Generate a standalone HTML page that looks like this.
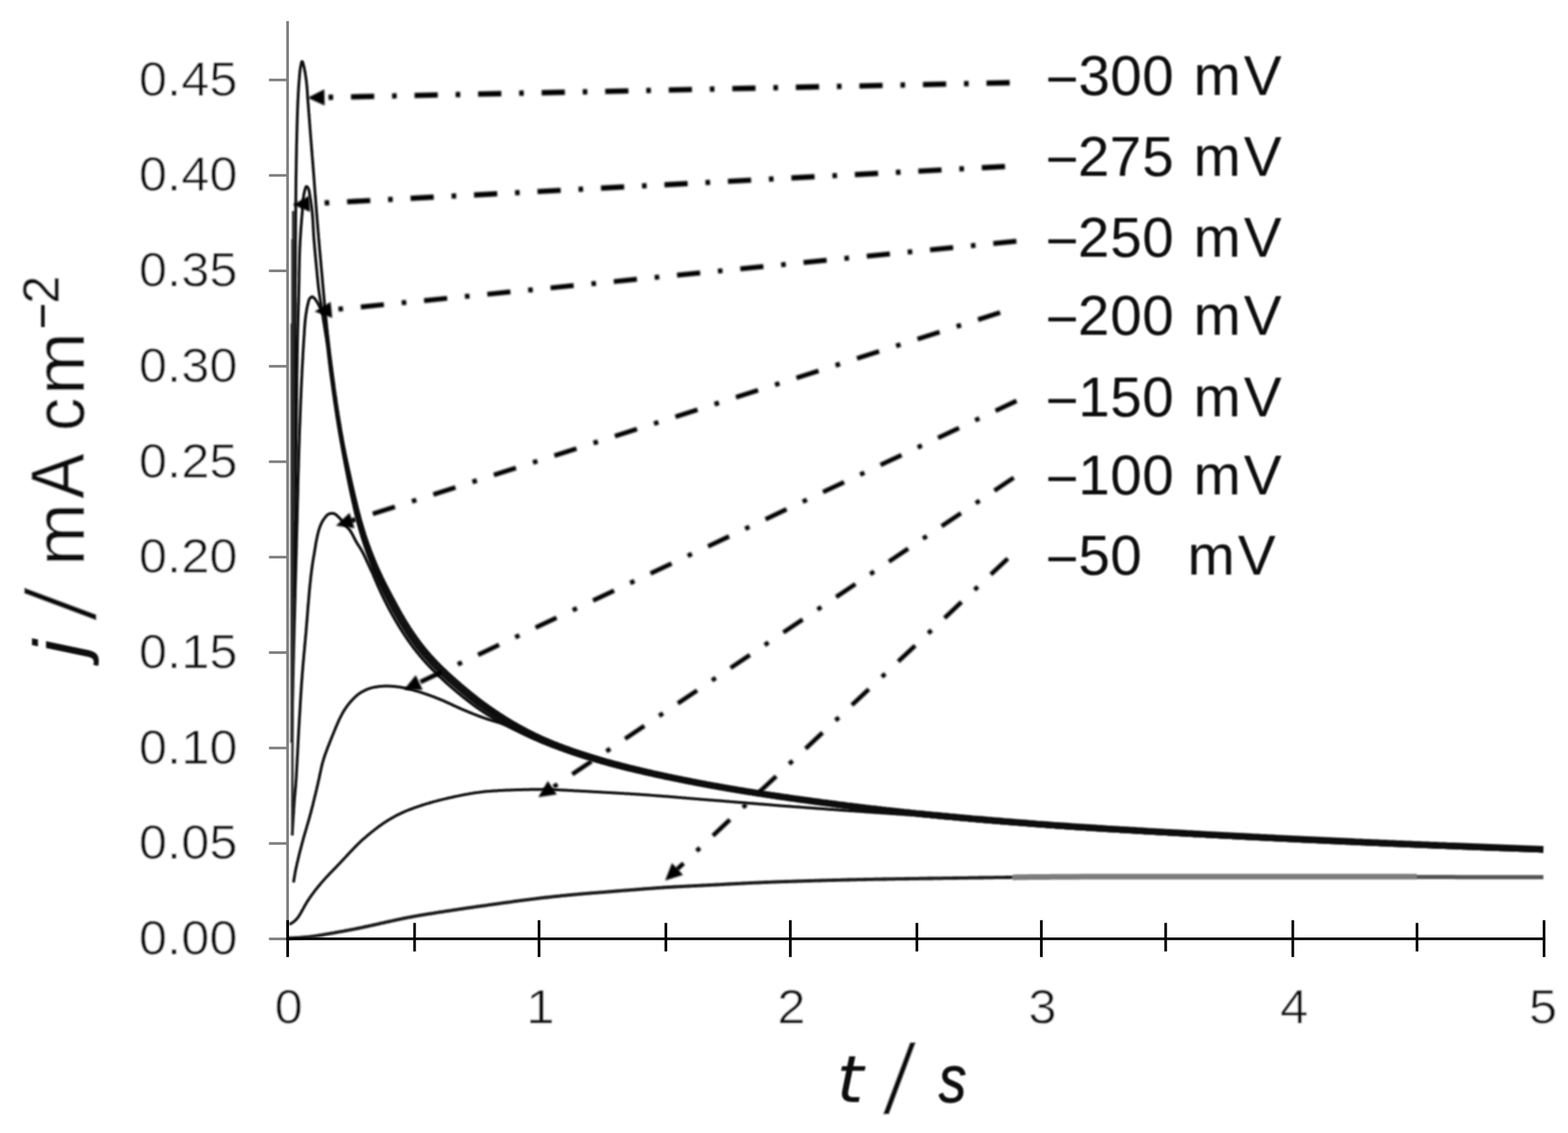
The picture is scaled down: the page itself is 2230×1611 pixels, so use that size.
<!DOCTYPE html>
<html lang="en"><head><meta charset="utf-8"><title>Current density transients</title>
<style>html,body{margin:0;padding:0;background:#fff;}body{width:2230px;height:1611px;overflow:hidden;}svg{display:block;}text{font-family:"Liberation Sans",sans-serif;fill:#0a0a0a;}</style></head><body>
<svg width="2230" height="1611" viewBox="0 0 2230 1611">
<defs><filter id="soft" x="-2%" y="-2%" width="104%" height="104%"><feGaussianBlur stdDeviation="1.1"/></filter><filter id="soft2" x="-2%" y="-2%" width="104%" height="104%"><feGaussianBlur stdDeviation="0.5"/></filter><filter id="soft3" x="-2%" y="-2%" width="104%" height="104%"><feGaussianBlur stdDeviation="1.6"/></filter></defs>
<rect width="2230" height="1611" fill="#fff"/>
<g filter="url(#soft)">
<g fill="none" stroke-linejoin="round" stroke-linecap="butt">
<path d="M417.6 742.0L417.6 740.7L417.7 739.4L417.7 738.1L417.7 736.9L417.7 735.7L417.8 734.5L417.8 733.3L417.8 732.1L417.8 730.8L417.9 729.5L417.9 728.2L417.9 726.7L417.9 725.2L418.0 723.6L418.0 721.9L418.0 720.0L418.0 715.1L418.1 709.6L418.1 703.4L418.2 696.6L418.2 689.4L418.2 681.8L418.2 673.9L418.3 665.7L418.3 657.3L418.3 648.8L418.3 640.3L418.4 631.9L418.4 623.5L418.4 615.4L418.5 607.5L418.5 600.0L418.5 593.0L418.6 586.1L418.6 579.3L418.7 572.6L418.7 565.8L418.8 559.1L418.8 552.5L418.9 545.8L418.9 539.0L419.0 532.3L419.0 525.5L419.1 518.6L419.1 511.6L419.2 504.5L419.2 497.3L419.3 490.0L419.4 481.2L419.4 472.2L419.5 462.9L419.5 453.4L419.6 443.8L419.7 434.1L419.7 424.4L419.8 414.6L419.9 404.8L419.9 395.1L420.0 385.4L420.0 375.9L420.1 366.6L420.2 357.5L420.2 348.6L420.3 340.0L420.4 333.2L420.4 326.5L420.4 319.9L420.5 313.4L420.5 307.0L420.6 300.7L420.6 294.5L420.7 288.3L420.7 282.2L420.8 276.1L420.8 270.1L420.9 264.0L420.9 258.0L421.0 252.0L421.1 246.0L421.2 240.0L421.3 234.3L421.4 228.6L421.5 222.8L421.6 217.0L421.7 211.1L421.8 205.3L422.0 199.5L422.1 193.8L422.2 188.2L422.4 182.7L422.5 177.3L422.7 172.0L422.8 167.0L423.0 162.1L423.1 157.4L423.3 153.0L423.4 150.2L423.5 147.6L423.6 144.9L423.7 142.4L423.9 139.9L424.0 137.5L424.1 135.2L424.2 132.9L424.3 130.6L424.5 128.4L424.6 126.3L424.7 124.1L424.9 122.1L425.0 120.0L425.1 118.0L425.3 116.0L425.4 114.5L425.5 113.0L425.7 111.5L425.8 110.1L425.9 108.6L426.0 107.2L426.1 105.8L426.3 104.5L426.4 103.1L426.5 101.8L426.7 100.6L426.8 99.4L427.0 98.2L427.1 97.1L427.3 96.0L427.5 95.0L427.6 94.4L427.7 93.8L427.9 93.1L428.0 92.5L428.1 91.8L428.2 91.2L428.4 90.6L428.5 90.0L428.6 89.5L428.8 89.0L428.9 88.5L429.0 88.2L429.2 87.8L429.3 87.6L429.5 87.5L429.6 87.4L429.7 87.4L429.9 87.6L430.0 87.8L430.2 88.0L430.3 88.3L430.5 88.7L430.6 89.1L430.8 89.6L430.9 90.1L431.1 90.6L431.3 91.2L431.4 91.7L431.6 92.3L431.7 92.9L431.9 93.4L432.0 94.0L432.3 95.0L432.5 96.1L432.8 97.3L433.0 98.6L433.3 99.9L433.6 101.2L433.8 102.7L434.1 104.1L434.3 105.6L434.5 107.1L434.8 108.6L435.0 110.1L435.2 111.6L435.4 113.1L435.6 114.6L435.8 116.0L436.0 117.5L436.1 119.0L436.3 120.5L436.4 122.0L436.6 123.5L436.7 125.0L436.8 126.5L436.9 128.1L437.0 129.6L437.1 131.1L437.2 132.7L437.3 134.2L437.4 135.7L437.5 137.2L437.6 138.7L437.7 140.2L437.8 141.7L437.9 143.1L438.0 144.5L438.1 146.0L438.3 147.4L438.4 148.8L438.5 150.2L438.6 151.6L438.7 153.1L438.8 154.5L438.9 155.9L439.0 157.3L439.1 158.8L439.2 160.2L439.4 161.7L439.5 163.1L439.6 164.7L439.7 166.3L439.8 167.9L440.0 169.5L440.1 171.1L440.2 172.7L440.3 174.3L440.4 175.9L440.6 177.5L440.7 179.1L440.8 180.8L440.9 182.4L441.1 184.0L441.2 185.7L441.3 187.3L441.4 188.9L441.6 190.6L441.7 192.2L441.8 193.9L442.0 195.6L442.1 197.2L442.2 198.9L442.4 200.6L442.5 202.2L442.6 203.9L442.8 205.6L442.9 207.3L443.0 209.0L443.2 210.7L443.3 212.3L443.4 214.0L443.6 215.7L443.7 217.5L443.8 219.2L444.0 221.0L444.1 222.7L444.3 224.5L444.4 226.2L444.6 228.0L444.7 229.8L444.8 231.5L445.0 233.3L445.1 235.1L445.3 236.9L445.4 238.7L445.5 240.5L445.7 242.3L445.8 244.1L446.0 246.0L446.1 248.0L446.3 249.9L446.4 251.9L446.6 253.9L446.7 255.9L446.9 257.9L447.0 259.9L447.2 261.9L447.3 263.9L447.5 265.9L447.6 267.9L447.8 269.9L447.9 271.9L448.1 273.9L448.2 275.9L448.4 277.9L448.5 280.0L448.7 282.0L448.9 284.0L449.0 286.1L449.2 288.1L449.3 290.2L449.5 292.2L449.6 294.3L449.8 296.4L450.0 298.4L450.1 300.5L450.3 302.5L450.4 304.6L450.6 306.6L450.8 308.7L450.9 310.7L451.1 312.8L451.3 314.8L451.4 316.9L451.6 318.9L451.8 321.0L451.9 323.1L452.1 325.1L452.3 327.2L452.4 329.2L452.6 331.3L452.8 333.3L453.0 335.4L453.1 337.4L453.3 339.5L453.5 341.5L453.7 343.6L453.8 345.6L454.0 347.6L454.2 349.6L454.4 351.7L454.5 353.7L454.7 355.7L454.9 357.7L455.1 359.7L455.3 361.8L455.4 363.8L455.6 365.8L455.8 367.9L456.0 369.9L456.2 371.9L456.4 374.0L456.5 376.1L456.7 378.2L456.9 380.3L457.1 382.4L457.3 384.5L457.5 386.7L457.7 388.8L457.9 390.9L458.1 393.0L458.3 395.2L458.4 397.3L458.6 399.5L458.8 401.6L459.0 403.7L459.2 405.9L459.4 408.0L459.6 410.3L459.8 412.5L460.0 414.7L460.2 416.9L460.4 419.2L460.6 421.4L460.8 423.7L461.0 425.9L461.2 428.2L461.4 430.4L461.6 432.6L461.9 434.9L462.1 437.1L462.3 439.3L462.5 441.5L462.7 443.7L462.9 445.9L463.1 448.0L463.3 450.1L463.5 452.3L463.7 454.4L464.0 456.5L464.2 458.6L464.4 460.7L464.6 462.8L464.8 464.9L465.0 467.0L465.3 469.1L465.5 471.2L465.7 473.2L465.9 475.3L466.2 477.3L466.4 479.3L466.6 481.2L466.8 483.2L467.0 485.1L467.3 487.0L467.5 488.9L467.7 490.8L467.9 492.7L468.2 494.6L468.4 496.5L468.6 498.4L468.8 500.3L469.1 502.2L469.3 504.1L469.5 506.0L469.8 507.9L470.0 509.7L470.2 511.5L470.5 513.3L470.7 515.2L470.9 517.0L471.2 518.8L471.4 520.6L471.6 522.4L471.9 524.2L472.1 526.0L472.3 527.8L472.6 529.6L472.8 531.4L473.0 533.2L473.3 535.0L473.5 536.8L473.8 538.6L474.0 540.3L474.2 542.1L474.5 543.8L474.7 545.6L475.0 547.3L475.2 549.1L475.4 550.8L475.7 552.6L475.9 554.3L476.2 556.0L476.4 557.8L476.7 559.5L476.9 561.3L477.2 563.0L477.4 564.7L477.7 566.4L477.9 568.2L478.2 569.9L478.4 571.6L478.7 573.3L478.9 575.0L479.2 576.7L479.5 578.4L479.7 580.1L480.0 581.8L480.2 583.5L480.5 585.2L480.8 586.9L481.0 588.6L481.3 590.3L481.6 592.0L481.8 593.6L482.1 595.3L482.4 596.9L482.6 598.6L482.9 600.2L483.2 601.9L483.5 603.5L483.7 605.2L484.0 606.8L484.3 608.5L484.6 610.1L484.8 611.8L485.1 613.4L485.4 615.0L485.7 616.7L486.0 618.3L486.3 619.9L486.6 621.5L486.9 623.1L487.1 624.7L487.4 626.3L487.7 628.0L488.0 629.6L488.3 631.2L488.6 632.8L488.9 634.4L489.2 635.9L489.5 637.5L489.9 639.1L490.2 640.7L490.5 642.3L490.8 643.9L491.1 645.5L491.4 647.1L491.8 648.7L492.1 650.2L492.4 651.8L492.8 653.4L493.1 655.0L493.4 656.5L493.8 658.1L494.1 659.7L494.4 661.3L494.8 662.8L495.1 664.4L495.5 666.0L495.8 667.6L496.1 669.1L496.5 670.7L496.8 672.3L497.2 673.9L497.5 675.5L497.9 677.1L498.2 678.6L498.6 680.2L499.0 681.8L499.3 683.4L499.7 685.0L500.0 686.6L500.4 688.1L500.7 689.7L501.1 691.3L501.5 692.9L501.8 694.4L502.2 696.0L502.5 697.6L502.9 699.1L503.3 700.7L503.6 702.2L504.0 703.8L504.3 705.3L504.7 706.9L505.1 708.4L505.4 710.0L505.8 711.5L506.2 713.1L506.6 714.6L506.9 716.1L507.3 717.7L507.7 719.2L508.1 720.7L508.4 722.2L508.8 723.6L509.2 725.1L509.5 726.6L509.9 728.1L510.3 729.5L510.7 731.0L511.1 732.4L511.5 733.9L511.8 735.4L512.2 736.8L512.6 738.2L513.0 739.7L513.4 741.1L513.8 742.5L514.2 743.9L514.6 745.2L515.0 746.6L515.4 747.9L515.8 749.3L516.2 750.6L516.6 751.9L517.0 753.3L517.4 754.6L517.8 755.9L518.2 757.2L518.6 758.5L519.0 759.8L519.4 761.1L519.9 762.4L520.3 763.7L520.7 764.9L521.1 766.2L521.5 767.4L521.9 768.6L522.4 769.8L522.8 771.0L523.2 772.2L523.6 773.4L524.1 774.6L524.5 775.8L524.9 777.0L525.4 778.2L525.8 779.4L526.2 780.6L526.7 781.8L527.1 782.9L527.6 784.1L528.0 785.2L528.4 786.4L528.9 787.5L529.3 788.7L529.8 789.8L530.2 790.9L530.7 792.0L531.1 793.2L531.6 794.3L532.0 795.4L532.5 796.5L533.0 797.7L533.4 798.8L533.9 799.9L534.4 801.0L534.8 802.1L535.3 803.2L535.8 804.3L536.2 805.3L536.7 806.4L537.2 807.5L537.7 808.6L538.2 809.6L538.6 810.7L539.1 811.8L539.6 812.9L540.1 813.9L540.6 815.0L541.1 816.0L541.6 817.1L542.1 818.2L542.6 819.2L543.1 820.3L543.6 821.3L544.1 822.4L544.6 823.4L545.1 824.5L545.6 825.5L546.1 826.5L546.7 827.6L547.2 828.6L547.7 829.6L548.2 830.7L548.7 831.7L549.3 832.8L549.8 833.8L550.3 834.8L550.9 835.9L551.4 836.9L551.9 837.9L552.4 838.9L553.0 840.0L553.5 841.0L554.1 842.0L554.6 843.1L555.1 844.1L555.7 845.1L556.2 846.1L556.8 847.2L557.3 848.2L557.9 849.2L558.4 850.2L559.0 851.3L559.5 852.3L560.1 853.3L560.6 854.3L561.2 855.4L561.7 856.4L562.3 857.4L562.8 858.5L563.4 859.5L563.9 860.5L564.5 861.5L565.0 862.6L565.6 863.6L566.2 864.6L566.7 865.6L567.3 866.6L567.9 867.7L568.4 868.7L569.0 869.7L569.6 870.7L570.2 871.7L570.7 872.7L571.3 873.7L571.9 874.7L572.5 875.7L573.1 876.7L573.6 877.7L574.2 878.7L574.8 879.7L575.4 880.7L576.0 881.7L576.6 882.7L577.2 883.7L577.8 884.7L578.4 885.7L579.0 886.7L579.6 887.6L580.2 888.6L580.8 889.6L581.5 890.5L582.1 891.5L582.7 892.5L583.3 893.4L583.9 894.4L584.6 895.4L585.2 896.3L585.8 897.3L586.5 898.2L587.1 899.2L587.7 900.1L588.4 901.0L589.0 902.0L589.7 902.9L590.3 903.8L590.9 904.8L591.6 905.7L592.2 906.6L592.9 907.5L593.6 908.4L594.2 909.3L594.9 910.2L595.5 911.1L596.2 912.0L596.9 912.9L597.6 913.8L598.2 914.7L598.9 915.6L599.6 916.5L600.3 917.3L601.0 918.2L601.6 919.1L602.3 919.9L603.0 920.8L603.7 921.6L604.4 922.5L605.1 923.3L605.8 924.2L606.5 925.0L607.2 925.9L607.9 926.7L608.7 927.6L609.4 928.4L610.1 929.2L610.8 930.0L611.5 930.9L612.3 931.7L613.0 932.5L613.7 933.3L614.5 934.1L615.2 934.9L615.9 935.7L616.7 936.5L617.4 937.4L618.2 938.2L618.9 939.0L619.7 939.7L620.5 940.5L621.2 941.3L622.0 942.1L622.8 942.9L623.5 943.7L624.3 944.5L625.1 945.3L625.9 946.1L626.6 946.9L627.4 947.6L628.2 948.4L629.0 949.2L629.8 950.0L630.6 950.7L631.4 951.5L632.2 952.3L633.0 953.0L633.8 953.8L634.7 954.6L635.5 955.4L636.3 956.1L637.1 956.9L638.0 957.7L638.8 958.4L639.6 959.2L640.5 960.0L641.3 960.7L642.2 961.5L643.0 962.3L643.8 963.0L644.7 963.8L645.6 964.5L646.4 965.3L647.3 966.1L648.2 966.8L649.0 967.6L649.9 968.4L650.8 969.1L651.7 969.9L652.6 970.7L653.5 971.4L654.3 972.2L655.2 973.0L656.1 973.7L657.0 974.5L657.9 975.2L658.8 976.0L659.7 976.8L660.6 977.5L661.6 978.3L662.5 979.1L663.4 979.8L664.3 980.6L665.3 981.4L666.2 982.2L667.1 982.9L668.1 983.7L669.0 984.5L669.9 985.2L670.9 986.0L671.8 986.8L672.8 987.5L673.7 988.3L674.7 989.0L675.6 989.8L676.6 990.5L677.6 991.3L678.6 992.1L679.5 992.8L680.5 993.6L681.5 994.3L682.5 995.1L683.5 995.8L684.4 996.6L685.4 997.3L686.4 998.0L687.4 998.8L688.4 999.5L689.4 1000.3L690.4 1001.0L691.4 1001.7L692.5 1002.4L693.5 1003.2L694.5 1003.9L695.6 1004.6L696.6 1005.4L697.6 1006.1L698.7 1006.8L699.7 1007.5L700.8 1008.2L701.8 1009.0L702.9 1009.7L703.9 1010.4L705.0 1011.1L706.0 1011.8L707.1 1012.5L708.2 1013.2L709.3 1013.9L710.3 1014.7L711.4 1015.4L712.5 1016.1L713.6 1016.8L714.7 1017.5L715.8 1018.2L716.9 1018.9L718.0 1019.7L719.1 1020.4L720.3 1021.1L721.4 1021.8L722.5 1022.5L723.6 1023.1L724.7 1023.8L725.9 1024.5L727.0 1025.2L728.2 1025.9L729.4 1026.6L730.5 1027.3L731.7 1028.0L732.9 1028.6L734.1 1029.3L735.3 1030.0L736.5 1030.7L737.6 1031.3L738.8 1032.0L740.0 1032.6L741.2 1033.3L742.4 1034.0L743.7 1034.6L744.9 1035.3L746.1 1035.9L747.4 1036.6L748.6 1037.2L749.9 1037.9L751.1 1038.6L752.4 1039.2L753.6 1039.8L754.9 1040.5L756.2 1041.1L757.5 1041.8L758.7 1042.4L760.0 1043.0L761.3 1043.7L762.6 1044.3L763.9 1044.9L765.2 1045.5L766.5 1046.1L767.8 1046.8L769.2 1047.4L770.5 1048.0L771.8 1048.6L773.2 1049.2L774.5 1049.8L775.9 1050.4L777.2 1051.0L778.6 1051.5L779.9 1052.1L781.3 1052.7L782.7 1053.3L784.0 1053.9L785.4 1054.4L786.8 1055.0L788.2 1055.6L789.6 1056.1L791.0 1056.7L792.5 1057.2L793.9 1057.8L795.3 1058.4L796.8 1058.9L798.2 1059.4L799.7 1060.0L801.1 1060.5L802.6 1061.1L804.0 1061.6L805.5 1062.1L807.0 1062.6L808.4 1063.2L809.9 1063.7L811.4 1064.2L812.9 1064.8L814.4 1065.3L815.9 1065.8L817.5 1066.4L819.0 1066.9L820.5 1067.4L822.1 1067.9L823.6 1068.5L825.1 1069.0L826.7 1069.5L828.2 1070.0L829.8 1070.5L831.3 1071.0L832.9 1071.5L834.4 1072.0L836.0 1072.5L837.6 1073.0L839.2 1073.5L840.9 1074.0L842.5 1074.5L844.1 1075.0L845.7 1075.5L847.4 1076.0L849.0 1076.5L850.6 1077.0L852.3 1077.5L853.9 1077.9L855.5 1078.4L857.2 1078.9L858.8 1079.4L860.5 1079.8L862.2 1080.3L863.9 1080.8L865.6 1081.3L867.3 1081.7L869.1 1082.2L870.8 1082.7L872.5 1083.1L874.2 1083.6L876.0 1084.1L877.7 1084.5L879.5 1085.0L881.2 1085.5L883.0 1085.9L884.7 1086.4L886.5 1086.8L888.2 1087.3L890.0 1087.7L891.9 1088.2L893.7 1088.7L895.5 1089.1L897.3 1089.6L899.2 1090.0L901.0 1090.5L902.8 1090.9L904.7 1091.4L906.5 1091.8L908.4 1092.3L910.2 1092.7L912.1 1093.1L913.9 1093.6L915.8 1094.0L917.7 1094.5L919.6 1094.9L921.5 1095.4L923.5 1095.8L925.4 1096.2L927.3 1096.7L929.3 1097.1L931.2 1097.6L933.2 1098.0L935.1 1098.4L937.1 1098.9L939.1 1099.3L941.0 1099.7L943.0 1100.2L945.0 1100.6L947.0 1101.0L949.0 1101.4L951.0 1101.9L953.0 1102.3L955.1 1102.7L957.2 1103.2L959.2 1103.6L961.3 1104.0L963.4 1104.5L965.4 1104.9L967.5 1105.3L969.6 1105.7L971.7 1106.2L973.8 1106.6L975.9 1107.0L978.0 1107.4L980.1 1107.8L982.2 1108.2L984.3 1108.7L986.5 1109.1L988.7 1109.5L990.9 1109.9L993.1 1110.4L995.3 1110.8L997.5 1111.2L999.7 1111.6L1001.9 1112.0L1004.1 1112.4L1006.3 1112.9L1008.5 1113.3L1010.8 1113.7L1013.0 1114.1L1015.2 1114.5L1017.5 1114.9L1019.8 1115.3L1022.1 1115.7L1024.4 1116.1L1026.7 1116.5L1029.0 1117.0L1031.4 1117.4L1033.7 1117.8L1036.0 1118.2L1038.4 1118.6L1040.7 1119.0L1043.1 1119.4L1045.4 1119.8L1047.8 1120.2L1050.2 1120.6L1052.5 1121.0L1054.9 1121.4L1057.4 1121.8L1059.8 1122.2L1062.3 1122.6L1064.8 1123.0L1067.2 1123.4L1069.7 1123.8L1072.2 1124.2L1074.7 1124.6L1077.2 1125.0L1079.6 1125.3L1082.1 1125.7L1084.6 1126.1L1087.2 1126.5L1089.7 1126.9L1092.2 1127.3L1094.7 1127.7L1097.3 1128.1L1099.9 1128.4L1102.5 1128.8L1105.1 1129.2L1107.8 1129.6L1110.4 1130.0L1113.0 1130.4L1115.7 1130.8L1118.3 1131.1L1121.0 1131.5L1123.6 1131.9L1126.3 1132.3L1128.9 1132.7L1131.6 1133.0L1134.3 1133.4L1137.0 1133.8L1139.7 1134.2L1142.5 1134.6L1145.3 1134.9L1148.0 1135.3L1150.8 1135.7L1153.6 1136.1L1156.4 1136.5L1159.2 1136.8L1162.0 1137.2L1164.8 1137.6L1167.7 1138.0L1170.5 1138.4L1173.3 1138.7L1176.1 1139.1L1179.0 1139.5L1181.8 1139.8L1184.8 1140.2L1187.7 1140.6L1190.6 1141.0L1193.6 1141.4L1196.5 1141.7L1199.5 1142.1L1202.5 1142.5L1205.5 1142.9L1208.4 1143.2L1211.4 1143.6L1214.4 1144.0L1217.4 1144.3L1220.4 1144.7L1223.4 1145.1L1226.4 1145.4L1229.4 1145.8L1232.6 1146.2L1235.7 1146.5L1238.8 1146.9L1241.9 1147.2L1245.1 1147.6L1248.2 1148.0L1251.4 1148.3L1254.5 1148.7L1257.7 1149.0L1260.9 1149.4L1264.0 1149.7L1267.2 1150.1L1270.4 1150.4L1273.6 1150.8L1276.8 1151.1L1280.0 1151.5L1283.3 1151.8L1286.6 1152.2L1290.0 1152.5L1293.3 1152.8L1296.6 1153.2L1300.0 1153.5L1303.3 1153.9L1306.7 1154.2L1310.0 1154.5L1313.4 1154.8L1316.7 1155.2L1320.1 1155.5L1323.5 1155.8L1326.9 1156.2L1330.3 1156.5L1333.7 1156.8L1337.2 1157.1L1340.7 1157.5L1344.3 1157.8L1347.8 1158.1L1351.3 1158.5L1354.9 1158.8L1358.4 1159.1L1362.0 1159.4L1365.6 1159.8L1369.1 1160.1L1372.7 1160.4L1376.3 1160.7L1379.9 1161.0L1383.5 1161.4L1387.1 1161.7L1390.7 1162.0L1394.4 1162.3L1398.2 1162.6L1401.9 1162.9L1405.7 1163.3L1409.4 1163.6L1413.2 1163.9L1417.0 1164.2L1420.8 1164.5L1424.5 1164.8L1428.3 1165.2L1432.1 1165.5L1435.9 1165.8L1439.8 1166.1L1443.6 1166.4L1447.4 1166.7L1451.2 1167.0L1455.2 1167.3L1459.2 1167.6L1463.1 1167.9L1467.1 1168.2L1471.1 1168.5L1475.1 1168.9L1479.1 1169.2L1483.1 1169.5L1487.2 1169.8L1491.2 1170.1L1495.2 1170.4L1499.3 1170.7L1503.3 1170.9L1507.4 1171.2L1511.4 1171.5L1515.5 1171.8L1519.7 1172.1L1523.9 1172.4L1528.1 1172.7L1532.4 1173.0L1536.6 1173.2L1540.9 1173.5L1545.1 1173.8L1549.4 1174.1L1553.6 1174.3L1557.9 1174.6L1562.2 1174.9L1566.5 1175.1L1570.8 1175.4L1575.1 1175.7L1579.4 1175.9L1583.7 1176.2L1588.2 1176.5L1592.7 1176.8L1597.2 1177.0L1601.7 1177.3L1606.2 1177.6L1610.7 1177.8L1615.2 1178.1L1619.7 1178.4L1624.2 1178.6L1628.8 1178.9L1633.3 1179.2L1637.9 1179.4L1642.4 1179.7L1647.0 1180.0L1651.6 1180.2L1656.2 1180.5L1660.9 1180.7L1665.7 1181.0L1670.4 1181.3L1675.2 1181.6L1680.0 1181.8L1684.8 1182.1L1689.6 1182.4L1694.4 1182.6L1699.2 1182.9L1704.0 1183.1L1708.8 1183.4L1713.7 1183.7L1718.5 1183.9L1723.4 1184.2L1728.2 1184.5L1733.1 1184.7L1738.2 1185.0L1743.2 1185.3L1748.3 1185.5L1753.3 1185.8L1758.4 1186.0L1763.5 1186.3L1768.6 1186.6L1773.7 1186.8L1778.8 1187.1L1783.9 1187.4L1789.0 1187.6L1794.2 1187.9L1799.3 1188.1L1804.5 1188.4L1809.6 1188.6L1814.8 1188.9L1820.1 1189.2L1825.5 1189.4L1830.9 1189.7L1836.2 1190.0L1841.6 1190.2L1847.0 1190.5L1852.4 1190.7L1857.8 1191.0L1863.3 1191.3L1868.7 1191.5L1874.1 1191.8L1879.6 1192.0L1885.1 1192.3L1890.5 1192.6L1896.0 1192.8L1901.5 1193.1L1907.2 1193.3L1912.9 1193.6L1918.6 1193.8L1924.3 1194.1L1930.0 1194.4L1935.7 1194.6L1941.5 1194.9L1947.2 1195.1L1953.0 1195.4L1958.7 1195.6L1964.5 1195.9L1970.3 1196.1L1976.1 1196.4L1981.9 1196.6L1987.7 1196.9L1993.6 1197.1L1999.6 1197.4L2005.6 1197.6L2011.7 1197.9L2017.7 1198.1L2023.8 1198.4L2029.9 1198.6L2036.0 1198.9L2042.1 1199.1L2048.2 1199.4L2054.3 1199.6L2060.5 1199.9L2066.6 1200.1L2072.8 1200.3L2078.9 1200.6L2085.1 1200.8L2091.3 1201.1L2097.7 1201.3L2104.1 1201.6L2110.6 1201.8L2117.0 1202.1L2123.5 1202.3L2130.0 1202.5L2136.5 1202.8L2143.0 1203.0L2149.5 1203.3L2156.0 1203.5L2162.6 1203.7L2169.1 1204.0L2175.6 1204.2L2182.1 1204.4L2188.6 1204.7L2195.1 1204.9" stroke="#0a0a0a" stroke-width="4.0"/>
<path d="M416.0 897.0L416.0 895.3L416.1 893.7L416.1 892.2L416.1 890.7L416.2 889.2L416.2 887.7L416.2 886.2L416.3 884.6L416.3 883.1L416.4 881.5L416.4 879.8L416.4 878.0L416.5 876.2L416.5 874.2L416.6 872.2L416.6 870.0L416.7 865.2L416.8 859.9L416.9 854.1L417.0 847.9L417.2 841.4L417.3 834.6L417.4 827.5L417.6 820.2L417.7 812.8L417.9 805.2L418.0 797.5L418.1 789.9L418.3 782.3L418.4 774.7L418.6 767.3L418.7 760.0L418.8 752.2L419.0 744.3L419.1 736.4L419.3 728.4L419.4 720.3L419.6 712.3L419.7 704.1L419.9 696.0L420.0 687.8L420.2 679.6L420.3 671.3L420.5 663.1L420.6 654.8L420.7 646.6L420.9 638.3L421.0 630.0L421.1 621.3L421.3 612.4L421.4 603.4L421.5 594.2L421.6 585.0L421.8 575.8L421.9 566.5L422.0 557.3L422.1 548.2L422.2 539.2L422.3 530.4L422.5 521.7L422.6 513.4L422.7 505.2L422.9 497.4L423.0 490.0L423.1 485.0L423.2 480.1L423.3 475.4L423.4 470.8L423.5 466.4L423.7 462.0L423.8 457.7L423.9 453.5L424.0 449.3L424.1 445.2L424.2 441.1L424.3 436.9L424.5 432.8L424.6 428.6L424.7 424.3L424.8 420.0L424.9 415.6L425.0 411.2L425.1 406.7L425.2 402.2L425.3 397.7L425.3 393.2L425.4 388.6L425.5 384.2L425.6 379.7L425.7 375.3L425.8 370.9L425.9 366.5L426.0 362.3L426.2 358.1L426.3 354.0L426.5 350.0L426.7 346.7L426.8 343.5L427.0 340.3L427.2 337.1L427.4 334.0L427.6 330.9L427.8 327.8L428.0 324.8L428.2 321.8L428.5 318.9L428.7 316.0L428.9 313.2L429.1 310.4L429.4 307.7L429.6 305.0L429.8 302.4L430.0 300.5L430.1 298.5L430.2 296.6L430.4 294.7L430.5 292.8L430.7 290.9L430.8 289.1L430.9 287.3L431.1 285.6L431.2 283.9L431.4 282.3L431.6 280.7L431.8 279.2L432.0 277.7L432.2 276.3L432.5 275.0L432.7 274.2L432.8 273.4L433.0 272.6L433.2 271.8L433.4 270.9L433.6 270.2L433.8 269.4L434.0 268.7L434.2 268.0L434.4 267.3L434.6 266.8L434.8 266.3L435.1 265.9L435.3 265.5L435.6 265.3L435.8 265.2L436.0 265.2L436.1 265.2L436.3 265.3L436.5 265.4L436.6 265.5L436.8 265.6L437.0 265.8L437.2 266.0L437.4 266.2L437.5 266.4L437.7 266.7L437.9 266.9L438.0 267.2L438.2 267.5L438.4 267.7L438.5 268.0L438.7 268.5L439.0 269.1L439.2 269.7L439.4 270.4L439.5 271.2L439.7 271.9L439.9 272.8L440.0 273.6L440.1 274.4L440.3 275.3L440.4 276.1L440.5 277.0L440.6 277.8L440.8 278.6L440.9 279.3L441.0 280.0L441.1 280.5L441.2 281.1L441.3 281.6L441.4 282.1L441.4 282.6L441.5 283.1L441.6 283.6L441.7 284.1L441.8 284.6L441.8 285.1L441.9 285.6L442.0 286.0L442.0 286.5L442.1 287.0L442.2 287.5L442.3 288.0L442.3 288.5L442.4 289.0L442.5 289.5L442.5 290.0L442.6 290.5L442.7 291.0L442.8 291.5L442.8 292.0L442.9 292.5L443.0 293.0L443.0 293.5L443.1 294.0L443.2 294.5L443.2 295.0L443.3 295.5L443.4 296.0L443.4 296.5L443.5 297.0L443.5 297.5L443.6 298.0L443.7 298.5L443.7 299.0L443.8 299.5L443.8 300.0L443.9 300.5L443.9 301.0L444.0 301.5L444.1 302.0L444.1 302.5L444.2 303.0L444.2 303.5L444.2 304.0L444.3 304.5L444.3 305.0L444.4 305.5L444.4 306.0L444.5 306.5L444.5 307.0L444.5 307.5L444.6 308.0L444.6 308.5L444.6 309.0L444.7 309.5L444.7 310.0L444.7 310.5L444.8 311.0L444.8 311.5L444.8 312.0L444.9 312.5L444.9 313.0L444.9 313.5L445.0 314.0L445.0 314.5L445.0 315.0L445.1 315.5L445.1 316.0L445.1 316.5L445.1 317.0L445.2 317.5L445.2 318.0L445.2 318.5L445.2 319.0L445.3 319.5L445.3 320.0L445.3 320.5L445.4 321.0L445.4 321.5L445.4 322.0L445.4 322.5L445.5 323.0L445.5 323.5L445.5 324.0L445.5 324.5L445.6 325.0L445.6 325.5L445.6 326.0L445.6 326.5L445.7 327.0L445.7 327.5L445.7 328.0L445.7 328.5L445.8 329.0L445.8 329.5L445.8 330.0L445.9 330.5L445.9 331.0L445.9 331.5L445.9 332.0L446.0 332.5L446.0 333.0L446.0 333.5L446.1 334.0L446.1 334.5L446.1 335.0L446.2 335.5L446.2 336.0L446.2 336.5L446.3 337.0L446.3 337.5L446.3 338.0L446.4 338.5L446.4 339.0L446.5 339.5L446.5 340.0L446.5 340.5L446.6 341.0L446.6 341.5L446.7 342.0L446.7 342.5L446.7 343.0L446.8 343.5L446.8 344.0L446.9 344.5L446.9 345.0L447.0 345.5L447.0 346.0L447.0 346.5L447.1 347.0L447.1 347.5L447.2 348.0L447.2 348.5L447.3 349.0L447.3 349.5L447.3 350.0L447.4 350.5L447.4 351.0L447.5 351.5L447.5 352.0L447.6 352.5L447.6 353.0L447.6 353.5L447.7 354.0L447.7 354.5L447.8 355.0L447.8 355.5L447.9 356.0L447.9 356.5L447.9 357.0L448.0 357.5L448.0 358.0L448.1 358.5L448.1 359.0L448.2 359.5L448.2 360.0L448.3 360.5L448.3 361.0L448.3 361.5L448.4 362.0L448.4 362.5L448.5 363.0L448.5 363.5L448.6 364.0L448.6 364.5L448.7 365.0L448.7 365.5L448.8 366.0L448.8 366.5L448.9 367.0L448.9 367.5L448.9 368.0L449.0 368.5L449.0 369.0L449.1 369.5L449.1 370.0L449.2 370.5L449.2 371.0L449.3 371.5L449.3 372.0L449.4 372.5L449.4 373.0L449.5 373.5L449.5 374.0L449.6 374.5L449.6 375.0L449.7 375.5L449.7 376.0L449.8 376.5L449.8 377.0L449.8 377.5L449.9 378.0L449.9 378.5L450.0 379.0L450.0 379.5L450.1 380.0L450.1 380.5L450.2 381.0L450.2 381.5L450.3 382.0L450.3 382.5L450.4 383.0L450.4 383.5L450.5 384.0L450.5 384.5L450.6 385.0L450.6 385.5L450.7 386.0L450.7 386.5L450.8 387.0L450.8 387.5L450.9 388.0L450.9 388.5L450.9 389.0L451.0 389.5L451.0 390.0L451.1 390.5L451.1 391.0L451.2 391.5L451.2 392.0L451.3 392.5L451.3 393.0L451.4 393.5L451.4 394.0L451.5 394.5L451.5 395.0L451.6 395.5L451.6 396.0L451.7 396.5L451.7 397.0L451.8 397.5L451.8 398.0L451.9 398.5L451.9 399.0L451.9 399.5L452.0 400.0L452.1 400.5L452.1 401.0L452.2 401.5L452.2 402.0L452.3 402.5L452.3 403.0L452.4 403.5L452.4 404.0L452.5 404.5L452.5 405.0L452.6 405.5L452.6 406.0L452.7 406.5L452.7 407.0L452.8 407.5L452.9 408.0L452.9 408.5L453.0 409.0L453.0 409.5L453.1 410.0L453.2 410.5L453.2 411.0L453.3 411.5L453.4 412.0L453.4 412.5L453.5 413.0L453.6 413.5L453.6 414.0L453.7 414.5L453.8 415.0L453.8 415.5L453.9 416.0L454.0 416.5L454.0 417.0L454.1 417.5L454.2 418.0L454.3 418.5L454.3 419.0L454.4 419.5L454.5 420.0L454.6 420.5L454.6 421.0L454.7 421.5L454.8 422.0L454.9 422.5L454.9 423.0L455.0 423.5L455.1 424.0L455.2 424.5L455.3 425.0L455.3 425.5L455.4 426.0L455.5 426.5L455.6 427.0L455.7 427.5L455.8 428.0L455.8 428.5L455.9 429.0L456.0 429.5L456.1 430.0L456.2 430.5L456.3 431.0L456.4 431.5L456.5 432.0L456.5 432.5L456.6 433.0L456.7 433.5L456.8 434.0L456.9 434.5L457.0 435.0L457.1 435.5L457.2 436.0L457.3 436.5L457.4 437.0L457.5 437.5L457.6 438.0L457.6 438.5L457.7 439.0L457.8 439.5L457.9 440.0L458.0 440.5L458.1 441.0L458.2 441.5L458.3 442.0L458.4 442.5L458.5 443.0L458.6 443.5L458.7 444.0L458.8 444.5L458.9 445.0L459.0 445.5L459.1 446.0L459.2 446.5L459.3 447.0L459.4 447.5L459.5 448.0L459.6 448.5L459.7 449.0L459.8 449.5L459.9 450.0L460.0 450.5L460.1 451.0L460.2 451.5L460.3 452.0L460.5 452.5L460.6 453.0L460.7 453.5L460.8 454.0L460.9 454.5L461.0 455.0L461.1 455.5L461.2 456.0L461.3 456.5L461.4 457.0L461.5 457.5L461.6 458.0L461.8 458.4L461.9 458.9L462.0 459.4L462.1 459.9L462.2 460.4L462.3 460.9L462.4 461.4L462.5 461.9L462.6 462.4L462.8 462.9L462.9 463.5L463.0 464.0L463.1 464.7L463.2 465.4L463.4 466.1L463.5 466.8L463.6 467.5L463.8 468.3L463.9 469.0L464.0 469.8L464.1 470.5L464.3 471.3L464.4 472.1L464.5 473.0L464.6 473.8L464.8 474.7L464.9 475.6L465.0 476.5L465.2 477.8L465.4 479.2L465.6 480.7L465.8 482.3L465.9 483.9L466.1 485.5L466.3 487.2L466.5 488.8L466.7 490.5L466.8 492.3L467.0 494.0L467.2 495.7L467.4 497.4L467.6 499.1L467.8 500.7L468.0 502.3L468.1 503.9L468.3 505.4L468.5 507.0L468.7 508.5L468.9 510.1L469.1 511.6L469.3 513.2L469.5 514.7L469.6 516.3L469.8 517.8L470.0 519.3L470.2 520.9L470.4 522.4L470.6 523.9L470.8 525.5L471.0 527.0L471.2 528.5L471.4 530.0L471.6 531.5L471.8 533.0L472.0 534.5L472.2 536.0L472.4 537.4L472.6 538.9L472.8 540.4L473.0 541.9L473.2 543.4L473.4 544.9L473.6 546.4L473.8 547.8L474.0 549.3L474.2 550.8L474.4 552.3L474.6 553.7L474.8 555.2L475.0 556.6L475.2 558.1L475.4 559.6L475.6 561.0L475.8 562.5L476.0 563.9L476.3 565.4L476.5 566.8L476.7 568.3L476.9 569.7L477.1 571.2L477.3 572.6L477.5 574.1L477.7 575.5L478.0 576.9L478.2 578.4L478.4 579.8L478.6 581.2L478.8 582.6L479.0 584.1L479.3 585.5L479.5 586.9L479.7 588.3L479.9 589.7L480.1 591.2L480.4 592.6L480.6 594.0L480.8 595.4L481.0 596.8L481.3 598.2L481.5 599.6L481.7 601.0L481.9 602.4L482.2 603.8L482.4 605.1L482.6 606.5L482.9 607.9L483.1 609.3L483.3 610.7L483.6 612.0L483.8 613.4L484.0 614.8L484.3 616.2L484.5 617.5L484.7 618.9L485.0 620.3L485.2 621.6L485.5 623.0L485.7 624.3L485.9 625.7L486.2 627.0L486.4 628.4L486.7 629.8L486.9 631.1L487.2 632.4L487.4 633.8L487.7 635.1L487.9 636.5L488.2 637.8L488.4 639.2L488.7 640.5L488.9 641.9L489.2 643.2L489.4 644.5L489.7 645.9L489.9 647.2L490.2 648.5L490.5 649.8L490.7 651.2L491.0 652.5L491.3 653.8L491.5 655.2L491.8 656.5L492.1 657.8L492.3 659.1L492.6 660.5L492.9 661.8L493.1 663.1L493.4 664.5L493.7 665.8L494.0 667.1L494.2 668.5L494.5 669.8L494.8 671.1L495.1 672.5L495.3 673.8L495.6 675.1L495.9 676.5L496.2 677.8L496.5 679.2L496.7 680.5L497.0 681.8L497.3 683.2L497.6 684.5L497.9 685.8L498.2 687.1L498.5 688.5L498.7 689.8L499.0 691.1L499.3 692.5L499.6 693.8L499.9 695.1L500.2 696.5L500.5 697.8L500.8 699.1L501.1 700.4L501.4 701.8L501.6 703.1L501.9 704.4L502.2 705.7L502.5 707.0L502.8 708.3L503.1 709.6L503.4 710.9L503.7 712.2L504.0 713.5L504.3 714.8L504.6 716.1L504.9 717.3L505.2 718.6L505.5 719.9L505.8 721.2L506.2 722.5L506.5 723.7L506.8 725.0L507.1 726.3L507.4 727.5L507.7 728.7L508.0 730.0L508.3 731.2L508.6 732.4L508.9 733.6L509.3 734.9L509.6 736.1L509.9 737.3L510.2 738.5L510.5 739.7L510.9 740.9L511.2 742.1L511.5 743.3L511.8 744.5L512.2 745.7L512.5 746.8L512.8 748.0L513.1 749.1L513.5 750.2L513.8 751.4L514.1 752.5L514.4 753.6L514.8 754.8L515.1 755.9L515.4 757.0L515.8 758.1L516.1 759.2L516.5 760.3L516.8 761.4L517.2 762.5L517.5 763.6L517.8 764.6L518.2 765.7L518.5 766.7L518.8 767.8L519.2 768.8L519.5 769.8L519.9 770.9L520.2 771.9L520.6 772.9L520.9 774.0L521.3 775.0L521.7 776.0L522.0 777.0L522.4 778.0L522.7 779.1L523.1 780.0L523.4 781.0L523.8 782.0L524.2 783.0L524.5 784.0L524.9 785.0L525.2 785.9L525.6 786.9L526.0 787.9L526.3 788.9L526.7 789.8L527.1 790.8L527.5 791.8L527.8 792.7L528.2 793.7L528.6 794.7L529.0 795.6L529.3 796.6L529.7 797.5L530.1 798.4L530.5 799.4L530.9 800.3L531.2 801.2L531.6 802.2L532.0 803.1L532.4 804.0L532.8 805.0L533.2 805.9L533.6 806.8L534.0 807.7L534.4 808.7L534.8 809.6L535.1 810.5L535.5 811.4L535.9 812.3L536.3 813.2L536.7 814.1L537.1 815.0L537.5 815.9L538.0 816.8L538.4 817.7L538.8 818.6L539.2 819.5L539.6 820.4L540.0 821.3L540.4 822.2L540.8 823.1L541.3 824.0L541.7 824.9L542.1 825.8L542.5 826.7L542.9 827.6L543.3 828.5L543.8 829.3L544.2 830.2L544.6 831.1L545.1 832.0L545.5 832.9L545.9 833.7L546.3 834.6L546.8 835.5L547.2 836.4L547.6 837.3L548.1 838.1L548.5 839.0L549.0 839.9L549.4 840.8L549.8 841.6L550.3 842.5L550.7 843.4L551.2 844.3L551.6 845.1L552.1 846.0L552.5 846.9L553.0 847.8L553.4 848.6L553.9 849.5L554.3 850.4L554.8 851.2L555.2 852.1L555.7 853.0L556.2 853.9L556.6 854.7L557.1 855.6L557.5 856.5L558.0 857.3L558.5 858.2L558.9 859.1L559.4 860.0L559.9 860.8L560.3 861.7L560.8 862.6L561.3 863.4L561.7 864.3L562.2 865.2L562.7 866.0L563.2 866.9L563.6 867.8L564.1 868.6L564.6 869.5L565.1 870.3L565.6 871.2L566.0 872.1L566.5 872.9L567.0 873.8L567.5 874.6L568.0 875.5L568.5 876.3L569.0 877.2L569.5 878.1L570.0 878.9L570.5 879.8L571.0 880.6L571.5 881.4L572.0 882.3L572.5 883.1L573.0 884.0L573.5 884.8L574.0 885.6L574.5 886.5L575.0 887.3L575.5 888.1L576.0 889.0L576.6 889.8L577.1 890.6L577.6 891.5L578.1 892.3L578.6 893.1L579.2 893.9L579.7 894.8L580.2 895.6L580.8 896.4L581.3 897.2L581.8 898.0L582.3 898.8L582.9 899.6L583.4 900.4L584.0 901.2L584.5 902.0L585.0 902.8L585.6 903.6L586.1 904.4L586.7 905.2L587.2 906.0L587.8 906.8L588.3 907.6L588.9 908.3L589.5 909.1L590.0 909.9L590.6 910.7L591.1 911.4L591.7 912.2L592.3 913.0L592.8 913.8L593.4 914.5L594.0 915.3L594.5 916.0L595.1 916.8L595.7 917.6L596.3 918.3L596.8 919.0L597.4 919.8L598.0 920.5L598.6 921.3L599.2 922.0L599.8 922.7L600.4 923.5L600.9 924.2L601.5 924.9L602.1 925.6L602.7 926.4L603.3 927.1L603.9 927.8L604.5 928.5L605.1 929.2L605.8 929.9L606.4 930.6L607.0 931.4L607.6 932.1L608.2 932.8L608.8 933.5L609.4 934.2L610.1 934.9L610.7 935.5L611.3 936.2L611.9 936.9L612.6 937.6L613.2 938.3L613.8 939.0L614.5 939.7L615.1 940.3L615.7 941.0L616.4 941.7L617.0 942.4L617.7 943.1L618.3 943.7L619.0 944.4L619.6 945.1L620.3 945.8L620.9 946.4L621.6 947.1L622.3 947.8L622.9 948.4L623.6 949.1L624.2 949.7L624.9 950.4L625.6 951.1L626.3 951.7L626.9 952.4L627.6 953.1L628.3 953.7L629.0 954.4L629.7 955.0L630.3 955.7L631.0 956.3L631.7 957.0L632.4 957.6L633.1 958.3L633.8 958.9L634.5 959.6L635.2 960.2L635.9 960.9L636.6 961.5L637.3 962.2L638.0 962.8L638.8 963.5L639.5 964.1L640.2 964.8L640.9 965.4L641.6 966.1L642.4 966.7L643.1 967.4L643.8 968.0L644.6 968.7L645.3 969.3L646.0 969.9L646.8 970.6L647.5 971.2L648.2 971.9L649.0 972.5L649.7 973.2L650.5 973.8L651.2 974.5L652.0 975.1L652.8 975.8L653.5 976.4L654.3 977.1L655.0 977.7L655.8 978.4L656.6 979.0L657.4 979.6L658.1 980.3L658.9 980.9L659.7 981.6L660.4 982.2L661.2 982.9L662.0 983.5L662.8 984.2L663.6 984.8L664.4 985.5L665.2 986.1L666.0 986.8L666.8 987.4L667.6 988.0L668.4 988.7L669.2 989.3L670.0 990.0L670.8 990.6L671.6 991.3L672.4 991.9L673.2 992.5L674.1 993.2L674.9 993.8L675.7 994.4L676.6 995.1L677.4 995.7L678.2 996.3L679.1 997.0L679.9 997.6L680.7 998.2L681.6 998.9L682.4 999.5L683.3 1000.1L684.1 1000.7L685.0 1001.4L685.8 1002.0L686.7 1002.6L687.5 1003.2L688.4 1003.8L689.3 1004.4L690.1 1005.0L691.0 1005.6L691.9 1006.3L692.8 1006.9L693.7 1007.5L694.5 1008.1L695.4 1008.7L696.3 1009.3L697.2 1009.9L698.1 1010.5L699.0 1011.0L699.9 1011.6L700.8 1012.2L701.7 1012.8L702.6 1013.4L703.5 1014.0L704.4 1014.6L705.4 1015.2L706.3 1015.8L707.2 1016.4L708.1 1017.0L709.1 1017.5L710.0 1018.1L710.9 1018.7L711.8 1019.3L712.8 1019.9L713.7 1020.4L714.7 1021.0L715.6 1021.6L716.6 1022.2L717.5 1022.7L718.5 1023.3L719.4 1023.9L720.4 1024.5L721.4 1025.0L722.4 1025.6L723.3 1026.2L724.3 1026.7L725.3 1027.3L726.3 1027.9L727.2 1028.4L728.2 1029.0L729.2 1029.5L730.2 1030.1L731.2 1030.7L732.2 1031.2L733.2 1031.8L734.2 1032.3L735.3 1032.9L736.3 1033.4L737.3 1034.0L738.3 1034.5L739.4 1035.1L740.4 1035.6L741.4 1036.1L742.5 1036.7L743.5 1037.2L744.5 1037.8L745.6 1038.3L746.6 1038.8L747.7 1039.4L748.7 1039.9L749.8 1040.4L750.9 1041.0L752.0 1041.5L753.0 1042.0L754.1 1042.6L755.2 1043.1L756.3 1043.6L757.4 1044.2L758.4 1044.7L759.5 1045.2L760.6 1045.7L761.7 1046.3L762.8 1046.8L763.9 1047.3L765.0 1047.8L766.1 1048.3L767.3 1048.8L768.4 1049.3L769.5 1049.8L770.7 1050.3L771.8 1050.8L772.9 1051.3L774.1 1051.8L775.2 1052.3L776.4 1052.8L777.5 1053.3L778.7 1053.8L779.8 1054.3L781.0 1054.7L782.1 1055.2L783.3 1055.7L784.5 1056.2L785.6 1056.7L786.8 1057.1L788.0 1057.6L789.2 1058.1L790.4 1058.5L791.6 1059.0L792.8 1059.5L794.0 1059.9L795.2 1060.4L796.5 1060.8L797.7 1061.3L798.9 1061.7L800.1 1062.2L801.3 1062.6L802.6 1063.1L803.8 1063.5L805.0 1064.0L806.3 1064.4L807.5 1064.9L808.8 1065.3L810.1 1065.8L811.3 1066.2L812.6 1066.7L813.9 1067.1L815.1 1067.6L816.4 1068.0L817.7 1068.4L819.0 1068.9L820.2 1069.3L821.5 1069.8L822.8 1070.2L824.1 1070.6L825.4 1071.1L826.7 1071.5L828.1 1071.9L829.4 1072.3L830.7 1072.8L832.0 1073.2L833.4 1073.6L834.7 1074.1L836.0 1074.5L837.4 1074.9L838.7 1075.3L840.1 1075.7L841.4 1076.1L842.8 1076.6L844.1 1077.0L845.5 1077.4L846.9 1077.8L848.2 1078.2L849.6 1078.6L851.0 1079.0L852.4 1079.4L853.8 1079.8L855.2 1080.2L856.6 1080.6L858.0 1081.0L859.4 1081.4L860.9 1081.8L862.3 1082.2L863.7 1082.6L865.1 1083.0L866.5 1083.4L868.0 1083.8L869.4 1084.2L870.9 1084.6L872.3 1085.0L873.8 1085.4L875.3 1085.7L876.7 1086.1L878.2 1086.5L879.7 1086.9L881.2 1087.3L882.7 1087.7L884.1 1088.1L885.6 1088.4L887.1 1088.8L888.6 1089.2L890.1 1089.6L891.6 1090.0L893.1 1090.3L894.7 1090.7L896.2 1091.1L897.8 1091.5L899.3 1091.9L900.9 1092.3L902.4 1092.6L904.0 1093.0L905.5 1093.4L907.1 1093.8L908.6 1094.1L910.2 1094.5L911.8 1094.9L913.3 1095.2L914.9 1095.6L916.5 1096.0L918.1 1096.3L919.7 1096.7L921.3 1097.1L923.0 1097.5L924.6 1097.8L926.2 1098.2L927.9 1098.6L929.5 1098.9L931.1 1099.3L932.8 1099.7L934.4 1100.0L936.1 1100.4L937.7 1100.8L939.4 1101.1L941.0 1101.5L942.7 1101.8L944.4 1102.2L946.1 1102.6L947.8 1102.9L949.5 1103.3L951.2 1103.7L952.9 1104.0L954.6 1104.4L956.3 1104.7L958.1 1105.1L959.8 1105.5L961.5 1105.8L963.2 1106.2L965.0 1106.5L966.7 1106.9L968.5 1107.2L970.2 1107.6L972.0 1107.9L973.8 1108.3L975.6 1108.7L977.4 1109.0L979.2 1109.4L981.0 1109.7L982.8 1110.1L984.6 1110.4L986.4 1110.8L988.2 1111.1L990.0 1111.5L991.8 1111.8L993.7 1112.2L995.5 1112.5L997.3 1112.9L999.1 1113.2L1001.0 1113.6L1002.9 1113.9L1004.8 1114.3L1006.7 1114.6L1008.6 1115.0L1010.5 1115.3L1012.4 1115.7L1014.3 1116.0L1016.2 1116.4L1018.1 1116.7L1020.0 1117.0L1021.9 1117.4L1023.8 1117.7L1025.7 1118.1L1027.7 1118.4L1029.6 1118.7L1031.6 1119.1L1033.6 1119.4L1035.5 1119.8L1037.5 1120.1L1039.5 1120.5L1041.5 1120.8L1043.5 1121.1L1045.5 1121.5L1047.5 1121.8L1049.5 1122.1L1051.5 1122.5L1053.5 1122.8L1055.6 1123.1L1057.6 1123.5L1059.6 1123.8L1061.6 1124.1L1063.7 1124.5L1065.8 1124.8L1067.9 1125.2L1070.0 1125.5L1072.0 1125.8L1074.1 1126.2L1076.2 1126.5L1078.3 1126.8L1080.5 1127.1L1082.6 1127.5L1084.7 1127.8L1086.8 1128.1L1088.9 1128.4L1091.0 1128.8L1093.2 1129.1L1095.3 1129.4L1097.5 1129.7L1099.7 1130.1L1101.9 1130.4L1104.1 1130.7L1106.3 1131.1L1108.5 1131.4L1110.7 1131.7L1112.9 1132.0L1115.1 1132.3L1117.3 1132.7L1119.6 1133.0L1121.8 1133.3L1124.0 1133.6L1126.2 1133.9L1128.5 1134.3L1130.7 1134.6L1133.0 1134.9L1135.3 1135.2L1137.6 1135.5L1139.9 1135.9L1142.3 1136.2L1144.6 1136.5L1146.9 1136.8L1149.2 1137.2L1151.6 1137.5L1153.9 1137.8L1156.2 1138.1L1158.6 1138.4L1160.9 1138.7L1163.3 1139.1L1165.6 1139.4L1168.0 1139.7L1170.4 1140.0L1172.8 1140.3L1175.2 1140.6L1177.7 1141.0L1180.1 1141.3L1182.5 1141.6L1185.0 1141.9L1187.4 1142.2L1189.9 1142.6L1192.3 1142.9L1194.8 1143.2L1197.3 1143.5L1199.7 1143.8L1202.2 1144.1L1204.7 1144.4L1207.1 1144.7L1209.7 1145.1L1212.2 1145.4L1214.8 1145.7L1217.3 1146.0L1219.9 1146.3L1222.5 1146.6L1225.0 1146.9L1227.6 1147.2L1230.2 1147.5L1232.8 1147.8L1235.4 1148.1L1237.9 1148.4L1240.5 1148.7L1243.1 1149.0L1245.7 1149.3L1248.3 1149.6L1251.0 1149.9L1253.7 1150.2L1256.4 1150.5L1259.1 1150.8L1261.8 1151.1L1264.5 1151.4L1267.2 1151.7L1269.9 1152.0L1272.6 1152.3L1275.3 1152.6L1278.0 1152.9L1280.7 1153.2L1283.5 1153.5L1286.2 1153.8L1288.9 1154.1L1291.7 1154.3L1294.5 1154.6L1297.3 1154.9L1300.1 1155.2L1303.0 1155.5L1305.8 1155.8L1308.6 1156.0L1311.5 1156.3L1314.3 1156.6L1317.2 1156.9L1320.0 1157.2L1322.9 1157.4L1325.7 1157.7L1328.6 1158.0L1331.5 1158.3L1334.4 1158.5L1337.2 1158.8L1340.2 1159.1L1343.2 1159.4L1346.1 1159.6L1349.1 1159.9L1352.1 1160.2L1355.1 1160.5L1358.1 1160.7L1361.0 1161.0L1364.0 1161.3L1367.0 1161.5L1370.1 1161.8L1373.1 1162.1L1376.1 1162.4L1379.1 1162.6L1382.1 1162.9L1385.2 1163.2L1388.3 1163.4L1391.4 1163.7L1394.5 1164.0L1397.6 1164.2L1400.8 1164.5L1403.9 1164.8L1407.1 1165.0L1410.2 1165.3L1413.3 1165.6L1416.5 1165.8L1419.7 1166.1L1422.8 1166.4L1426.0 1166.6L1429.2 1166.9L1432.4 1167.1L1435.6 1167.4L1438.8 1167.7L1442.1 1167.9L1445.4 1168.2L1448.7 1168.5L1452.0 1168.7L1455.3 1169.0L1458.6 1169.2L1461.9 1169.5L1465.2 1169.8L1468.5 1170.0L1471.8 1170.3L1475.2 1170.5L1478.5 1170.8L1481.9 1171.0L1485.2 1171.3L1488.6 1171.5L1492.0 1171.8L1495.4 1172.0L1498.9 1172.3L1502.4 1172.5L1505.8 1172.8L1509.3 1173.0L1512.8 1173.3L1516.2 1173.5L1519.7 1173.7L1523.2 1174.0L1526.7 1174.2L1530.2 1174.5L1533.7 1174.7L1537.2 1174.9L1540.8 1175.2L1544.3 1175.4L1547.9 1175.6L1551.5 1175.9L1555.2 1176.1L1558.8 1176.3L1562.4 1176.6L1566.1 1176.8L1569.7 1177.0L1573.4 1177.2L1577.1 1177.5L1580.7 1177.7L1584.4 1177.9L1588.1 1178.1L1591.8 1178.3L1595.5 1178.6L1599.2 1178.8L1602.9 1179.0L1606.7 1179.2L1610.5 1179.5L1614.3 1179.7L1618.2 1179.9L1622.0 1180.2L1625.8 1180.4L1629.7 1180.6L1633.5 1180.8L1637.4 1181.1L1641.3 1181.3L1645.1 1181.5L1649.0 1181.7L1652.9 1181.9L1656.8 1182.2L1660.7 1182.4L1664.6 1182.6L1668.6 1182.8L1672.6 1183.1L1676.6 1183.3L1680.6 1183.5L1684.6 1183.7L1688.7 1184.0L1692.7 1184.2L1696.8 1184.4L1700.8 1184.6L1704.9 1184.9L1708.9 1185.1L1713.0 1185.3L1717.1 1185.5L1721.2 1185.7L1725.3 1186.0L1729.4 1186.2L1733.6 1186.4L1737.8 1186.6L1742.0 1186.8L1746.3 1187.1L1750.5 1187.3L1754.7 1187.5L1759.0 1187.7L1763.3 1187.9L1767.5 1188.2L1771.8 1188.4L1776.1 1188.6L1780.4 1188.8L1784.6 1189.0L1788.9 1189.3L1793.2 1189.5L1797.6 1189.7L1802.0 1189.9L1806.4 1190.1L1810.9 1190.4L1815.3 1190.6L1819.8 1190.8L1824.2 1191.0L1828.7 1191.2L1833.2 1191.5L1837.7 1191.7L1842.2 1191.9L1846.7 1192.1L1851.2 1192.3L1855.7 1192.6L1860.2 1192.8L1864.7 1193.0L1869.3 1193.2L1873.9 1193.4L1878.6 1193.6L1883.2 1193.9L1887.9 1194.1L1892.6 1194.3L1897.3 1194.5L1902.0 1194.7L1906.7 1194.9L1911.4 1195.2L1916.2 1195.4L1920.9 1195.6L1925.6 1195.8L1930.4 1196.0L1935.1 1196.2L1939.9 1196.4L1944.7 1196.7L1949.6 1196.9L1954.5 1197.1L1959.4 1197.3L1964.3 1197.5L1969.2 1197.7L1974.2 1197.9L1979.1 1198.2L1984.1 1198.4L1989.0 1198.6L1994.0 1198.8L1999.0 1199.0L2003.9 1199.2L2008.9 1199.4L2013.9 1199.6L2018.9 1199.8L2024.0 1200.0L2029.1 1200.2L2034.3 1200.5L2039.4 1200.7L2044.6 1200.9L2049.8 1201.1L2055.0 1201.3L2060.2 1201.5L2065.4 1201.7L2070.6 1201.9L2075.8 1202.1L2081.1 1202.3L2086.3 1202.5L2091.5 1202.7L2096.8 1202.9L2102.1 1203.1L2107.3 1203.3L2112.8 1203.5L2118.2 1203.8L2123.6 1204.0L2129.1 1204.2L2134.6 1204.4L2140.1 1204.6L2145.6 1204.8L2151.1 1205.0L2156.6 1205.2L2162.1 1205.4L2167.6 1205.6L2173.1 1205.8L2178.6 1206.0L2184.1 1206.2L2189.6 1206.4L2195.0 1206.6" stroke="#0a0a0a" stroke-width="4.0"/>
<path d="M414.8 1056.0L414.8 1054.4L414.9 1052.9L414.9 1051.4L415.0 1049.9L415.0 1048.5L415.1 1047.0L415.1 1045.6L415.1 1044.1L415.2 1042.6L415.2 1041.1L415.3 1039.5L415.3 1037.8L415.4 1036.0L415.4 1034.1L415.4 1032.1L415.5 1030.0L415.6 1025.2L415.7 1020.0L415.8 1014.3L416.0 1008.2L416.1 1001.7L416.2 994.9L416.4 987.9L416.5 980.6L416.7 973.1L416.8 965.6L417.0 957.9L417.1 950.2L417.3 942.5L417.5 934.9L417.6 927.4L417.8 920.0L418.0 911.7L418.2 903.3L418.4 894.9L418.6 886.3L418.9 877.7L419.1 868.9L419.3 860.2L419.6 851.4L419.8 842.5L420.0 833.6L420.3 824.7L420.5 815.7L420.8 806.8L421.0 797.8L421.3 788.9L421.5 780.0L421.7 770.7L422.0 761.2L422.2 751.7L422.5 742.0L422.7 732.2L423.0 722.5L423.2 712.7L423.5 702.9L423.7 693.3L423.9 683.7L424.2 674.2L424.5 664.9L424.7 655.8L425.0 647.0L425.2 638.3L425.5 630.0L425.7 623.7L425.9 617.5L426.1 611.4L426.3 605.4L426.6 599.4L426.8 593.6L427.0 587.9L427.2 582.2L427.4 576.6L427.6 571.1L427.9 565.7L428.1 560.4L428.3 555.2L428.5 550.0L428.8 545.0L429.0 540.0L429.2 536.2L429.4 532.4L429.5 528.7L429.7 525.0L429.9 521.4L430.1 517.8L430.3 514.3L430.5 510.8L430.7 507.4L430.8 504.0L431.0 500.7L431.2 497.5L431.4 494.3L431.6 491.1L431.8 488.0L432.0 485.0L432.1 482.7L432.3 480.4L432.4 478.1L432.6 475.9L432.7 473.7L432.8 471.5L433.0 469.3L433.1 467.2L433.3 465.1L433.4 463.1L433.6 461.1L433.7 459.1L433.9 457.2L434.1 455.3L434.3 453.5L434.5 451.7L434.7 450.4L434.8 449.0L435.0 447.7L435.2 446.5L435.4 445.2L435.6 444.0L435.8 442.7L436.0 441.5L436.2 440.4L436.4 439.2L436.6 438.1L436.8 437.0L437.0 436.0L437.2 434.9L437.5 434.0L437.7 433.0L437.9 432.4L438.0 431.7L438.2 431.1L438.3 430.5L438.5 429.9L438.6 429.3L438.8 428.7L438.9 428.2L439.1 427.6L439.2 427.1L439.4 426.6L439.6 426.1L439.8 425.7L440.0 425.3L440.3 424.9L440.5 424.5L440.7 424.3L440.9 424.0L441.0 423.8L441.2 423.6L441.4 423.4L441.7 423.2L441.9 423.0L442.1 422.8L442.3 422.6L442.5 422.5L442.7 422.3L442.9 422.2L443.2 422.1L443.4 422.1L443.6 422.0L443.8 422.0L444.0 422.0L444.2 422.0L444.4 422.1L444.6 422.2L444.8 422.3L445.0 422.4L445.2 422.5L445.4 422.6L445.6 422.8L445.8 422.9L446.0 423.1L446.2 423.3L446.4 423.5L446.6 423.6L446.8 423.8L447.0 424.0L447.2 424.2L447.5 424.5L447.7 424.7L447.9 425.0L448.1 425.3L448.3 425.5L448.5 425.8L448.8 426.1L449.0 426.4L449.2 426.8L449.4 427.1L449.6 427.4L449.8 427.7L449.9 427.9L450.1 428.2L450.3 428.5L450.4 428.7L450.6 428.9L450.7 429.1L450.9 429.4L451.0 429.6L451.1 429.8L451.2 430.0L451.3 430.2L451.5 430.4L451.6 430.6L451.7 430.8L451.8 431.0L451.9 431.2L452.1 431.4L452.2 431.6L452.3 431.8L452.4 432.1L452.6 432.3L452.7 432.5L452.8 432.7L452.9 433.0L453.1 433.2L453.2 433.4L453.3 433.7L453.4 433.9L453.6 434.1L453.7 434.4L453.8 434.6L453.9 434.9L454.1 435.1L454.2 435.3L454.3 435.6L454.4 435.8L454.6 436.1L454.7 436.3L454.8 436.5L454.9 436.8L455.1 437.0L455.2 437.3L455.3 437.5L455.4 437.7L455.6 438.0L455.7 438.2L455.8 438.5L455.9 438.8L456.1 439.0L456.2 439.3L456.3 439.6L456.4 439.9L456.6 440.3L456.7 440.6L456.8 440.9L457.0 441.3L457.1 441.7L457.2 442.0L457.4 442.4L457.5 442.8L457.6 443.1L457.7 443.5L457.8 443.9L458.0 444.3L458.1 444.8L458.2 445.2L458.3 445.6L458.4 446.2L458.6 446.9L458.7 447.5L458.9 448.2L459.0 448.9L459.1 449.6L459.2 450.4L459.4 451.1L459.5 451.9L459.6 452.6L459.7 453.4L459.8 454.2L459.9 454.9L460.1 455.7L460.2 456.4L460.3 457.2L460.4 457.9L460.6 458.7L460.7 459.5L460.8 460.3L460.9 461.1L461.1 461.9L461.2 462.7L461.3 463.5L461.4 464.2L461.6 465.0L461.7 465.8L461.8 466.6L461.9 467.4L462.1 468.2L462.2 469.0L462.3 469.8L462.4 470.6L462.6 471.4L462.7 472.3L462.8 473.1L462.9 473.9L463.1 474.7L463.2 475.6L463.3 476.4L463.5 477.2L463.6 478.0L463.7 478.8L463.8 479.6L464.0 480.4L464.1 481.2L464.2 481.9L464.3 482.7L464.4 483.3L464.5 483.9L464.6 484.5L464.6 485.0L464.7 485.5L464.8 486.1L464.9 486.6L465.0 487.1L465.0 487.6L465.1 488.2L465.2 488.7L465.3 489.3L465.4 489.9L465.5 490.5L465.5 491.2L465.6 491.9L465.8 493.1L466.0 494.4L466.1 495.8L466.3 497.3L466.5 498.8L466.6 500.4L466.8 502.0L467.0 503.6L467.2 505.3L467.4 507.0L467.6 508.7L467.8 510.3L468.0 512.0L468.2 513.7L468.3 515.3L468.5 516.8L468.7 518.3L468.9 519.8L469.1 521.4L469.3 522.9L469.5 524.4L469.6 525.9L469.8 527.4L470.0 528.9L470.2 530.3L470.4 531.8L470.6 533.3L470.8 534.8L471.0 536.3L471.2 537.8L471.4 539.3L471.6 540.8L471.8 542.2L472.0 543.7L472.2 545.2L472.4 546.6L472.6 548.1L472.8 549.5L473.0 551.0L473.2 552.5L473.4 553.9L473.6 555.4L473.8 556.8L474.0 558.3L474.2 559.7L474.4 561.2L474.6 562.6L474.8 564.1L475.0 565.5L475.2 566.9L475.4 568.4L475.6 569.8L475.8 571.2L476.0 572.7L476.2 574.1L476.5 575.5L476.7 576.9L476.9 578.4L477.1 579.8L477.3 581.2L477.5 582.6L477.7 584.1L478.0 585.5L478.2 586.9L478.4 588.3L478.6 589.7L478.8 591.1L479.0 592.5L479.3 593.9L479.5 595.3L479.7 596.7L479.9 598.0L480.1 599.4L480.4 600.8L480.6 602.2L480.8 603.6L481.0 605.0L481.3 606.4L481.5 607.7L481.7 609.1L482.0 610.5L482.2 611.8L482.4 613.2L482.6 614.6L482.9 615.9L483.1 617.3L483.3 618.6L483.6 620.0L483.8 621.3L484.0 622.7L484.3 624.0L484.5 625.4L484.7 626.7L485.0 628.1L485.2 629.4L485.5 630.8L485.7 632.1L485.9 633.4L486.2 634.8L486.4 636.1L486.7 637.4L486.9 638.8L487.1 640.1L487.4 641.4L487.6 642.8L487.9 644.1L488.1 645.4L488.4 646.7L488.6 648.1L488.8 649.4L489.1 650.7L489.3 652.0L489.6 653.4L489.8 654.7L490.1 656.0L490.3 657.3L490.6 658.7L490.8 660.0L491.1 661.3L491.3 662.6L491.6 663.9L491.9 665.3L492.1 666.6L492.4 667.9L492.6 669.2L492.9 670.5L493.1 671.9L493.4 673.2L493.7 674.5L493.9 675.8L494.2 677.2L494.4 678.5L494.7 679.8L495.0 681.2L495.2 682.5L495.5 683.8L495.8 685.2L496.0 686.5L496.3 687.8L496.6 689.1L496.9 690.5L497.1 691.8L497.4 693.1L497.7 694.4L497.9 695.8L498.2 697.1L498.5 698.4L498.8 699.7L499.1 701.0L499.3 702.3L499.6 703.6L499.9 704.9L500.2 706.2L500.5 707.5L500.7 708.8L501.0 710.1L501.3 711.4L501.6 712.7L501.9 714.0L502.2 715.3L502.5 716.6L502.8 717.9L503.1 719.1L503.3 720.4L503.6 721.7L503.9 722.9L504.2 724.2L504.5 725.4L504.8 726.7L505.1 727.9L505.4 729.2L505.7 730.4L506.0 731.7L506.3 732.9L506.6 734.1L506.9 735.4L507.2 736.6L507.6 737.8L507.9 739.0L508.2 740.1L508.5 741.3L508.8 742.5L509.1 743.7L509.4 744.9L509.7 746.0L510.0 747.2L510.3 748.4L510.7 749.5L511.0 750.7L511.3 751.9L511.6 753.0L512.0 754.2L512.3 755.3L512.6 756.4L512.9 757.5L513.2 758.5L513.6 759.6L513.9 760.7L514.2 761.8L514.5 762.9L514.9 763.9L515.2 765.0L515.5 766.1L515.9 767.1L516.2 768.2L516.5 769.3L516.9 770.3L517.2 771.4L517.6 772.4L517.9 773.4L518.2 774.4L518.6 775.4L518.9 776.4L519.3 777.5L519.6 778.5L520.0 779.5L520.3 780.5L520.6 781.5L521.0 782.5L521.4 783.5L521.7 784.5L522.1 785.4L522.4 786.4L522.8 787.4L523.1 788.4L523.5 789.4L523.8 790.3L524.2 791.3L524.6 792.2L524.9 793.2L525.3 794.2L525.6 795.1L526.0 796.1L526.4 797.0L526.7 798.0L527.1 798.9L527.5 799.9L527.9 800.8L528.2 801.8L528.6 802.7L529.0 803.6L529.4 804.6L529.7 805.5L530.1 806.4L530.5 807.3L530.9 808.3L531.2 809.2L531.6 810.1L532.0 811.0L532.4 811.9L532.8 812.9L533.2 813.8L533.6 814.7L533.9 815.6L534.3 816.5L534.7 817.4L535.1 818.3L535.5 819.2L535.9 820.1L536.3 821.0L536.7 821.9L537.1 822.8L537.5 823.7L537.9 824.6L538.3 825.5L538.7 826.4L539.1 827.3L539.5 828.2L539.9 829.1L540.3 830.0L540.8 830.8L541.2 831.7L541.6 832.6L542.0 833.5L542.4 834.4L542.8 835.3L543.2 836.1L543.7 837.0L544.1 837.9L544.5 838.8L544.9 839.7L545.4 840.5L545.8 841.4L546.2 842.3L546.6 843.2L547.1 844.1L547.5 844.9L547.9 845.8L548.4 846.7L548.8 847.6L549.2 848.4L549.7 849.3L550.1 850.2L550.6 851.1L551.0 851.9L551.5 852.8L551.9 853.7L552.4 854.6L552.8 855.4L553.3 856.3L553.7 857.2L554.2 858.0L554.6 858.9L555.1 859.8L555.5 860.7L556.0 861.5L556.5 862.4L556.9 863.3L557.4 864.1L557.9 865.0L558.3 865.9L558.8 866.7L559.3 867.6L559.7 868.5L560.2 869.3L560.7 870.2L561.2 871.0L561.7 871.9L562.1 872.8L562.6 873.6L563.1 874.5L563.6 875.3L564.1 876.2L564.6 877.0L565.1 877.9L565.5 878.7L566.0 879.6L566.5 880.5L567.0 881.3L567.5 882.1L568.0 883.0L568.5 883.8L569.0 884.7L569.5 885.5L570.0 886.4L570.6 887.2L571.1 888.0L571.6 888.9L572.1 889.7L572.6 890.5L573.1 891.4L573.6 892.2L574.2 893.0L574.7 893.9L575.2 894.7L575.7 895.5L576.2 896.3L576.8 897.1L577.3 898.0L577.8 898.8L578.4 899.6L578.9 900.4L579.4 901.2L580.0 902.0L580.5 902.8L581.1 903.6L581.6 904.4L582.1 905.2L582.7 906.0L583.2 906.8L583.8 907.6L584.3 908.4L584.9 909.2L585.4 910.0L586.0 910.8L586.6 911.5L587.1 912.3L587.7 913.1L588.3 913.9L588.8 914.6L589.4 915.4L590.0 916.2L590.5 916.9L591.1 917.7L591.7 918.5L592.2 919.2L592.8 920.0L593.4 920.7L594.0 921.5L594.6 922.2L595.2 923.0L595.7 923.7L596.3 924.5L596.9 925.2L597.5 925.9L598.1 926.7L598.7 927.4L599.3 928.1L599.9 928.8L600.5 929.6L601.1 930.3L601.7 931.0L602.3 931.7L602.9 932.4L603.5 933.1L604.2 933.8L604.8 934.5L605.4 935.2L606.0 935.9L606.6 936.6L607.3 937.3L607.9 938.0L608.5 938.7L609.1 939.4L609.8 940.1L610.4 940.8L611.0 941.5L611.7 942.2L612.3 942.9L613.0 943.5L613.6 944.2L614.2 944.9L614.9 945.6L615.5 946.3L616.2 946.9L616.8 947.6L617.5 948.3L618.2 948.9L618.8 949.6L619.5 950.3L620.1 951.0L620.8 951.6L621.5 952.3L622.1 952.9L622.8 953.6L623.5 954.3L624.2 954.9L624.8 955.6L625.5 956.2L626.2 956.9L626.9 957.5L627.6 958.2L628.2 958.9L628.9 959.5L629.6 960.2L630.3 960.8L631.0 961.5L631.7 962.1L632.4 962.8L633.1 963.4L633.8 964.1L634.5 964.7L635.3 965.4L636.0 966.0L636.7 966.7L637.4 967.3L638.1 967.9L638.8 968.6L639.5 969.2L640.3 969.9L641.0 970.5L641.7 971.2L642.5 971.8L643.2 972.5L643.9 973.1L644.7 973.8L645.4 974.4L646.2 975.0L646.9 975.7L647.6 976.3L648.4 977.0L649.1 977.6L649.9 978.2L650.6 978.9L651.4 979.5L652.2 980.2L652.9 980.8L653.7 981.5L654.5 982.1L655.3 982.8L656.0 983.4L656.8 984.1L657.6 984.7L658.4 985.3L659.2 986.0L659.9 986.6L660.7 987.3L661.5 987.9L662.3 988.5L663.1 989.2L663.9 989.8L664.7 990.5L665.5 991.1L666.3 991.7L667.1 992.4L667.9 993.0L668.8 993.7L669.6 994.3L670.4 994.9L671.2 995.6L672.0 996.2L672.9 996.8L673.7 997.5L674.5 998.1L675.4 998.7L676.2 999.3L677.0 999.9L677.9 1000.6L678.7 1001.2L679.6 1001.8L680.4 1002.4L681.3 1003.1L682.2 1003.7L683.0 1004.3L683.9 1004.9L684.8 1005.5L685.6 1006.1L686.5 1006.7L687.4 1007.3L688.2 1007.9L689.1 1008.5L690.0 1009.1L690.9 1009.7L691.8 1010.3L692.7 1010.9L693.6 1011.5L694.5 1012.1L695.4 1012.7L696.3 1013.3L697.2 1013.8L698.1 1014.4L699.0 1015.0L699.9 1015.6L700.8 1016.1L701.7 1016.7L702.6 1017.3L703.6 1017.8L704.5 1018.4L705.4 1019.0L706.4 1019.6L707.3 1020.1L708.2 1020.7L709.2 1021.3L710.1 1021.8L711.1 1022.4L712.0 1022.9L713.0 1023.5L714.0 1024.0L714.9 1024.6L715.9 1025.1L716.8 1025.7L717.8 1026.2L718.8 1026.8L719.7 1027.3L720.7 1027.9L721.7 1028.4L722.7 1029.0L723.7 1029.5L724.7 1030.1L725.7 1030.6L726.7 1031.1L727.7 1031.7L728.7 1032.2L729.7 1032.8L730.7 1033.3L731.7 1033.8L732.7 1034.3L733.7 1034.9L734.7 1035.4L735.8 1035.9L736.8 1036.5L737.8 1037.0L738.9 1037.5L739.9 1038.1L740.9 1038.6L742.0 1039.1L743.0 1039.6L744.1 1040.2L745.1 1040.7L746.2 1041.2L747.2 1041.7L748.3 1042.2L749.4 1042.8L750.4 1043.3L751.5 1043.8L752.6 1044.3L753.6 1044.8L754.7 1045.3L755.8 1045.8L756.9 1046.4L758.0 1046.9L759.1 1047.4L760.2 1047.9L761.3 1048.4L762.4 1048.9L763.5 1049.4L764.6 1049.9L765.7 1050.4L766.8 1050.9L768.0 1051.4L769.1 1051.9L770.2 1052.4L771.3 1052.9L772.5 1053.4L773.6 1053.9L774.8 1054.3L775.9 1054.8L777.1 1055.3L778.2 1055.8L779.4 1056.2L780.6 1056.7L781.7 1057.2L782.9 1057.7L784.1 1058.1L785.2 1058.6L786.4 1059.0L787.6 1059.5L788.7 1060.0L789.9 1060.4L791.2 1060.9L792.4 1061.3L793.6 1061.8L794.8 1062.3L796.0 1062.7L797.2 1063.2L798.4 1063.6L799.6 1064.1L800.8 1064.5L802.1 1065.0L803.3 1065.4L804.5 1065.8L805.8 1066.3L807.0 1066.7L808.2 1067.2L809.5 1067.6L810.7 1068.1L812.0 1068.5L813.3 1068.9L814.6 1069.4L815.8 1069.8L817.1 1070.3L818.4 1070.7L819.7 1071.1L820.9 1071.5L822.2 1072.0L823.5 1072.4L824.8 1072.8L826.1 1073.3L827.4 1073.7L828.7 1074.1L830.0 1074.5L831.3 1074.9L832.7 1075.4L834.0 1075.8L835.3 1076.2L836.7 1076.6L838.0 1077.0L839.4 1077.4L840.7 1077.9L842.1 1078.3L843.4 1078.7L844.8 1079.1L846.1 1079.5L847.5 1079.9L848.8 1080.3L850.2 1080.7L851.6 1081.1L853.0 1081.5L854.4 1081.9L855.8 1082.3L857.2 1082.7L858.6 1083.1L860.0 1083.5L861.4 1083.9L862.8 1084.3L864.3 1084.6L865.7 1085.0L867.1 1085.4L868.5 1085.8L870.0 1086.2L871.4 1086.6L872.8 1087.0L874.3 1087.3L875.7 1087.7L877.2 1088.1L878.7 1088.5L880.2 1088.9L881.6 1089.3L883.1 1089.6L884.6 1090.0L886.1 1090.4L887.6 1090.8L889.1 1091.2L890.6 1091.5L892.1 1091.9L893.6 1092.3L895.1 1092.7L896.6 1093.0L898.1 1093.4L899.7 1093.8L901.2 1094.2L902.8 1094.5L904.3 1094.9L905.9 1095.3L907.4 1095.6L909.0 1096.0L910.5 1096.4L912.1 1096.7L913.7 1097.1L915.2 1097.5L916.8 1097.8L918.4 1098.2L920.0 1098.6L921.6 1098.9L923.2 1099.3L924.8 1099.7L926.4 1100.0L928.1 1100.4L929.7 1100.8L931.3 1101.1L933.0 1101.5L934.6 1101.8L936.2 1102.2L937.9 1102.6L939.5 1102.9L941.2 1103.3L942.8 1103.6L944.5 1104.0L946.1 1104.3L947.8 1104.7L949.5 1105.1L951.2 1105.4L952.9 1105.8L954.6 1106.1L956.4 1106.5L958.1 1106.8L959.8 1107.2L961.5 1107.6L963.2 1107.9L965.0 1108.3L966.7 1108.6L968.4 1109.0L970.2 1109.3L971.9 1109.7L973.7 1110.0L975.4 1110.4L977.2 1110.7L979.0 1111.1L980.8 1111.4L982.6 1111.8L984.4 1112.1L986.2 1112.5L988.0 1112.8L989.8 1113.2L991.6 1113.5L993.4 1113.9L995.3 1114.2L997.1 1114.5L998.9 1114.9L1000.7 1115.2L1002.6 1115.6L1004.4 1115.9L1006.3 1116.3L1008.2 1116.6L1010.1 1116.9L1012.0 1117.3L1013.9 1117.6L1015.8 1118.0L1017.7 1118.3L1019.6 1118.7L1021.5 1119.0L1023.4 1119.3L1025.3 1119.7L1027.2 1120.0L1029.1 1120.3L1031.1 1120.7L1033.0 1121.0L1034.9 1121.4L1036.9 1121.7L1038.9 1122.0L1040.9 1122.4L1042.8 1122.7L1044.8 1123.0L1046.8 1123.4L1048.8 1123.7L1050.8 1124.0L1052.8 1124.4L1054.8 1124.7L1056.9 1125.0L1058.9 1125.4L1060.9 1125.7L1062.9 1126.0L1064.9 1126.4L1067.0 1126.7L1069.0 1127.0L1071.1 1127.3L1073.2 1127.7L1075.3 1128.0L1077.4 1128.3L1079.5 1128.7L1081.6 1129.0L1083.7 1129.3L1085.8 1129.6L1087.9 1130.0L1090.0 1130.3L1092.1 1130.6L1094.3 1130.9L1096.4 1131.3L1098.5 1131.6L1100.7 1131.9L1102.8 1132.2L1105.0 1132.5L1107.2 1132.9L1109.4 1133.2L1111.6 1133.5L1113.8 1133.8L1116.0 1134.1L1118.2 1134.5L1120.5 1134.8L1122.7 1135.1L1124.9 1135.4L1127.1 1135.7L1129.4 1136.0L1131.6 1136.4L1133.8 1136.7L1136.1 1137.0L1138.4 1137.3L1140.7 1137.6L1143.0 1138.0L1145.3 1138.3L1147.6 1138.6L1149.9 1138.9L1152.2 1139.2L1154.6 1139.5L1156.9 1139.9L1159.2 1140.2L1161.6 1140.5L1163.9 1140.8L1166.2 1141.1L1168.6 1141.4L1170.9 1141.7L1173.3 1142.1L1175.7 1142.4L1178.1 1142.7L1180.6 1143.0L1183.0 1143.3L1185.4 1143.6L1187.8 1144.0L1190.3 1144.3L1192.7 1144.6L1195.2 1144.9L1197.6 1145.2L1200.1 1145.5L1202.5 1145.8L1205.0 1146.1L1207.5 1146.4L1209.9 1146.7L1212.4 1147.1L1215.0 1147.4L1217.5 1147.7L1220.1 1148.0L1222.6 1148.3L1225.2 1148.6L1227.7 1148.9L1230.3 1149.2L1232.9 1149.5L1235.4 1149.8L1238.0 1150.1L1240.6 1150.4L1243.2 1150.7L1245.8 1151.0L1248.4 1151.3L1251.0 1151.6L1253.6 1151.9L1256.2 1152.2L1258.9 1152.5L1261.6 1152.8L1264.3 1153.1L1267.0 1153.4L1269.6 1153.7L1272.3 1154.0L1275.0 1154.2L1277.7 1154.5L1280.5 1154.8L1283.2 1155.1L1285.9 1155.4L1288.6 1155.7L1291.3 1156.0L1294.1 1156.2L1296.8 1156.5L1299.6 1156.8L1302.4 1157.1L1305.2 1157.4L1308.1 1157.6L1310.9 1157.9L1313.7 1158.2L1316.5 1158.5L1319.4 1158.8L1322.2 1159.0L1325.1 1159.3L1327.9 1159.6L1330.8 1159.8L1333.6 1160.1L1336.5 1160.4L1339.4 1160.7L1342.3 1160.9L1345.2 1161.2L1348.2 1161.5L1351.1 1161.8L1354.1 1162.0L1357.1 1162.3L1360.0 1162.6L1363.0 1162.8L1366.0 1163.1L1369.0 1163.4L1372.0 1163.6L1375.0 1163.9L1378.0 1164.2L1381.0 1164.4L1384.0 1164.7L1387.0 1165.0L1390.0 1165.2L1393.1 1165.5L1396.2 1165.8L1399.4 1166.0L1402.5 1166.3L1405.6 1166.6L1408.7 1166.8L1411.9 1167.1L1415.0 1167.4L1418.1 1167.6L1421.3 1167.9L1424.4 1168.1L1427.6 1168.4L1430.7 1168.7L1433.9 1168.9L1437.1 1169.2L1440.3 1169.4L1443.5 1169.7L1446.8 1170.0L1450.1 1170.2L1453.3 1170.5L1456.6 1170.7L1459.9 1171.0L1463.2 1171.3L1466.5 1171.5L1469.8 1171.8L1473.1 1172.0L1476.4 1172.3L1479.7 1172.5L1483.1 1172.8L1486.4 1173.0L1489.7 1173.3L1493.1 1173.5L1496.5 1173.8L1499.9 1174.0L1503.4 1174.3L1506.8 1174.5L1510.3 1174.7L1513.7 1175.0L1517.2 1175.2L1520.6 1175.5L1524.1 1175.7L1527.6 1175.9L1531.1 1176.2L1534.6 1176.4L1538.0 1176.6L1541.5 1176.9L1545.0 1177.1L1548.6 1177.3L1552.2 1177.6L1555.8 1177.8L1559.4 1178.0L1563.0 1178.2L1566.6 1178.5L1570.3 1178.7L1573.9 1178.9L1577.5 1179.1L1581.2 1179.4L1584.8 1179.6L1588.5 1179.8L1592.2 1180.0L1595.8 1180.2L1599.5 1180.5L1603.2 1180.7L1606.9 1180.9L1610.7 1181.1L1614.5 1181.4L1618.3 1181.6L1622.1 1181.8L1625.9 1182.0L1629.7 1182.3L1633.5 1182.5L1637.4 1182.7L1641.2 1182.9L1645.0 1183.1L1648.9 1183.4L1652.7 1183.6L1656.6 1183.8L1660.5 1184.0L1664.3 1184.3L1668.2 1184.5L1672.2 1184.7L1676.2 1184.9L1680.2 1185.1L1684.2 1185.4L1688.2 1185.6L1692.2 1185.8L1696.2 1186.0L1700.3 1186.3L1704.3 1186.5L1708.3 1186.7L1712.4 1186.9L1716.4 1187.1L1720.5 1187.3L1724.5 1187.6L1728.6 1187.8L1732.7 1188.0L1736.9 1188.2L1741.1 1188.4L1745.3 1188.7L1749.5 1188.9L1753.7 1189.1L1757.9 1189.3L1762.1 1189.5L1766.4 1189.8L1770.6 1190.0L1774.8 1190.2L1779.1 1190.4L1783.3 1190.6L1787.6 1190.8L1791.9 1191.1L1796.2 1191.3L1800.4 1191.5L1804.8 1191.7L1809.3 1191.9L1813.7 1192.1L1818.1 1192.4L1822.5 1192.6L1826.9 1192.8L1831.4 1193.0L1835.8 1193.2L1840.3 1193.5L1844.8 1193.7L1849.2 1193.9L1853.7 1194.1L1858.2 1194.3L1862.7 1194.5L1867.2 1194.8L1871.7 1195.0L1876.3 1195.2L1880.9 1195.4L1885.6 1195.6L1890.2 1195.8L1894.9 1196.1L1899.5 1196.3L1904.2 1196.5L1908.9 1196.7L1913.6 1196.9L1918.3 1197.1L1923.0 1197.3L1927.7 1197.6L1932.4 1197.8L1937.1 1198.0L1941.8 1198.2L1946.6 1198.4L1951.4 1198.6L1956.3 1198.8L1961.2 1199.0L1966.0 1199.2L1970.9 1199.5L1975.8 1199.7L1980.7 1199.9L1985.7 1200.1L1990.6 1200.3L1995.5 1200.5L2000.5 1200.7L2005.4 1200.9L2010.4 1201.1L2015.3 1201.3L2020.3 1201.5L2025.3 1201.7L2030.4 1201.9L2035.5 1202.2L2040.6 1202.4L2045.8 1202.6L2050.9 1202.8L2056.1 1203.0L2061.2 1203.2L2066.4 1203.4L2071.6 1203.6L2076.7 1203.8L2081.9 1204.0L2087.1 1204.2L2092.3 1204.4L2097.6 1204.6L2102.8 1204.8L2108.0 1205.0L2113.4 1205.2L2118.8 1205.4L2124.2 1205.6L2129.6 1205.8L2135.0 1206.0L2140.5 1206.2L2145.9 1206.4L2151.4 1206.6L2156.8 1206.8L2162.3 1207.0L2167.7 1207.2L2173.2 1207.4L2178.6 1207.6L2184.1 1207.8L2189.5 1208.0L2195.0 1208.2" stroke="#0a0a0a" stroke-width="4.0"/>
<path d="M415.6 1187.8L415.7 1186.7L415.7 1185.6L415.8 1184.5L415.8 1183.5L415.9 1182.4L416.0 1181.3L416.0 1180.3L416.1 1179.2L416.1 1178.1L416.2 1177.0L416.3 1175.9L416.3 1174.8L416.4 1173.6L416.5 1172.4L416.5 1171.2L416.6 1170.0L416.7 1168.3L416.8 1166.6L416.9 1164.9L417.0 1163.0L417.1 1161.2L417.2 1159.3L417.4 1157.4L417.5 1155.5L417.6 1153.5L417.7 1151.6L417.8 1149.6L418.0 1147.7L418.1 1145.7L418.2 1143.8L418.4 1141.9L418.5 1140.0L418.6 1138.1L418.8 1136.3L418.9 1134.6L419.1 1132.8L419.2 1131.1L419.4 1129.3L419.5 1127.6L419.7 1125.9L419.9 1124.1L420.0 1122.2L420.2 1120.4L420.4 1118.5L420.5 1116.5L420.7 1114.4L420.8 1112.2L421.0 1110.0L421.3 1106.2L421.5 1102.2L421.7 1098.0L422.0 1093.5L422.2 1088.9L422.5 1084.2L422.7 1079.3L423.0 1074.4L423.3 1069.3L423.5 1064.3L423.8 1059.2L424.0 1054.1L424.3 1049.1L424.6 1044.1L424.8 1039.3L425.1 1034.5L425.4 1029.8L425.6 1025.1L425.9 1020.4L426.2 1015.7L426.5 1011.0L426.8 1006.3L427.0 1001.6L427.3 996.9L427.6 992.2L427.9 987.5L428.2 982.9L428.5 978.3L428.8 973.6L429.1 969.1L429.5 964.5L429.8 960.0L430.1 955.8L430.5 951.6L430.8 947.5L431.1 943.4L431.5 939.3L431.9 935.2L432.2 931.1L432.6 927.1L433.0 923.0L433.3 919.0L433.7 915.0L434.1 911.0L434.4 907.0L434.8 903.0L435.2 899.0L435.5 895.0L435.8 891.1L436.1 887.2L436.5 883.3L436.8 879.3L437.1 875.4L437.4 871.4L437.7 867.5L438.0 863.6L438.3 859.7L438.7 855.9L439.0 852.1L439.3 848.5L439.6 844.9L439.9 841.5L440.2 838.2L440.5 835.0L440.7 832.8L440.9 830.7L441.2 828.7L441.4 826.6L441.6 824.7L441.8 822.7L442.0 820.8L442.2 819.0L442.4 817.2L442.7 815.4L442.9 813.6L443.1 811.9L443.3 810.1L443.5 808.4L443.8 806.7L444.0 805.0L444.2 803.6L444.4 802.2L444.6 800.9L444.8 799.6L445.0 798.3L445.2 797.0L445.4 795.7L445.6 794.4L445.8 793.2L446.0 791.9L446.3 790.7L446.5 789.5L446.7 788.2L446.9 787.0L447.1 785.7L447.3 784.5L447.5 783.3L447.7 782.1L447.9 780.9L448.1 779.7L448.3 778.6L448.5 777.4L448.7 776.2L448.8 775.0L449.0 773.9L449.2 772.7L449.4 771.5L449.6 770.4L449.8 769.3L450.1 768.2L450.3 767.1L450.5 766.0L450.7 765.1L450.9 764.1L451.1 763.2L451.3 762.3L451.5 761.4L451.7 760.5L451.9 759.6L452.1 758.7L452.4 757.8L452.6 756.9L452.8 756.1L453.0 755.2L453.3 754.4L453.5 753.6L453.7 752.8L454.0 752.0L454.2 751.4L454.4 750.8L454.6 750.1L454.9 749.5L455.1 749.0L455.3 748.4L455.5 747.8L455.8 747.2L456.0 746.7L456.2 746.1L456.5 745.6L456.7 745.0L457.0 744.5L457.2 744.0L457.4 743.5L457.7 743.0L457.9 742.6L458.1 742.2L458.3 741.8L458.6 741.4L458.8 741.0L459.0 740.6L459.2 740.2L459.4 739.9L459.7 739.5L459.9 739.1L460.1 738.8L460.4 738.4L460.6 738.1L460.9 737.7L461.1 737.4L461.4 737.0L461.7 736.6L462.0 736.3L462.3 735.9L462.6 735.5L462.9 735.1L463.2 734.7L463.5 734.3L463.8 734.0L464.1 733.6L464.4 733.2L464.8 732.9L465.1 732.6L465.4 732.3L465.8 732.0L466.1 731.7L466.5 731.5L466.8 731.3L467.2 731.1L467.5 731.0L467.9 730.8L468.2 730.7L468.6 730.5L469.0 730.4L469.3 730.3L469.7 730.2L470.1 730.1L470.4 730.1L470.8 730.0L471.2 730.0L471.5 729.9L471.9 729.9L472.2 729.9L472.5 729.9L472.8 729.9L473.0 729.9L473.3 730.0L473.6 730.0L473.9 730.1L474.1 730.1L474.4 730.2L474.7 730.3L474.9 730.3L475.2 730.4L475.5 730.5L475.7 730.6L476.0 730.8L476.2 730.9L476.5 731.0L476.8 731.2L477.1 731.3L477.4 731.5L477.7 731.7L478.0 732.0L478.3 732.2L478.6 732.4L478.8 732.7L479.1 732.9L479.4 733.2L479.7 733.5L480.0 733.7L480.2 734.0L480.5 734.2L480.7 734.5L481.0 734.7L481.2 734.9L481.4 735.1L481.6 735.3L481.8 735.5L482.0 735.7L482.2 735.8L482.4 736.0L482.6 736.2L482.7 736.4L482.9 736.6L483.1 736.8L483.3 737.0L483.5 737.2L483.6 737.4L483.8 737.6L484.0 737.8L484.2 738.0L484.4 738.2L484.6 738.4L484.8 738.6L484.9 738.8L485.1 739.0L485.3 739.2L485.5 739.4L485.7 739.7L485.9 739.9L486.1 740.1L486.3 740.3L486.4 740.5L486.6 740.7L486.8 741.0L487.0 741.2L487.2 741.4L487.4 741.6L487.6 741.9L487.8 742.1L487.9 742.4L488.1 742.6L488.3 742.8L488.5 743.1L488.7 743.3L488.9 743.6L489.1 743.8L489.3 744.0L489.4 744.3L489.6 744.5L489.8 744.8L490.0 745.0L490.2 745.2L490.4 745.5L490.6 745.7L490.7 745.9L490.9 746.2L491.1 746.4L491.3 746.6L491.5 746.9L491.7 747.1L491.9 747.3L492.1 747.6L492.2 747.8L492.4 748.0L492.6 748.2L492.8 748.5L493.0 748.7L493.2 748.9L493.4 749.1L493.6 749.3L493.7 749.5L493.9 749.7L494.1 749.9L494.3 750.2L494.5 750.4L494.7 750.6L494.9 750.8L495.1 751.0L495.3 751.2L495.4 751.4L495.6 751.6L495.8 751.8L496.0 752.1L496.2 752.3L496.4 752.5L496.6 752.8L496.8 753.0L497.0 753.2L497.1 753.5L497.3 753.7L497.5 754.0L497.7 754.2L497.9 754.4L498.1 754.7L498.3 755.0L498.5 755.2L498.6 755.5L498.8 755.7L499.0 756.0L499.2 756.3L499.4 756.6L499.6 757.0L499.8 757.3L500.0 757.6L500.2 758.0L500.3 758.3L500.5 758.6L500.7 759.0L500.9 759.3L501.1 759.7L501.3 760.0L501.4 760.4L501.6 760.7L501.8 761.1L502.0 761.4L502.2 761.8L502.4 762.1L502.6 762.5L502.8 762.9L502.9 763.2L503.1 763.6L503.3 764.0L503.5 764.4L503.7 764.7L503.9 765.1L504.1 765.5L504.2 765.8L504.4 766.2L504.6 766.6L504.8 766.9L505.0 767.3L505.2 767.6L505.4 768.0L505.6 768.3L505.7 768.7L505.9 769.0L506.1 769.4L506.3 769.7L506.5 770.0L506.7 770.4L506.9 770.7L507.0 771.1L507.2 771.4L507.4 771.7L507.6 772.1L507.8 772.4L508.0 772.7L508.2 773.0L508.4 773.3L508.6 773.6L508.7 773.9L508.9 774.2L509.1 774.5L509.3 774.7L509.5 775.0L509.7 775.3L509.9 775.6L510.1 775.9L510.2 776.2L510.4 776.4L510.6 776.7L510.8 777.0L511.0 777.3L511.2 777.6L511.4 777.9L511.6 778.2L511.8 778.5L511.9 778.8L512.1 779.1L512.3 779.4L512.5 779.7L512.7 780.0L512.9 780.2L513.1 780.5L513.3 780.8L513.4 781.2L513.6 781.5L513.8 781.8L514.0 782.1L514.2 782.4L514.4 782.8L514.6 783.1L514.8 783.5L515.0 783.8L515.1 784.2L515.3 784.5L515.5 784.9L515.7 785.2L515.9 785.6L516.1 785.9L516.3 786.3L516.4 786.7L516.6 787.0L516.8 787.4L517.0 787.8L517.2 788.1L517.4 788.5L517.6 788.9L517.8 789.3L517.9 789.7L518.1 790.1L518.3 790.5L518.5 790.8L518.7 791.2L518.9 791.6L519.1 792.0L519.3 792.4L519.4 792.8L519.6 793.2L519.8 793.6L520.0 794.0L520.2 794.4L520.4 794.8L520.6 795.2L520.8 795.6L520.9 796.0L521.1 796.5L521.3 796.9L521.5 797.3L521.7 797.7L521.9 798.1L522.1 798.5L522.2 798.9L522.4 799.4L522.6 799.8L522.8 800.2L523.0 800.6L523.2 801.0L523.4 801.4L523.6 801.8L523.7 802.2L523.9 802.6L524.1 803.0L524.3 803.4L524.5 803.8L524.7 804.2L524.9 804.6L525.1 805.0L525.3 805.4L525.4 805.8L525.6 806.2L525.8 806.6L526.0 807.0L526.2 807.5L526.4 807.9L526.6 808.4L526.9 809.0L527.1 809.5L527.4 810.1L527.6 810.6L527.8 811.1L528.1 811.6L528.3 812.1L528.5 812.5L528.6 812.9L528.8 813.2L528.9 813.4L529.0 813.5L529.0 813.6L529.0 813.5L529.0 813.4L528.9 813.2L528.8 813.0L528.7 812.8L528.6 812.5L528.5 812.2L528.4 811.8L528.3 811.5L528.2 811.2L528.1 810.9L528.0 810.7L527.9 810.4L527.8 810.3L527.8 810.2L527.8 810.1L527.8 810.2L527.9 810.5L528.1 810.9L528.3 811.4L528.6 812.0L528.9 812.7L529.2 813.6L529.5 814.4L529.9 815.3L530.3 816.3L530.7 817.2L531.1 818.2L531.4 819.1L531.8 820.0L532.2 820.8L532.5 821.6L532.8 822.3L533.1 823.0L533.4 823.7L533.7 824.4L534.0 825.1L534.3 825.8L534.6 826.5L534.9 827.2L535.2 827.9L535.5 828.6L535.8 829.3L536.1 830.0L536.4 830.7L536.7 831.4L537.0 832.1L537.3 832.8L537.6 833.5L538.0 834.2L538.3 834.9L538.6 835.6L538.9 836.3L539.2 837.0L539.5 837.7L539.8 838.4L540.2 839.1L540.5 839.8L540.8 840.5L541.1 841.2L541.4 841.9L541.8 842.6L542.1 843.3L542.4 844.0L542.7 844.6L543.1 845.3L543.4 846.0L543.7 846.7L544.1 847.4L544.4 848.1L544.7 848.8L545.0 849.5L545.4 850.2L545.7 850.8L546.0 851.5L546.4 852.2L546.7 852.9L547.1 853.6L547.4 854.3L547.7 855.0L548.1 855.6L548.4 856.3L548.8 857.0L549.1 857.7L549.5 858.4L549.8 859.1L550.2 859.8L550.5 860.4L550.9 861.1L551.2 861.8L551.6 862.5L551.9 863.2L552.3 863.9L552.7 864.5L553.0 865.2L553.4 865.9L553.7 866.6L554.1 867.3L554.5 867.9L554.8 868.6L555.2 869.3L555.6 870.0L555.9 870.6L556.3 871.3L556.7 872.0L557.1 872.7L557.4 873.3L557.8 874.0L558.2 874.7L558.6 875.4L559.0 876.0L559.3 876.7L559.7 877.4L560.1 878.0L560.5 878.7L560.9 879.4L561.2 880.1L561.6 880.7L562.0 881.4L562.4 882.1L562.8 882.7L563.2 883.4L563.6 884.1L564.0 884.7L564.4 885.4L564.8 886.0L565.1 886.7L565.5 887.4L565.9 888.0L566.3 888.7L566.7 889.3L567.1 890.0L567.5 890.7L567.9 891.3L568.3 892.0L568.7 892.6L569.1 893.3L569.6 893.9L570.0 894.6L570.4 895.2L570.8 895.9L571.2 896.5L571.6 897.2L572.0 897.8L572.4 898.5L572.8 899.1L573.2 899.7L573.7 900.4L574.1 901.0L574.5 901.7L574.9 902.3L575.3 902.9L575.8 903.6L576.2 904.2L576.6 904.8L577.0 905.5L577.5 906.1L577.9 906.7L578.3 907.4L578.7 908.0L579.2 908.6L579.6 909.2L580.0 909.9L580.5 910.5L580.9 911.1L581.3 911.7L581.8 912.3L582.2 913.0L582.6 913.6L583.1 914.2L583.5 914.8L584.0 915.4L584.4 916.0L584.9 916.6L585.3 917.3L585.8 917.9L586.2 918.5L586.6 919.1L587.1 919.7L587.5 920.3L588.0 920.9L588.5 921.5L588.9 922.1L589.4 922.7L589.8 923.2L590.3 923.8L590.7 924.4L591.2 925.0L591.7 925.6L592.1 926.2L592.6 926.8L593.1 927.4L593.5 927.9L594.0 928.5L594.5 929.1L594.9 929.7L595.4 930.2L595.9 930.8L596.3 931.4L596.8 932.0L597.3 932.5L597.8 933.1L598.2 933.7L598.7 934.2L599.2 934.8L599.7 935.3L600.2 935.9L600.6 936.5L601.1 937.0L601.6 937.6L602.1 938.1L602.6 938.7L603.1 939.2L603.6 939.8L604.1 940.3L604.5 940.9L605.0 941.4L605.5 942.0L606.0 942.5L606.5 943.1L607.0 943.6L607.5 944.1L608.0 944.7L608.5 945.2L609.0 945.8L609.5 946.3L610.0 946.8L610.5 947.4L611.0 947.9L611.6 948.4L612.1 949.0L612.6 949.5L613.1 950.0L613.6 950.5L614.1 951.1L614.6 951.6L615.1 952.1L615.7 952.7L616.2 953.2L616.7 953.7L617.2 954.2L617.7 954.7L618.3 955.3L618.8 955.8L619.3 956.3L619.9 956.8L620.4 957.3L620.9 957.9L621.4 958.4L622.0 958.9L622.5 959.4L623.0 959.9L623.6 960.4L624.1 961.0L624.6 961.5L625.2 962.0L625.7 962.5L626.3 963.0L626.8 963.5L627.4 964.0L627.9 964.5L628.5 965.1L629.0 965.6L629.6 966.1L630.1 966.6L630.7 967.1L631.2 967.6L631.8 968.1L632.3 968.6L632.9 969.1L633.4 969.6L634.0 970.1L634.5 970.6L635.1 971.1L635.7 971.6L636.2 972.2L636.8 972.7L637.4 973.2L637.9 973.7L638.5 974.2L639.1 974.7L639.7 975.2L640.2 975.7L640.8 976.2L641.4 976.7L642.0 977.2L642.5 977.7L643.1 978.2L643.7 978.7L644.3 979.2L644.9 979.7L645.5 980.2L646.1 980.7L646.6 981.2L647.2 981.7L647.8 982.2L648.4 982.7L649.0 983.2L649.6 983.7L650.2 984.2L650.8 984.7L651.4 985.2L652.0 985.7L652.6 986.2L653.2 986.7L653.8 987.2L654.4 987.7L655.1 988.2L655.7 988.7L656.3 989.2L656.9 989.8L657.5 990.3L658.1 990.8L658.8 991.3L659.4 991.8L660.0 992.2L660.6 992.7L661.3 993.2L661.9 993.7L662.5 994.2L663.2 994.7L663.8 995.2L664.4 995.7L665.1 996.2L665.7 996.7L666.4 997.2L667.0 997.7L667.7 998.2L668.3 998.7L669.0 999.2L669.6 999.7L670.3 1000.2L670.9 1000.6L671.6 1001.1L672.2 1001.6L672.9 1002.1L673.6 1002.6L674.2 1003.1L674.9 1003.6L675.6 1004.0L676.2 1004.5L676.9 1005.0L677.6 1005.5L678.3 1006.0L678.9 1006.4L679.6 1006.9L680.3 1007.4L681.0 1007.9L681.6 1008.3L682.3 1008.8L683.0 1009.3L683.7 1009.7L684.4 1010.2L685.1 1010.7L685.8 1011.1L686.5 1011.6L687.2 1012.1L687.9 1012.5L688.6 1013.0L689.3 1013.4L690.0 1013.9L690.7 1014.4L691.4 1014.8L692.1 1015.3L692.8 1015.7L693.5 1016.2L694.2 1016.6L695.0 1017.0L695.7 1017.5L696.4 1017.9L697.1 1018.4L697.9 1018.8L698.6 1019.2L699.3 1019.7L700.0 1020.1L700.8 1020.5L701.5 1021.0L702.2 1021.4L703.0 1021.8L703.7 1022.3L704.5 1022.7L705.2 1023.1L705.9 1023.5L706.7 1023.9L707.4 1024.4L708.2 1024.8L709.0 1025.2L709.7 1025.6L710.5 1026.1L711.2 1026.5L712.0 1026.9L712.8 1027.3L713.5 1027.7L714.3 1028.1L715.0 1028.5L715.8 1028.9L716.6 1029.4L717.4 1029.8L718.1 1030.2L718.9 1030.6L719.7 1031.0L720.5 1031.4L721.2 1031.8L722.0 1032.2L722.8 1032.6L723.6 1033.0L724.4 1033.4L725.2 1033.8L726.0 1034.2L726.8 1034.6L727.5 1035.0L728.3 1035.4L729.1 1035.8L729.9 1036.2L730.7 1036.6L731.5 1037.0L732.3 1037.4L733.1 1037.8L733.9 1038.2L734.8 1038.6L735.6 1039.0L736.4 1039.4L737.2 1039.8L738.0 1040.2L738.8 1040.6L739.6 1041.0L740.4 1041.4L741.3 1041.8L742.1 1042.2L742.9 1042.6L743.7 1043.0L744.5 1043.4L745.4 1043.8L746.2 1044.2L747.1 1044.6L747.9 1045.0L748.7 1045.4L749.6 1045.8L750.4 1046.2L751.3 1046.6L752.1 1047.0L752.9 1047.4L753.8 1047.8L754.6 1048.1L755.5 1048.5L756.3 1048.9L757.2 1049.3L758.1 1049.7L758.9 1050.1L759.8 1050.5L760.7 1050.9L761.5 1051.2L762.4 1051.6L763.3 1052.0L764.1 1052.4L765.0 1052.8L765.9 1053.2L766.8 1053.5L767.7 1053.9L768.5 1054.3L769.4 1054.7L770.3 1055.1L771.2 1055.4L772.1 1055.8L773.0 1056.2L773.9 1056.5L774.8 1056.9L775.7 1057.3L776.6 1057.6L777.5 1058.0L778.4 1058.4L779.3 1058.7L780.2 1059.1L781.1 1059.4L782.0 1059.8L783.0 1060.2L783.9 1060.5L784.8 1060.9L785.7 1061.2L786.6 1061.6L787.6 1061.9L788.5 1062.3L789.4 1062.7L790.4 1063.0L791.3 1063.4L792.2 1063.7L793.2 1064.1L794.1 1064.4L795.0 1064.8L796.0 1065.1L796.9 1065.5L797.9 1065.8L798.8 1066.2L799.8 1066.5L800.7 1066.9L801.7 1067.2L802.6 1067.5L803.6 1067.9L804.6 1068.2L805.5 1068.6L806.5 1068.9L807.5 1069.3L808.5 1069.6L809.4 1070.0L810.4 1070.3L811.4 1070.6L812.4 1071.0L813.4 1071.3L814.4 1071.7L815.3 1072.0L816.3 1072.3L817.3 1072.7L818.3 1073.0L819.3 1073.3L820.3 1073.7L821.3 1074.0L822.3 1074.3L823.4 1074.7L824.4 1075.0L825.4 1075.3L826.4 1075.7L827.4 1076.0L828.4 1076.3L829.5 1076.6L830.5 1077.0L831.5 1077.3L832.5 1077.6L833.6 1077.9L834.6 1078.3L835.7 1078.6L836.7 1078.9L837.8 1079.2L838.8 1079.5L839.9 1079.9L840.9 1080.2L842.0 1080.5L843.0 1080.8L844.1 1081.1L845.1 1081.4L846.2 1081.7L847.3 1082.1L848.3 1082.4L849.4 1082.7L850.5 1083.0L851.5 1083.3L852.6 1083.6L853.7 1083.9L854.8 1084.2L855.9 1084.5L857.0 1084.8L858.1 1085.1L859.2 1085.4L860.3 1085.7L861.4 1086.1L862.5 1086.4L863.6 1086.7L864.7 1087.0L865.8 1087.2L866.9 1087.5L868.0 1087.8L869.1 1088.1L870.3 1088.4L871.4 1088.7L872.5 1089.0L873.7 1089.3L874.8 1089.6L875.9 1089.9L877.1 1090.2L878.2 1090.5L879.3 1090.8L880.5 1091.1L881.6 1091.4L882.8 1091.7L883.9 1092.0L885.1 1092.3L886.2 1092.6L887.4 1092.9L888.6 1093.2L889.7 1093.5L890.9 1093.8L892.1 1094.0L893.3 1094.3L894.5 1094.6L895.6 1094.9L896.8 1095.2L898.0 1095.5L899.2 1095.8L900.4 1096.1L901.6 1096.4L902.8 1096.6L904.0 1096.9L905.2 1097.2L906.4 1097.5L907.6 1097.8L908.8 1098.1L910.0 1098.4L911.3 1098.6L912.5 1098.9L913.7 1099.2L914.9 1099.5L916.2 1099.8L917.4 1100.1L918.6 1100.3L919.9 1100.6L921.1 1100.9L922.4 1101.2L923.6 1101.5L924.8 1101.7L926.1 1102.0L927.4 1102.3L928.6 1102.6L929.9 1102.9L931.2 1103.2L932.5 1103.4L933.7 1103.7L935.0 1104.0L936.3 1104.3L937.6 1104.6L938.9 1104.8L940.1 1105.1L941.4 1105.4L942.7 1105.7L944.0 1105.9L945.3 1106.2L946.6 1106.5L947.9 1106.8L949.2 1107.0L950.6 1107.3L951.9 1107.6L953.2 1107.9L954.5 1108.1L955.9 1108.4L957.2 1108.7L958.5 1109.0L959.9 1109.2L961.2 1109.5L962.5 1109.8L963.9 1110.1L965.2 1110.3L966.5 1110.6L967.9 1110.9L969.3 1111.1L970.7 1111.4L972.0 1111.7L973.4 1112.0L974.8 1112.2L976.2 1112.5L977.5 1112.8L978.9 1113.1L980.3 1113.3L981.7 1113.6L983.1 1113.9L984.5 1114.1L985.9 1114.4L987.2 1114.7L988.6 1114.9L990.1 1115.2L991.5 1115.5L992.9 1115.7L994.3 1116.0L995.8 1116.3L997.2 1116.6L998.6 1116.8L1000.1 1117.1L1001.5 1117.4L1002.9 1117.6L1004.4 1117.9L1005.8 1118.2L1007.3 1118.4L1008.7 1118.7L1010.2 1118.9L1011.6 1119.2L1013.1 1119.5L1014.6 1119.7L1016.0 1120.0L1017.5 1120.3L1019.0 1120.5L1020.5 1120.8L1022.0 1121.1L1023.5 1121.3L1025.0 1121.6L1026.5 1121.9L1028.0 1122.1L1029.5 1122.4L1031.0 1122.6L1032.5 1122.9L1034.0 1123.2L1035.5 1123.4L1037.0 1123.7L1038.5 1123.9L1040.1 1124.2L1041.6 1124.5L1043.2 1124.7L1044.7 1125.0L1046.3 1125.2L1047.8 1125.5L1049.4 1125.8L1050.9 1126.0L1052.5 1126.3L1054.0 1126.5L1055.6 1126.8L1057.2 1127.0L1058.7 1127.3L1060.3 1127.6L1061.9 1127.8L1063.5 1128.1L1065.1 1128.3L1066.7 1128.6L1068.3 1128.8L1069.9 1129.1L1071.5 1129.4L1073.1 1129.6L1074.7 1129.9L1076.3 1130.1L1078.0 1130.4L1079.6 1130.6L1081.2 1130.9L1082.8 1131.1L1084.4 1131.4L1086.1 1131.6L1087.7 1131.9L1089.4 1132.1L1091.1 1132.4L1092.7 1132.6L1094.4 1132.9L1096.1 1133.1L1097.7 1133.4L1099.4 1133.7L1101.1 1133.9L1102.8 1134.2L1104.4 1134.4L1106.1 1134.6L1107.8 1134.9L1109.5 1135.1L1111.2 1135.4L1112.9 1135.6L1114.6 1135.9L1116.3 1136.1L1118.1 1136.4L1119.8 1136.6L1121.5 1136.9L1123.3 1137.1L1125.0 1137.4L1126.7 1137.6L1128.5 1137.9L1130.2 1138.1L1132.0 1138.4L1133.7 1138.6L1135.5 1138.9L1137.2 1139.1L1139.0 1139.3L1140.7 1139.6L1142.5 1139.8L1144.3 1140.1L1146.1 1140.3L1147.9 1140.6L1149.7 1140.8L1151.5 1141.1L1153.3 1141.3L1155.1 1141.6L1157.0 1141.8L1158.8 1142.1L1160.6 1142.3L1162.4 1142.5L1164.2 1142.8L1166.0 1143.0L1167.9 1143.3L1169.7 1143.5L1171.6 1143.8L1173.4 1144.0L1175.3 1144.3L1177.2 1144.5L1179.0 1144.8L1180.9 1145.0L1182.8 1145.2L1184.7 1145.5L1186.6 1145.7L1188.4 1146.0L1190.3 1146.2L1192.2 1146.5L1194.1 1146.7L1196.0 1146.9L1197.9 1147.2L1199.8 1147.4L1201.7 1147.7L1203.7 1147.9L1205.6 1148.1L1207.6 1148.4L1209.5 1148.6L1211.5 1148.9L1213.4 1149.1L1215.4 1149.4L1217.3 1149.6L1219.3 1149.8L1221.3 1150.1L1223.2 1150.3L1225.2 1150.5L1227.2 1150.8L1229.1 1151.0L1231.1 1151.2L1233.1 1151.5L1235.1 1151.7L1237.2 1152.0L1239.2 1152.2L1241.2 1152.4L1243.2 1152.7L1245.3 1152.9L1247.3 1153.1L1249.3 1153.4L1251.4 1153.6L1253.4 1153.8L1255.4 1154.0L1257.5 1154.3L1259.5 1154.5L1261.6 1154.7L1263.6 1155.0L1265.7 1155.2L1267.8 1155.4L1269.9 1155.6L1272.0 1155.9L1274.1 1156.1L1276.2 1156.3L1278.4 1156.5L1280.5 1156.8L1282.6 1157.0L1284.7 1157.2L1286.8 1157.4L1288.9 1157.6L1291.1 1157.9L1293.2 1158.1L1295.3 1158.3L1297.5 1158.5L1299.6 1158.7L1301.8 1159.0L1304.0 1159.2L1306.2 1159.4L1308.4 1159.6L1310.6 1159.8L1312.8 1160.0L1314.9 1160.3L1317.1 1160.5L1319.3 1160.7L1321.6 1160.9L1323.8 1161.1L1326.0 1161.3L1328.2 1161.5L1330.4 1161.7L1332.6 1162.0L1334.9 1162.2L1337.1 1162.4L1339.4 1162.6L1341.7 1162.8L1344.0 1163.0L1346.2 1163.2L1348.5 1163.4L1350.8 1163.7L1353.1 1163.9L1355.4 1164.1L1357.7 1164.3L1359.9 1164.5L1362.2 1164.7L1364.5 1164.9L1366.8 1165.1L1369.1 1165.3L1371.5 1165.5L1373.9 1165.7L1376.2 1166.0L1378.6 1166.2L1380.9 1166.4L1383.3 1166.6L1385.7 1166.8L1388.0 1167.0L1390.4 1167.2L1392.8 1167.4L1395.2 1167.6L1397.6 1167.8L1400.0 1168.0L1402.3 1168.2L1404.7 1168.4L1407.1 1168.6L1409.6 1168.8L1412.0 1169.0L1414.5 1169.3L1416.9 1169.5L1419.4 1169.7L1421.8 1169.9L1424.3 1170.1L1426.8 1170.3L1429.2 1170.5L1431.7 1170.7L1434.2 1170.9L1436.7 1171.1L1439.2 1171.3L1441.6 1171.5L1444.1 1171.7L1446.6 1171.9L1449.2 1172.1L1451.7 1172.3L1454.3 1172.5L1456.8 1172.7L1459.4 1172.9L1461.9 1173.1L1464.5 1173.3L1467.0 1173.5L1469.6 1173.7L1472.2 1173.9L1474.7 1174.1L1477.3 1174.3L1479.9 1174.5L1482.5 1174.7L1485.1 1174.9L1487.7 1175.1L1490.3 1175.2L1493.0 1175.4L1495.6 1175.6L1498.3 1175.8L1500.9 1176.0L1503.6 1176.2L1506.2 1176.4L1508.9 1176.6L1511.6 1176.8L1514.2 1177.0L1516.9 1177.1L1519.6 1177.3L1522.3 1177.5L1525.0 1177.7L1527.6 1177.9L1530.3 1178.1L1533.1 1178.2L1535.8 1178.4L1538.6 1178.6L1541.3 1178.8L1544.1 1179.0L1546.9 1179.1L1549.6 1179.3L1552.4 1179.5L1555.2 1179.7L1558.0 1179.8L1560.7 1180.0L1563.5 1180.2L1566.3 1180.4L1569.1 1180.5L1571.9 1180.7L1574.7 1180.9L1577.5 1181.1L1580.4 1181.2L1583.3 1181.4L1586.1 1181.6L1589.0 1181.8L1591.9 1181.9L1594.7 1182.1L1597.6 1182.3L1600.5 1182.5L1603.4 1182.6L1606.3 1182.8L1609.2 1183.0L1612.1 1183.1L1615.0 1183.3L1617.9 1183.5L1620.8 1183.7L1623.8 1183.8L1626.7 1184.0L1629.7 1184.2L1632.7 1184.4L1635.7 1184.5L1638.7 1184.7L1641.6 1184.9L1644.6 1185.0L1647.6 1185.2L1650.6 1185.4L1653.6 1185.6L1656.6 1185.7L1659.7 1185.9L1662.7 1186.1L1665.7 1186.3L1668.7 1186.4L1671.8 1186.6L1674.9 1186.8L1678.0 1186.9L1681.1 1187.1L1684.2 1187.3L1687.3 1187.5L1690.4 1187.6L1693.5 1187.8L1696.6 1188.0L1699.7 1188.2L1702.9 1188.3L1706.0 1188.5L1709.1 1188.7L1712.3 1188.8L1715.4 1189.0L1718.5 1189.2L1721.7 1189.3L1724.9 1189.5L1728.2 1189.7L1731.4 1189.9L1734.6 1190.0L1737.8 1190.2L1741.1 1190.4L1744.3 1190.5L1747.5 1190.7L1750.8 1190.9L1754.0 1191.0L1757.3 1191.2L1760.5 1191.4L1763.8 1191.6L1767.1 1191.7L1770.3 1191.9L1773.7 1192.1L1777.0 1192.2L1780.3 1192.4L1783.7 1192.6L1787.0 1192.7L1790.4 1192.9L1793.7 1193.1L1797.1 1193.2L1800.5 1193.4L1803.8 1193.6L1807.2 1193.8L1810.6 1193.9L1814.0 1194.1L1817.4 1194.3L1820.8 1194.4L1824.2 1194.6L1827.6 1194.8L1831.1 1194.9L1834.6 1195.1L1838.0 1195.3L1841.5 1195.4L1845.0 1195.6L1848.5 1195.8L1852.0 1196.0L1855.5 1196.1L1859.0 1196.3L1862.5 1196.5L1866.0 1196.6L1869.5 1196.8L1873.1 1197.0L1876.6 1197.1L1880.1 1197.3L1883.7 1197.5L1887.3 1197.6L1890.9 1197.8L1894.6 1198.0L1898.2 1198.1L1901.8 1198.3L1905.4 1198.5L1909.1 1198.6L1912.7 1198.8L1916.3 1199.0L1920.0 1199.1L1923.6 1199.3L1927.3 1199.5L1931.0 1199.6L1934.6 1199.8L1938.3 1200.0L1942.0 1200.1L1945.8 1200.3L1949.5 1200.4L1953.3 1200.6L1957.1 1200.8L1960.8 1200.9L1964.6 1201.1L1968.4 1201.3L1972.2 1201.4L1975.9 1201.6L1979.7 1201.8L1983.5 1201.9L1987.3 1202.1L1991.1 1202.2L1994.9 1202.4L1998.8 1202.6L2002.7 1202.7L2006.6 1202.9L2010.5 1203.1L2014.4 1203.2L2018.3 1203.4L2022.2 1203.5L2026.1 1203.7L2030.0 1203.9L2034.0 1204.0L2037.9 1204.2L2041.9 1204.3L2045.8 1204.5L2049.7 1204.7L2053.7 1204.8L2057.7 1205.0L2061.6 1205.1L2065.7 1205.3L2069.7 1205.5L2073.8 1205.6L2077.8 1205.8L2081.9 1205.9L2086.0 1206.1L2090.1 1206.3L2094.1 1206.4L2098.2 1206.6L2102.3 1206.7L2106.4 1206.9L2110.5 1207.0L2114.6 1207.2L2118.7 1207.4L2122.9 1207.5L2127.0 1207.7L2131.2 1207.8L2135.4 1208.0L2139.6 1208.1L2143.9 1208.3L2148.1 1208.4L2152.4 1208.6L2156.6 1208.8L2160.9 1208.9L2165.1 1209.1L2169.4 1209.2L2173.6 1209.4L2177.9 1209.5L2182.2 1209.7L2186.4 1209.8L2190.7 1210.0L2194.9 1210.2" stroke="#0a0a0a" stroke-width="4.0"/>
<path d="M417.5 1254.7L417.8 1252.7L418.1 1250.7L418.4 1248.8L418.7 1246.8L419.0 1244.8L419.4 1242.8L419.7 1240.9L420.1 1238.9L420.5 1236.9L420.9 1235.0L421.3 1233.0L421.8 1231.0L422.2 1229.1L422.6 1227.1L423.1 1225.2L423.6 1223.2L424.0 1221.3L424.5 1219.3L425.0 1217.4L425.4 1215.4L425.9 1213.5L426.4 1211.6L426.9 1209.6L427.4 1207.7L427.9 1205.7L428.4 1203.8L428.9 1201.9L429.4 1199.9L429.9 1198.0L430.5 1196.1L431.0 1194.1L431.5 1192.2L432.1 1190.3L432.6 1188.3L433.2 1186.4L433.7 1184.5L434.3 1182.6L434.9 1180.6L435.4 1178.7L436.0 1176.8L436.5 1174.9L437.1 1172.9L437.7 1171.0L438.2 1169.1L438.8 1167.2L439.3 1165.2L439.9 1163.3L440.4 1161.4L440.9 1159.4L441.4 1157.5L442.0 1155.6L442.5 1153.6L443.0 1151.7L443.5 1149.8L444.0 1147.8L444.5 1145.9L445.0 1143.9L445.4 1142.0L445.9 1140.0L446.4 1138.1L446.9 1136.2L447.3 1134.2L447.8 1132.3L448.3 1130.3L448.8 1128.4L449.2 1126.4L449.7 1124.5L450.2 1122.5L450.6 1120.6L451.1 1118.6L451.5 1116.7L452.0 1114.7L452.4 1112.8L452.9 1110.8L453.3 1108.9L453.8 1106.9L454.2 1104.9L454.6 1103.0L455.0 1101.0L455.4 1099.1L455.9 1097.1L456.3 1095.1L456.7 1093.2L457.1 1091.2L457.6 1089.3L458.1 1087.3L458.5 1085.4L459.1 1083.5L459.6 1081.5L460.2 1079.6L460.8 1077.7L461.4 1075.8L462.0 1073.9L462.7 1072.0L463.4 1070.1L464.1 1068.2L464.8 1066.4L465.5 1064.5L466.2 1062.6L466.9 1060.8L467.7 1058.9L468.4 1057.0L469.1 1055.2L469.9 1053.3L470.6 1051.4L471.4 1049.6L472.1 1047.7L472.9 1045.9L473.6 1044.0L474.4 1042.2L475.1 1040.3L475.9 1038.5L476.7 1036.6L477.4 1034.7L478.2 1032.9L479.0 1031.0L479.8 1029.2L480.6 1027.4L481.4 1025.5L482.2 1023.7L483.1 1021.9L484.0 1020.1L484.9 1018.3L485.8 1016.6L486.7 1014.8L487.7 1013.0L488.7 1011.3L489.8 1009.6L490.9 1007.9L492.0 1006.3L493.1 1004.7L494.3 1003.1L495.6 1001.5L496.8 999.9L498.1 998.4L499.4 996.9L500.8 995.4L502.2 994.0L503.6 992.5L505.0 991.1L506.5 989.8L508.0 988.5L509.5 987.2L511.1 986.1L512.8 985.0L514.5 983.9L516.2 983.0L518.0 982.1L519.8 981.2L521.6 980.4L523.5 979.7L525.3 979.0L527.2 978.4L529.2 977.9L531.1 977.4L533.0 977.0L535.0 976.7L537.0 976.4L539.0 976.1L541.0 975.9L543.0 975.8L544.9 975.7L546.9 975.6L548.9 975.6L550.9 975.6L552.9 975.6L554.9 975.7L556.9 975.8L558.9 976.0L560.9 976.1L562.9 976.3L564.9 976.6L566.9 976.8L568.9 977.1L570.9 977.4L572.8 977.7L574.8 978.1L576.8 978.5L578.7 978.9L580.7 979.4L582.6 979.8L584.6 980.3L586.5 980.9L588.4 981.4L590.3 982.0L592.3 982.5L594.2 983.1L596.1 983.7L598.0 984.3L599.9 984.9L601.8 985.6L603.7 986.2L605.6 986.9L607.5 987.5L609.4 988.2L611.3 988.9L613.2 989.5L615.0 990.2L616.9 990.9L618.8 991.6L620.7 992.4L622.5 993.1L624.4 993.8L626.2 994.6L628.1 995.4L629.9 996.1L631.8 996.9L633.6 997.8L635.4 998.6L637.2 999.4L639.1 1000.2L640.9 1001.1L642.7 1001.9L644.5 1002.8L646.3 1003.6L648.2 1004.5L650.0 1005.3L651.8 1006.1L653.6 1006.9L655.5 1007.8L657.3 1008.6L659.1 1009.4L661.0 1010.1L662.8 1010.9L664.7 1011.7L666.5 1012.5L668.4 1013.2L670.2 1014.0L672.1 1014.7L674.0 1015.5L675.8 1016.2L677.7 1016.9L679.6 1017.6L681.4 1018.3L683.3 1019.0L685.2 1019.7L687.1 1020.4L689.0 1021.1L690.9 1021.7L692.8 1022.3L694.7 1023.0L696.6 1023.6L698.5 1024.2L700.4 1024.8L702.3 1025.4L704.2 1025.9L706.1 1026.5L708.0 1027.1L709.9 1027.6L711.7 1028.2L713.5 1028.9L715.3 1029.6L717.1 1030.3L718.9 1031.1L720.7 1032.0L722.4 1032.9L724.2 1033.8L726.0 1034.7L727.8 1035.6L729.6 1036.5L731.4 1037.4L733.2 1038.3L735.0 1039.2L736.8 1040.0L738.6 1040.9L740.4 1041.8L742.2 1042.7L744.0 1043.5L745.8 1044.4L747.6 1045.2L749.4 1046.1L751.2 1046.9L753.0 1047.8L754.9 1048.6L756.7 1049.4L758.5 1050.3L760.4 1051.1L762.2 1051.9L764.0 1052.7L765.9 1053.5L767.7 1054.3L769.5 1055.1L771.4 1055.8L773.2 1056.6L775.1 1057.4L777.0 1058.1L778.8 1058.9L780.7 1059.6L782.5 1060.3L784.4 1061.1L786.3 1061.8L788.1 1062.5L790.0 1063.2L791.9 1063.9L793.8 1064.6L795.7 1065.3L797.5 1066.0L799.4 1066.7L801.3 1067.4L803.2 1068.1L805.1 1068.7L807.0 1069.4L808.8 1070.1L810.7 1070.7L812.6 1071.4L814.5 1072.0L816.4 1072.7L818.3 1073.3L820.2 1073.9L822.1 1074.6L824.0 1075.2L825.9 1075.8L827.8 1076.4L829.8 1077.0L831.7 1077.6L833.6 1078.2L835.5 1078.8L837.4 1079.4L839.3 1080.0L841.2 1080.6L843.2 1081.1L845.1 1081.7L847.0 1082.3L848.9 1082.8L850.9 1083.4L852.8 1083.9L854.7 1084.5L856.6 1085.0L858.6 1085.6L860.5 1086.1L862.4 1086.6L864.4 1087.2L866.3 1087.7L868.2 1088.2L870.2 1088.7L872.1 1089.2L874.0 1089.7L876.0 1090.3L877.9 1090.8L879.9 1091.3L881.8 1091.8L883.7 1092.2L885.7 1092.7L887.6 1093.2L889.6 1093.7L891.5 1094.2L893.5 1094.7L895.4 1095.2L897.4 1095.6L899.3 1096.1L901.3 1096.6L903.2 1097.0L905.2 1097.5L907.1 1098.0L909.1 1098.4L911.0 1098.9L913.0 1099.3L914.9 1099.8L916.9 1100.2L918.8 1100.7L920.8 1101.1L922.7 1101.6L924.7 1102.0L926.6 1102.4L928.6 1102.9L930.5 1103.3L932.5 1103.7L934.5 1104.2L936.4 1104.6L938.4 1105.0L940.3 1105.4L942.3 1105.8L944.3 1106.3L946.2 1106.7L948.2 1107.1L950.1 1107.5L952.1 1107.9L954.1 1108.3L956.0 1108.7L958.0 1109.1L959.9 1109.5L961.9 1109.9L963.9 1110.3L965.8 1110.7L967.8 1111.1L969.8 1111.5L971.7 1111.9L973.7 1112.3L975.7 1112.7L977.6 1113.1L979.6 1113.5L981.6 1113.8L983.5 1114.2L985.5 1114.6L987.5 1115.0L989.4 1115.4L991.4 1115.7L993.4 1116.1L995.3 1116.5L997.3 1116.8L999.3 1117.2L1001.2 1117.6L1003.2 1117.9L1005.2 1118.3L1007.2 1118.7L1009.1 1119.0L1011.1 1119.4L1013.1 1119.7L1015.0 1120.1L1017.0 1120.5L1019.0 1120.8L1021.0 1121.2L1022.9 1121.5L1024.9 1121.9L1026.9 1122.2L1028.9 1122.5L1030.8 1122.9L1032.8 1123.2L1034.8 1123.6L1036.8 1123.9L1038.7 1124.2L1040.7 1124.6L1042.7 1124.9L1044.7 1125.2L1046.6 1125.6L1048.6 1125.9L1050.6 1126.2L1052.6 1126.6L1054.5 1126.9L1056.5 1127.2L1058.5 1127.5L1060.5 1127.9L1062.5 1128.2L1064.4 1128.5L1066.4 1128.8L1068.4 1129.1L1070.4 1129.4L1072.3 1129.8L1074.3 1130.1L1076.3 1130.4L1078.3 1130.7L1080.3 1131.0L1082.2 1131.3L1084.2 1131.6L1086.2 1131.9L1088.2 1132.2L1090.2 1132.5L1092.1 1132.8L1094.1 1133.1L1096.1 1133.4L1098.1 1133.7L1100.1 1134.0L1102.1 1134.3L1104.0 1134.6L1106.0 1134.9L1108.0 1135.2L1110.0 1135.5L1112.0 1135.8L1113.9 1136.1L1115.9 1136.3L1117.9 1136.6L1119.9 1136.9L1121.9 1137.2L1123.9 1137.5L1125.8 1137.8L1127.8 1138.1L1129.8 1138.3L1131.8 1138.6L1133.8 1138.9L1135.8 1139.2L1137.8 1139.4L1139.7 1139.7L1141.7 1140.0L1143.7 1140.3L1145.7 1140.5L1147.7 1140.8L1149.7 1141.1L1151.6 1141.4L1153.6 1141.6L1155.6 1141.9L1157.6 1142.2L1159.6 1142.4L1161.6 1142.7L1163.6 1143.0L1165.5 1143.2L1167.5 1143.5L1169.5 1143.8L1171.5 1144.0L1173.5 1144.3L1175.5 1144.6L1177.5 1144.8L1179.4 1145.1L1181.4 1145.3L1183.4 1145.6L1185.4 1145.9L1187.4 1146.1L1189.4 1146.4L1191.4 1146.6L1193.4 1146.9L1195.3 1147.1L1197.3 1147.4L1199.3 1147.6L1201.3 1147.9L1203.3 1148.1L1205.3 1148.4L1207.3 1148.6L1209.3 1148.9L1211.3 1149.1L1213.2 1149.4L1215.2 1149.6L1217.2 1149.9L1219.2 1150.1L1221.2 1150.3L1223.2 1150.6L1225.2 1150.8L1227.2 1151.0L1229.2 1151.3L1231.1 1151.5L1233.1 1151.8L1235.1 1152.0L1237.1 1152.2L1239.1 1152.5L1241.1 1152.7L1243.1 1152.9L1245.1 1153.1L1247.1 1153.4L1249.1 1153.6L1251.1 1153.8L1253.0 1154.0L1255.0 1154.3L1257.0 1154.5L1259.0 1154.7L1261.0 1154.9L1263.0 1155.2L1265.0 1155.4L1267.0 1155.6L1269.0 1155.8L1271.0 1156.0L1273.0 1156.2L1275.0 1156.4L1276.9 1156.7L1278.9 1156.9L1280.9 1157.1L1282.9 1157.3L1284.9 1157.5L1286.9 1157.7L1288.9 1157.9L1290.9 1158.1L1292.9 1158.3L1294.9 1158.5L1296.9 1158.7L1298.9 1158.9L1300.9 1159.1L1302.9 1159.3L1304.8 1159.5L1306.8 1159.7L1308.8 1159.9L1310.8 1160.1L1312.8 1160.3L1314.8 1160.5L1316.8 1160.7L1318.8 1160.9L1320.8 1161.1L1322.8 1161.3L1324.8 1161.5L1326.8 1161.7L1328.8 1161.9L1330.8 1162.1L1332.8 1162.2L1334.8 1162.4L1336.8 1162.6L1338.8 1162.8L1340.7 1163.0L1342.7 1163.2L1344.7 1163.4L1346.7 1163.6L1348.7 1163.7L1350.7 1163.9L1352.7 1164.1L1354.7 1164.3L1356.7 1164.5L1358.7 1164.7L1360.7 1164.8L1362.7 1165.0L1364.7 1165.2L1366.7 1165.4L1368.7 1165.6L1370.7 1165.7L1372.7 1165.9L1374.7 1166.1L1376.7 1166.3L1378.7 1166.4L1380.7 1166.6L1382.7 1166.8L1384.6 1167.0L1386.6 1167.1L1388.6 1167.3L1390.6 1167.5L1392.6 1167.7L1394.6 1167.8L1396.6 1168.0L1398.6 1168.2L1400.6 1168.4L1402.6 1168.5L1404.6 1168.7L1406.6 1168.9L1408.6 1169.0L1410.6 1169.2L1412.6 1169.4L1414.6 1169.5L1416.6 1169.7L1418.6 1169.9L1420.6 1170.0L1422.6 1170.2L1424.6 1170.4L1426.6 1170.5L1428.6 1170.7L1430.6 1170.9L1432.6 1171.0L1434.6 1171.2L1436.6 1171.3L1438.6 1171.5L1440.6 1171.7L1442.6 1171.8L1444.5 1172.0L1446.5 1172.1L1448.5 1172.3L1450.5 1172.5L1452.5 1172.6L1454.5 1172.8L1456.5 1172.9L1458.5 1173.1L1460.5 1173.2L1462.5 1173.4L1464.5 1173.6L1466.5 1173.7L1468.5 1173.9L1470.5 1174.0L1472.5 1174.2L1474.5 1174.3L1476.5 1174.5L1478.5 1174.6L1480.5 1174.8L1482.5 1174.9L1484.5 1175.1L1486.5 1175.2L1488.5 1175.4L1490.5 1175.5L1492.5 1175.7L1494.5 1175.8L1496.5 1176.0L1498.5 1176.1L1500.5 1176.3L1502.5 1176.4L1504.5 1176.5L1506.5 1176.7L1508.5 1176.8L1510.5 1177.0L1512.5 1177.1L1514.5 1177.2L1516.5 1177.4L1518.5 1177.5L1520.5 1177.7L1522.5 1177.8L1524.5 1177.9L1526.5 1178.1L1528.5 1178.2L1530.5 1178.3L1532.5 1178.5L1534.5 1178.6L1536.5 1178.7L1538.5 1178.9L1540.5 1179.0L1542.5 1179.1L1544.5 1179.3L1546.5 1179.4L1548.5 1179.5L1550.5 1179.6L1552.5 1179.8L1554.5 1179.9L1556.5 1180.0L1558.5 1180.2L1560.5 1180.3L1562.5 1180.4L1564.5 1180.5L1566.5 1180.7L1568.5 1180.8L1570.5 1180.9L1572.5 1181.0L1574.5 1181.2L1576.5 1181.3L1578.5 1181.4L1580.5 1181.5L1582.5 1181.6L1584.5 1181.8L1586.5 1181.9L1588.5 1182.0L1590.5 1182.1L1592.5 1182.2L1594.5 1182.4L1596.5 1182.5L1598.5 1182.6L1600.5 1182.7L1602.5 1182.8L1604.5 1183.0L1606.5 1183.1L1608.5 1183.2L1610.5 1183.3L1612.5 1183.4L1614.5 1183.6L1616.5 1183.7L1618.5 1183.8L1620.5 1183.9L1622.5 1184.0L1624.5 1184.1L1626.5 1184.3L1628.5 1184.4L1630.5 1184.5L1632.5 1184.6L1634.5 1184.7L1636.5 1184.8L1638.5 1185.0L1640.5 1185.1L1642.5 1185.2L1644.5 1185.3L1646.5 1185.4L1648.5 1185.5L1650.5 1185.7L1652.5 1185.8L1654.5 1185.9L1656.5 1186.0L1658.5 1186.1L1660.5 1186.2L1662.5 1186.3L1664.5 1186.5L1666.5 1186.6L1668.5 1186.7L1670.5 1186.8L1672.5 1186.9L1674.5 1187.0L1676.5 1187.1L1678.5 1187.3L1680.5 1187.4L1682.5 1187.5L1684.5 1187.6L1686.5 1187.7L1688.5 1187.8L1690.5 1187.9L1692.5 1188.0L1694.5 1188.1L1696.5 1188.3L1698.5 1188.4L1700.5 1188.5L1702.5 1188.6L1704.5 1188.7L1706.5 1188.8L1708.5 1188.9L1710.5 1189.0L1712.5 1189.1L1714.5 1189.2L1716.5 1189.3L1718.5 1189.4L1720.5 1189.6L1722.5 1189.7L1724.5 1189.8L1726.5 1189.9L1728.5 1190.0L1730.5 1190.1L1732.5 1190.2L1734.5 1190.3L1736.5 1190.4L1738.5 1190.5L1740.5 1190.6L1742.5 1190.7L1744.5 1190.8L1746.5 1190.9L1748.5 1191.0L1750.5 1191.1L1752.5 1191.2L1754.5 1191.3L1756.5 1191.5L1758.5 1191.6L1760.5 1191.7L1762.5 1191.8L1764.5 1191.9L1766.5 1192.0L1768.5 1192.1L1770.5 1192.2L1772.5 1192.3L1774.5 1192.4L1776.5 1192.5L1778.5 1192.6L1780.5 1192.7L1782.5 1192.8L1784.5 1192.9L1786.5 1193.0L1788.5 1193.1L1790.5 1193.2L1792.5 1193.3L1794.5 1193.4L1796.5 1193.5L1798.5 1193.6L1800.5 1193.7L1802.5 1193.8L1804.5 1193.9L1806.5 1194.0L1808.5 1194.1L1810.5 1194.2L1812.5 1194.3L1814.5 1194.4L1816.5 1194.5L1818.5 1194.6L1820.5 1194.7L1822.5 1194.8L1824.5 1194.9L1826.5 1195.0L1828.6 1195.1L1830.6 1195.2L1832.6 1195.3L1834.6 1195.4L1836.6 1195.5L1838.6 1195.6L1840.6 1195.7L1842.6 1195.8L1844.6 1195.9L1846.6 1196.0L1848.6 1196.1L1850.6 1196.2L1852.6 1196.3L1854.6 1196.4L1856.6 1196.4L1858.6 1196.5L1860.6 1196.6L1862.6 1196.7L1864.6 1196.8L1866.6 1196.9L1868.6 1197.0L1870.6 1197.1L1872.6 1197.2L1874.6 1197.3L1876.6 1197.4L1878.6 1197.5L1880.6 1197.6L1882.6 1197.7L1884.6 1197.8L1886.6 1197.9L1888.6 1198.0L1890.6 1198.1L1892.6 1198.2L1894.6 1198.2L1896.6 1198.3L1898.6 1198.4L1900.6 1198.5L1902.6 1198.6L1904.6 1198.7L1906.6 1198.8L1908.6 1198.9L1910.6 1199.0L1912.6 1199.1L1914.6 1199.2L1916.6 1199.3L1918.6 1199.3L1920.6 1199.4L1922.6 1199.5L1924.6 1199.6L1926.6 1199.7L1928.6 1199.8L1930.6 1199.9L1932.6 1200.0L1934.6 1200.1L1936.6 1200.2L1938.6 1200.2L1940.6 1200.3L1942.6 1200.4L1944.6 1200.5L1946.6 1200.6L1948.6 1200.7L1950.6 1200.8L1952.6 1200.9L1954.6 1200.9L1956.6 1201.0L1958.7 1201.1L1960.7 1201.2L1962.7 1201.3L1964.7 1201.4L1966.7 1201.5L1968.7 1201.6L1970.7 1201.6L1972.7 1201.7L1974.7 1201.8L1976.7 1201.9L1978.7 1202.0L1980.7 1202.1L1982.7 1202.2L1984.7 1202.2L1986.7 1202.3L1988.7 1202.4L1990.7 1202.5L1992.7 1202.6L1994.7 1202.7L1996.7 1202.8L1998.7 1202.8L2000.7 1202.9L2002.7 1203.0L2004.7 1203.1L2006.7 1203.2L2008.7 1203.3L2010.7 1203.3L2012.7 1203.4L2014.7 1203.5L2016.7 1203.6L2018.7 1203.7L2020.7 1203.8L2022.7 1203.8L2024.7 1203.9L2026.7 1204.0L2028.7 1204.1L2030.7 1204.2L2032.7 1204.2L2034.7 1204.3L2036.7 1204.4L2038.7 1204.5L2040.7 1204.6L2042.7 1204.7L2044.7 1204.7L2046.7 1204.8L2048.7 1204.9L2050.7 1205.0L2052.7 1205.1L2054.7 1205.1L2056.7 1205.2L2058.7 1205.3L2060.8 1205.4L2062.8 1205.5L2064.8 1205.5L2066.8 1205.6L2068.8 1205.7L2070.8 1205.8L2072.8 1205.9L2074.8 1205.9L2076.8 1206.0L2078.8 1206.1L2080.8 1206.2L2082.8 1206.2L2084.8 1206.3L2086.8 1206.4L2088.8 1206.5L2090.8 1206.6L2092.8 1206.6L2094.8 1206.7L2096.8 1206.8L2098.8 1206.9L2100.8 1206.9L2102.8 1207.0L2104.8 1207.1L2106.8 1207.2L2108.8 1207.2L2110.8 1207.3L2112.8 1207.4L2114.8 1207.5L2116.8 1207.6L2118.8 1207.6L2120.8 1207.7L2122.8 1207.8L2124.8 1207.9L2126.8 1207.9L2128.8 1208.0L2130.8 1208.1L2132.8 1208.2L2134.8 1208.2L2136.8 1208.3L2138.8 1208.4L2140.8 1208.5L2142.8 1208.5L2144.8 1208.6L2146.8 1208.7L2148.8 1208.8L2150.9 1208.8L2152.9 1208.9L2154.9 1209.0L2156.9 1209.0L2158.9 1209.1L2160.9 1209.2L2162.9 1209.3L2164.9 1209.3L2166.9 1209.4L2168.9 1209.5L2170.9 1209.6L2172.9 1209.6L2174.9 1209.7L2176.9 1209.8L2178.9 1209.8L2180.9 1209.9L2182.9 1210.0L2184.9 1210.1L2186.9 1210.1L2188.9 1210.2L2190.9 1210.3L2192.9 1210.4L2194.9 1210.4" stroke="#0a0a0a" stroke-width="4.0"/>
<path d="M411.5 1314.5L413.1 1313.6L414.7 1312.7L416.2 1311.7L417.7 1310.7L419.2 1309.5L420.5 1308.2L421.8 1306.9L423.0 1305.4L424.1 1303.9L425.2 1302.3L426.3 1300.6L427.3 1298.9L428.3 1297.2L429.2 1295.5L430.2 1293.7L431.2 1292.0L432.2 1290.2L433.1 1288.5L434.1 1286.7L435.2 1285.0L436.2 1283.3L437.2 1281.6L438.3 1279.9L439.4 1278.3L440.5 1276.6L441.7 1275.0L442.8 1273.3L444.0 1271.7L445.2 1270.1L446.4 1268.5L447.6 1266.9L448.8 1265.3L450.1 1263.8L451.3 1262.2L452.6 1260.6L453.9 1259.1L455.2 1257.6L456.4 1256.0L457.7 1254.5L459.1 1253.0L460.4 1251.5L461.7 1250.0L463.1 1248.5L464.4 1247.0L465.8 1245.6L467.2 1244.1L468.5 1242.7L469.9 1241.2L471.3 1239.8L472.7 1238.4L474.1 1236.9L475.5 1235.5L476.9 1234.1L478.3 1232.6L479.7 1231.2L481.1 1229.7L482.5 1228.3L483.8 1226.8L485.2 1225.4L486.6 1223.9L487.9 1222.4L489.3 1221.0L490.7 1219.5L492.0 1218.0L493.4 1216.6L494.7 1215.1L496.1 1213.6L497.5 1212.2L498.9 1210.7L500.2 1209.3L501.6 1207.8L503.0 1206.4L504.4 1204.9L505.8 1203.5L507.2 1202.1L508.6 1200.7L510.0 1199.3L511.5 1197.9L512.9 1196.5L514.4 1195.1L515.9 1193.8L517.4 1192.5L518.9 1191.2L520.4 1189.9L521.9 1188.6L523.5 1187.3L525.0 1186.0L526.6 1184.7L528.1 1183.5L529.7 1182.2L531.3 1181.0L532.8 1179.8L534.4 1178.5L536.0 1177.3L537.6 1176.1L539.2 1174.9L540.8 1173.7L542.5 1172.6L544.1 1171.4L545.8 1170.3L547.4 1169.2L549.1 1168.1L550.8 1167.0L552.5 1166.0L554.2 1165.0L555.9 1163.9L557.7 1162.9L559.4 1162.0L561.2 1161.0L562.9 1160.1L564.7 1159.1L566.5 1158.2L568.3 1157.4L570.1 1156.5L571.9 1155.6L573.7 1154.8L575.6 1154.0L577.4 1153.2L579.2 1152.5L581.1 1151.7L583.0 1151.0L584.8 1150.3L586.7 1149.6L588.6 1148.9L590.5 1148.2L592.4 1147.6L594.3 1146.9L596.2 1146.3L598.1 1145.7L600.0 1145.0L601.9 1144.4L603.8 1143.8L605.7 1143.2L607.6 1142.6L609.5 1142.1L611.5 1141.5L613.4 1141.0L615.3 1140.4L617.2 1139.9L619.2 1139.4L621.1 1138.9L623.0 1138.3L625.0 1137.8L626.9 1137.4L628.9 1136.9L630.8 1136.4L632.8 1135.9L634.7 1135.5L636.7 1135.0L638.6 1134.5L640.6 1134.1L642.5 1133.7L644.5 1133.2L646.4 1132.8L648.4 1132.4L650.3 1132.0L652.3 1131.6L654.3 1131.1L656.2 1130.8L658.2 1130.4L660.2 1130.0L662.1 1129.6L664.1 1129.2L666.1 1128.9L668.0 1128.5L670.0 1128.2L672.0 1127.9L674.0 1127.5L675.9 1127.2L677.9 1126.9L679.9 1126.7L681.9 1126.4L683.9 1126.2L685.9 1125.9L687.8 1125.7L689.8 1125.5L691.8 1125.3L693.8 1125.2L695.8 1125.0L697.8 1124.9L699.8 1124.7L701.8 1124.6L703.8 1124.5L705.8 1124.4L707.8 1124.2L709.8 1124.1L711.8 1124.0L713.8 1123.9L715.8 1123.8L717.8 1123.7L719.8 1123.6L721.8 1123.5L723.8 1123.5L725.8 1123.4L727.8 1123.3L729.8 1123.2L731.8 1123.2L733.8 1123.1L735.8 1123.0L737.8 1123.0L739.8 1122.9L741.8 1122.9L743.8 1122.8L745.8 1122.8L747.8 1122.7L749.8 1122.7L751.8 1122.7L753.8 1122.6L755.8 1122.6L757.8 1122.6L759.8 1122.6L761.9 1122.6L763.9 1122.6L765.9 1122.6L767.9 1122.6L769.9 1122.6L771.9 1122.6L773.9 1122.6L775.9 1122.6L777.9 1122.7L779.9 1122.7L781.9 1122.7L783.9 1122.8L785.9 1122.8L787.9 1122.9L789.9 1122.9L791.9 1123.0L793.9 1123.1L795.9 1123.2L797.9 1123.3L799.9 1123.4L801.9 1123.5L803.9 1123.6L805.9 1123.7L807.9 1123.8L809.9 1123.9L811.9 1124.0L813.9 1124.1L815.9 1124.3L817.9 1124.4L819.9 1124.5L821.9 1124.6L823.9 1124.7L825.9 1124.8L827.9 1124.9L829.9 1125.0L831.9 1125.1L833.9 1125.2L835.9 1125.3L837.9 1125.4L839.9 1125.5L841.9 1125.7L843.9 1125.8L845.9 1125.9L847.9 1126.0L849.9 1126.1L851.9 1126.2L853.9 1126.3L855.9 1126.4L857.9 1126.6L859.9 1126.7L861.9 1126.8L863.9 1126.9L865.9 1127.0L867.9 1127.1L869.9 1127.2L871.9 1127.3L873.9 1127.5L875.9 1127.6L877.9 1127.7L879.9 1127.8L881.9 1127.9L883.9 1128.0L885.9 1128.1L887.9 1128.3L889.9 1128.4L891.9 1128.5L893.9 1128.6L895.9 1128.7L897.9 1128.9L899.9 1129.0L901.9 1129.1L903.9 1129.2L905.9 1129.4L907.9 1129.5L909.9 1129.6L911.9 1129.8L913.9 1129.9L915.9 1130.0L917.9 1130.2L919.8 1130.3L921.8 1130.5L923.8 1130.6L925.8 1130.8L927.8 1130.9L929.8 1131.1L931.8 1131.2L933.8 1131.4L935.8 1131.5L937.8 1131.7L939.8 1131.8L941.8 1132.0L943.8 1132.2L945.8 1132.3L947.8 1132.5L949.8 1132.6L951.8 1132.8L953.8 1133.0L955.8 1133.1L957.8 1133.3L959.8 1133.5L961.8 1133.6L963.8 1133.8L965.8 1133.9L967.8 1134.1L969.8 1134.3L971.8 1134.4L973.8 1134.6L975.7 1134.8L977.7 1134.9L979.7 1135.1L981.7 1135.3L983.7 1135.4L985.7 1135.6L987.7 1135.8L989.7 1135.9L991.7 1136.1L993.7 1136.2L995.7 1136.4L997.7 1136.6L999.7 1136.7L1001.7 1136.9L1003.7 1137.0L1005.7 1137.2L1007.7 1137.4L1009.7 1137.5L1011.7 1137.7L1013.7 1137.8L1015.7 1138.0L1017.7 1138.2L1019.7 1138.3L1021.7 1138.5L1023.7 1138.6L1025.7 1138.8L1027.7 1139.0L1029.6 1139.1L1031.6 1139.3L1033.6 1139.4L1035.6 1139.6L1037.6 1139.8L1039.6 1139.9L1041.6 1140.1L1043.6 1140.2L1045.6 1140.4L1047.6 1140.6L1049.6 1140.7L1051.6 1140.9L1053.6 1141.0L1055.6 1141.2L1057.6 1141.4L1059.6 1141.5L1061.6 1141.7L1063.6 1141.9L1065.6 1142.0L1067.6 1142.2L1069.6 1142.3L1071.6 1142.5L1073.6 1142.7L1075.6 1142.8L1077.6 1143.0L1079.6 1143.2L1081.5 1143.3L1083.5 1143.5L1085.5 1143.6L1087.5 1143.8L1089.5 1144.0L1091.5 1144.1L1093.5 1144.3L1095.5 1144.5L1097.5 1144.6L1099.5 1144.8L1101.5 1144.9L1103.5 1145.1L1105.5 1145.2L1107.5 1145.4L1109.5 1145.6L1111.5 1145.7L1113.5 1145.9L1115.5 1146.0L1117.5 1146.2L1119.5 1146.3L1121.5 1146.5L1123.5 1146.6L1125.5 1146.8L1127.5 1146.9L1129.5 1147.1L1131.5 1147.2L1133.5 1147.3L1135.5 1147.5L1137.5 1147.6L1139.5 1147.8L1141.5 1147.9L1143.5 1148.1L1145.4 1148.2L1147.4 1148.4L1149.4 1148.5L1151.4 1148.7L1153.4 1148.8L1155.4 1149.0L1157.4 1149.1L1159.4 1149.3L1161.4 1149.4L1163.4 1149.5L1165.4 1149.7L1167.4 1149.8L1169.4 1150.0L1171.4 1150.1L1173.4 1150.3L1175.4 1150.4L1177.4 1150.6L1179.4 1150.7L1181.4 1150.9L1183.4 1151.0L1185.4 1151.1L1187.4 1151.3L1189.4 1151.4L1191.4 1151.6L1193.4 1151.7L1195.4 1151.9L1197.4 1152.0L1199.4 1152.2L1201.4 1152.3L1203.4 1152.4L1205.4 1152.6L1207.4 1152.7L1209.4 1152.9L1211.4 1153.0L1213.4 1153.1L1215.4 1153.3L1217.4 1153.4L1219.4 1153.6L1221.4 1153.7L1223.4 1153.8L1225.4 1154.0L1227.4 1154.1L1229.3 1154.3L1231.3 1154.4L1233.3 1154.5L1235.3 1154.7L1237.3 1154.8L1239.3 1155.0L1241.3 1155.1L1243.3 1155.2L1245.3 1155.4L1247.3 1155.5L1249.3 1155.6L1251.3 1155.8L1253.3 1155.9L1255.3 1156.1L1257.3 1156.2L1259.3 1156.3L1261.3 1156.5L1263.3 1156.6L1265.3 1156.7L1267.3 1156.9L1269.3 1157.0L1271.3 1157.1L1273.3 1157.3L1275.3 1157.4L1277.3 1157.5L1279.3 1157.7L1281.3 1157.8L1283.3 1157.9L1285.3 1158.1L1287.3 1158.2L1289.3 1158.4L1291.3 1158.5L1293.3 1158.6L1295.3 1158.8L1297.3 1158.9L1299.3 1159.1L1301.3 1159.3L1303.3 1159.4L1305.3 1159.6L1307.3 1159.8L1309.2 1160.0L1311.2 1160.2L1313.2 1160.4L1315.2 1160.6L1317.2 1160.7L1319.2 1160.9L1321.2 1161.1L1323.2 1161.3L1325.2 1161.5L1327.2 1161.7L1329.2 1161.9L1331.2 1162.1L1333.2 1162.3L1335.2 1162.5L1337.2 1162.7L1339.2 1162.8L1341.1 1163.0L1343.1 1163.2L1345.1 1163.4L1347.1 1163.6L1349.1 1163.8L1351.1 1164.0L1353.1 1164.1L1355.1 1164.3L1357.1 1164.5L1359.1 1164.7L1361.1 1164.9L1363.1 1165.1L1365.1 1165.2L1367.1 1165.4L1369.1 1165.6L1371.1 1165.8L1373.1 1165.9L1375.1 1166.1L1377.0 1166.3L1379.0 1166.5L1381.0 1166.7L1383.0 1166.8L1385.0 1167.0L1387.0 1167.2L1389.0 1167.4L1391.0 1167.5L1393.0 1167.7L1395.0 1167.9L1397.0 1168.0L1399.0 1168.2L1401.0 1168.4L1403.0 1168.6L1405.0 1168.7L1407.0 1168.9L1409.0 1169.1L1411.0 1169.2L1413.0 1169.4L1415.0 1169.6L1417.0 1169.7L1419.0 1169.9L1420.9 1170.1L1422.9 1170.2L1424.9 1170.4L1426.9 1170.6L1428.9 1170.7L1430.9 1170.9L1432.9 1171.0L1434.9 1171.2L1436.9 1171.4L1438.9 1171.5L1440.9 1171.7L1442.9 1171.8L1444.9 1172.0L1446.9 1172.2L1448.9 1172.3L1450.9 1172.5L1452.9 1172.6L1454.9 1172.8L1456.9 1173.0L1458.9 1173.1L1460.9 1173.3L1462.9 1173.4L1464.9 1173.6L1466.9 1173.7L1468.9 1173.9L1470.9 1174.0L1472.9 1174.2L1474.9 1174.4L1476.8 1174.5L1478.8 1174.7L1480.8 1174.8L1482.8 1175.0L1484.8 1175.1L1486.8 1175.3L1488.8 1175.4L1490.8 1175.6L1492.8 1175.7L1494.8 1175.8L1496.8 1176.0L1498.8 1176.1L1500.8 1176.3L1502.8 1176.4L1504.8 1176.6L1506.8 1176.7L1508.8 1176.8L1510.8 1177.0L1512.8 1177.1L1514.8 1177.3L1516.8 1177.4L1518.8 1177.5L1520.8 1177.7L1522.8 1177.8L1524.8 1178.0L1526.8 1178.1L1528.8 1178.2L1530.8 1178.4L1532.8 1178.5L1534.8 1178.6L1536.8 1178.8L1538.8 1178.9L1540.8 1179.0L1542.8 1179.1L1544.8 1179.3L1546.8 1179.4L1548.8 1179.5L1550.8 1179.7L1552.8 1179.8L1554.8 1179.9L1556.8 1180.0L1558.8 1180.2L1560.8 1180.3L1562.8 1180.4L1564.8 1180.5L1566.8 1180.7L1568.8 1180.8L1570.8 1180.9L1572.8 1181.0L1574.8 1181.2L1576.8 1181.3L1578.8 1181.4L1580.8 1181.5L1582.8 1181.7L1584.8 1181.8L1586.8 1181.9L1588.7 1182.0L1590.7 1182.1L1592.7 1182.3L1594.7 1182.4L1596.7 1182.5L1598.7 1182.6L1600.7 1182.7L1602.7 1182.9L1604.7 1183.0L1606.7 1183.1L1608.7 1183.2L1610.7 1183.3L1612.7 1183.5L1614.7 1183.6L1616.7 1183.7L1618.7 1183.8L1620.7 1183.9L1622.7 1184.0L1624.7 1184.2L1626.7 1184.3L1628.7 1184.4L1630.7 1184.5L1632.7 1184.6L1634.7 1184.7L1636.7 1184.9L1638.7 1185.0L1640.7 1185.1L1642.7 1185.2L1644.7 1185.3L1646.7 1185.4L1648.7 1185.6L1650.7 1185.7L1652.7 1185.8L1654.7 1185.9L1656.7 1186.0L1658.7 1186.1L1660.7 1186.2L1662.7 1186.4L1664.7 1186.5L1666.7 1186.6L1668.7 1186.7L1670.7 1186.8L1672.7 1186.9L1674.7 1187.0L1676.7 1187.2L1678.7 1187.3L1680.7 1187.4L1682.7 1187.5L1684.7 1187.6L1686.7 1187.7L1688.7 1187.8L1690.7 1187.9L1692.7 1188.0L1694.7 1188.2L1696.7 1188.3L1698.7 1188.4L1700.7 1188.5L1702.7 1188.6L1704.7 1188.7L1706.7 1188.8L1708.7 1188.9L1710.7 1189.0L1712.7 1189.1L1714.7 1189.2L1716.7 1189.4L1718.7 1189.5L1720.7 1189.6L1722.7 1189.7L1724.7 1189.8L1726.7 1189.9L1728.7 1190.0L1730.7 1190.1L1732.7 1190.2L1734.7 1190.3L1736.7 1190.4L1738.7 1190.5L1740.7 1190.6L1742.7 1190.7L1744.7 1190.8L1746.7 1190.9L1748.7 1191.0L1750.7 1191.1L1752.7 1191.3L1754.7 1191.4L1756.7 1191.5L1758.7 1191.6L1760.7 1191.7L1762.7 1191.8L1764.7 1191.9L1766.7 1192.0L1768.7 1192.1L1770.7 1192.2L1772.7 1192.3L1774.7 1192.4L1776.7 1192.5L1778.7 1192.6L1780.7 1192.7L1782.7 1192.8L1784.7 1192.9L1786.7 1193.0L1788.7 1193.1L1790.7 1193.2L1792.7 1193.3L1794.7 1193.4L1796.7 1193.5L1798.7 1193.6L1800.7 1193.7L1802.7 1193.8L1804.7 1193.9L1806.7 1194.0L1808.7 1194.1L1810.7 1194.2L1812.7 1194.3L1814.7 1194.4L1816.7 1194.5L1818.7 1194.6L1820.7 1194.7L1822.7 1194.8L1824.7 1194.9L1826.7 1195.0L1828.7 1195.1L1830.7 1195.2L1832.7 1195.3L1834.7 1195.4L1836.7 1195.5L1838.7 1195.6L1840.7 1195.7L1842.7 1195.8L1844.7 1195.9L1846.7 1196.0L1848.7 1196.1L1850.7 1196.2L1852.7 1196.3L1854.7 1196.4L1856.7 1196.5L1858.7 1196.6L1860.7 1196.6L1862.7 1196.7L1864.7 1196.8L1866.7 1196.9L1868.7 1197.0L1870.7 1197.1L1872.7 1197.2L1874.7 1197.3L1876.7 1197.4L1878.7 1197.5L1880.7 1197.6L1882.7 1197.7L1884.7 1197.8L1886.7 1197.9L1888.7 1198.0L1890.7 1198.1L1892.7 1198.2L1894.7 1198.3L1896.7 1198.3L1898.7 1198.4L1900.7 1198.5L1902.7 1198.6L1904.7 1198.7L1906.7 1198.8L1908.7 1198.9L1910.7 1199.0L1912.7 1199.1L1914.7 1199.2L1916.7 1199.3L1918.7 1199.3L1920.7 1199.4L1922.7 1199.5L1924.7 1199.6L1926.7 1199.7L1928.7 1199.8L1930.8 1199.9L1932.8 1200.0L1934.8 1200.1L1936.8 1200.2L1938.8 1200.2L1940.8 1200.3L1942.8 1200.4L1944.8 1200.5L1946.8 1200.6L1948.8 1200.7L1950.8 1200.8L1952.8 1200.9L1954.8 1201.0L1956.8 1201.0L1958.8 1201.1L1960.8 1201.2L1962.8 1201.3L1964.8 1201.4L1966.8 1201.5L1968.8 1201.6L1970.8 1201.6L1972.8 1201.7L1974.8 1201.8L1976.8 1201.9L1978.8 1202.0L1980.8 1202.1L1982.8 1202.2L1984.8 1202.2L1986.8 1202.3L1988.8 1202.4L1990.8 1202.5L1992.8 1202.6L1994.8 1202.7L1996.8 1202.8L1998.8 1202.8L2000.8 1202.9L2002.8 1203.0L2004.8 1203.1L2006.8 1203.2L2008.8 1203.3L2010.8 1203.3L2012.8 1203.4L2014.8 1203.5L2016.8 1203.6L2018.8 1203.7L2020.8 1203.8L2022.8 1203.8L2024.8 1203.9L2026.8 1204.0L2028.8 1204.1L2030.8 1204.2L2032.8 1204.2L2034.8 1204.3L2036.8 1204.4L2038.8 1204.5L2040.8 1204.6L2042.8 1204.7L2044.8 1204.7L2046.8 1204.8L2048.8 1204.9L2050.8 1205.0L2052.8 1205.1L2054.8 1205.1L2056.8 1205.2L2058.8 1205.3L2060.8 1205.4L2062.8 1205.5L2064.8 1205.5L2066.8 1205.6L2068.8 1205.7L2070.8 1205.8L2072.8 1205.9L2074.8 1205.9L2076.8 1206.0L2078.8 1206.1L2080.8 1206.2L2082.8 1206.2L2084.8 1206.3L2086.8 1206.4L2088.8 1206.5L2090.8 1206.6L2092.8 1206.6L2094.8 1206.7L2096.8 1206.8L2098.8 1206.9L2100.8 1206.9L2102.8 1207.0L2104.8 1207.1L2106.8 1207.2L2108.8 1207.3L2110.8 1207.3L2112.8 1207.4L2114.8 1207.5L2116.8 1207.6L2118.8 1207.6L2120.9 1207.7L2122.9 1207.8L2124.9 1207.9L2126.9 1207.9L2128.9 1208.0L2130.9 1208.1L2132.9 1208.2L2134.9 1208.2L2136.9 1208.3L2138.9 1208.4L2140.9 1208.5L2142.9 1208.5L2144.9 1208.6L2146.9 1208.7L2148.9 1208.8L2150.9 1208.8L2152.9 1208.9L2154.9 1209.0L2156.9 1209.0L2158.9 1209.1L2160.9 1209.2L2162.9 1209.3L2164.9 1209.3L2166.9 1209.4L2168.9 1209.5L2170.9 1209.6L2172.9 1209.6L2174.9 1209.7L2176.9 1209.8L2178.9 1209.9L2180.9 1209.9L2182.9 1210.0L2184.9 1210.1L2186.9 1210.1L2188.9 1210.2L2190.9 1210.3L2192.9 1210.4L2194.9 1210.4" stroke="#0a0a0a" stroke-width="4.0"/>
<path d="M417.0 300.0L417.0 313.8L417.0 327.6L417.0 341.4L417.1 355.3L417.1 369.1L417.1 382.9L417.1 396.7L417.1 410.5L417.1 424.3L417.1 438.1L417.1 451.9L417.1 465.8L417.2 479.6L417.2 493.4L417.2 507.2L417.2 521.0L417.2 534.8L417.2 548.6L417.2 562.4L417.3 576.2L417.3 590.1L417.3 603.9L417.3 617.7L417.3 631.5L417.3 645.3L417.3 659.1L417.3 672.9L417.4 686.8L417.4 700.6L417.4 714.4L417.4 728.2L417.4 742.0" stroke="#2a2a2a" stroke-width="3.4"/>
<path d="M416.0 340.0L416.0 357.4L416.0 374.8L416.0 392.2L416.0 409.6L416.0 427.0L416.0 444.4L416.0 461.8L416.0 479.2L416.0 496.7L416.0 514.1L416.0 531.5L416.0 548.9L416.0 566.3L416.0 583.7L416.0 601.1L416.0 618.5L416.0 635.9L416.0 653.3L416.0 670.7L416.0 688.1L416.0 705.5L416.0 722.9L416.0 740.3L416.0 757.8L416.0 775.2L416.0 792.6L416.0 810.0L416.0 827.4L416.0 844.8L416.0 862.2L416.0 879.6L416.0 897.0" stroke="#2a2a2a" stroke-width="3.4"/>
<path d="M414.8 460.0L414.8 478.6L414.8 497.2L414.8 515.9L414.8 534.5L414.8 553.1L414.8 571.8L414.8 590.4L414.8 609.0L414.8 627.6L414.8 646.2L414.8 664.9L414.8 683.5L414.8 702.1L414.8 720.8L414.8 739.4L414.8 758.0L414.8 776.6L414.8 795.2L414.8 813.9L414.8 832.5L414.8 851.1L414.8 869.8L414.8 888.4L414.8 907.0L414.8 925.6L414.8 944.2L414.8 962.9L414.8 981.5L414.8 1000.1L414.8 1018.8L414.8 1037.4L414.8 1056.0" stroke="#2a2a2a" stroke-width="3.4"/>
<path d="M416.6 850.0L416.6 860.6L416.5 871.1L416.5 881.7L416.5 892.2L416.4 902.8L416.4 913.3L416.4 923.9L416.4 934.5L416.3 945.0L416.3 955.6L416.3 966.1L416.2 976.7L416.2 987.2L416.2 997.8L416.1 1008.3L416.1 1018.9L416.1 1029.5L416.0 1040.0L416.0 1050.6L416.0 1061.1L415.9 1071.7L415.9 1082.2L415.9 1092.8L415.9 1103.3L415.8 1113.9L415.8 1124.5L415.8 1135.0L415.7 1145.6L415.7 1156.1L415.7 1166.7L415.6 1177.2L415.6 1187.8" stroke="#2a2a2a" stroke-width="3.4"/>
<path d="M409.0 1334.0L411.0 1333.9L413.0 1333.9L415.0 1333.8L417.0 1333.7L419.0 1333.6L421.0 1333.5L423.0 1333.4L425.0 1333.3L427.0 1333.2L429.0 1333.0L431.0 1332.9L433.0 1332.7L435.0 1332.5L437.0 1332.3L439.0 1332.1L441.0 1331.9L443.0 1331.6L445.0 1331.3L446.9 1331.1L448.9 1330.8L450.9 1330.5L452.9 1330.2L454.9 1329.9L456.8 1329.6L458.8 1329.2L460.8 1328.9L462.8 1328.5L464.7 1328.2L466.7 1327.9L468.7 1327.5L470.7 1327.2L472.6 1326.8L474.6 1326.5L476.6 1326.1L478.6 1325.7L480.5 1325.4L482.5 1325.0L484.5 1324.7L486.5 1324.3L488.4 1324.0L490.4 1323.6L492.4 1323.2L494.4 1322.9L496.3 1322.5L498.3 1322.1L500.3 1321.7L502.2 1321.4L504.2 1321.0L506.2 1320.6L508.1 1320.2L510.1 1319.8L512.1 1319.4L514.0 1319.0L516.0 1318.6L517.9 1318.2L519.9 1317.7L521.9 1317.3L523.8 1316.9L525.8 1316.4L527.7 1316.0L529.7 1315.6L531.7 1315.1L533.6 1314.7L535.6 1314.3L537.5 1313.8L539.5 1313.4L541.4 1312.9L543.4 1312.5L545.4 1312.1L547.3 1311.6L549.3 1311.2L551.2 1310.7L553.2 1310.3L555.1 1309.9L557.1 1309.5L559.1 1309.0L561.0 1308.6L563.0 1308.2L564.9 1307.7L566.9 1307.3L568.9 1306.9L570.8 1306.5L572.8 1306.1L574.7 1305.7L576.7 1305.3L578.7 1304.9L580.6 1304.5L582.6 1304.2L584.6 1303.8L586.6 1303.4L588.5 1303.1L590.5 1302.7L592.5 1302.4L594.5 1302.0L596.4 1301.7L598.4 1301.3L600.4 1301.0L602.4 1300.7L604.3 1300.4L606.3 1300.0L608.3 1299.7L610.3 1299.4L612.3 1299.1L614.2 1298.8L616.2 1298.5L618.2 1298.1L620.2 1297.8L622.2 1297.5L624.2 1297.2L626.1 1296.9L628.1 1296.6L630.1 1296.3L632.1 1296.0L634.1 1295.7L636.0 1295.4L638.0 1295.1L640.0 1294.8L642.0 1294.5L644.0 1294.2L646.0 1293.9L647.9 1293.6L649.9 1293.3L651.9 1293.0L653.9 1292.7L655.9 1292.4L657.9 1292.1L659.8 1291.8L661.8 1291.5L663.8 1291.2L665.8 1291.0L667.8 1290.7L669.8 1290.4L671.8 1290.1L673.7 1289.8L675.7 1289.5L677.7 1289.2L679.7 1289.0L681.7 1288.7L683.7 1288.4L685.6 1288.1L687.6 1287.8L689.6 1287.6L691.6 1287.3L693.6 1287.0L695.6 1286.7L697.6 1286.4L699.5 1286.2L701.5 1285.9L703.5 1285.6L705.5 1285.3L707.5 1285.0L709.5 1284.8L711.5 1284.5L713.5 1284.2L715.4 1283.9L717.4 1283.7L719.4 1283.4L721.4 1283.1L723.4 1282.8L725.4 1282.6L727.4 1282.3L729.3 1282.0L731.3 1281.7L733.3 1281.5L735.3 1281.2L737.3 1280.9L739.3 1280.7L741.3 1280.4L743.3 1280.1L745.2 1279.9L747.2 1279.6L749.2 1279.4L751.2 1279.1L753.2 1278.9L755.2 1278.6L757.2 1278.4L759.2 1278.1L761.2 1277.9L763.2 1277.6L765.1 1277.4L767.1 1277.2L769.1 1276.9L771.1 1276.7L773.1 1276.5L775.1 1276.2L777.1 1276.0L779.1 1275.8L781.1 1275.6L783.1 1275.3L785.1 1275.1L787.1 1274.9L789.1 1274.7L791.0 1274.5L793.0 1274.3L795.0 1274.1L797.0 1273.8L799.0 1273.6L801.0 1273.4L803.0 1273.3L805.0 1273.1L807.0 1272.9L809.0 1272.7L811.0 1272.5L813.0 1272.3L815.0 1272.1L817.0 1271.9L819.0 1271.8L821.0 1271.6L823.0 1271.4L825.0 1271.2L827.0 1271.1L829.0 1270.9L831.0 1270.7L833.0 1270.6L835.0 1270.4L837.0 1270.2L839.0 1270.1L841.0 1269.9L843.0 1269.7L845.0 1269.6L847.0 1269.4L849.0 1269.3L851.0 1269.1L853.0 1268.9L855.0 1268.8L857.0 1268.6L859.0 1268.5L861.0 1268.3L863.0 1268.1L865.0 1268.0L867.0 1267.8L869.0 1267.7L871.0 1267.5L873.0 1267.4L875.0 1267.2L877.0 1267.0L879.0 1266.9L881.0 1266.7L883.0 1266.6L885.0 1266.4L886.9 1266.2L888.9 1266.1L890.9 1265.9L892.9 1265.8L894.9 1265.6L896.9 1265.4L898.9 1265.3L900.9 1265.1L902.9 1265.0L904.9 1264.8L906.9 1264.6L908.9 1264.5L910.9 1264.3L912.9 1264.2L914.9 1264.0L916.9 1263.9L918.9 1263.7L920.9 1263.6L922.9 1263.4L924.9 1263.3L926.9 1263.1L928.9 1263.0L930.9 1262.8L932.9 1262.7L934.9 1262.5L936.9 1262.4L938.9 1262.3L940.9 1262.1L942.9 1262.0L944.9 1261.9L946.9 1261.7L948.9 1261.6L950.9 1261.5L952.9 1261.4L954.9 1261.3L957.0 1261.1L959.0 1261.0L961.0 1260.9L963.0 1260.8L965.0 1260.7L967.0 1260.6L969.0 1260.5L971.0 1260.4L973.0 1260.3L975.0 1260.2L977.0 1260.1L979.0 1260.0L981.0 1259.9L983.0 1259.8L985.0 1259.7L987.0 1259.6L989.0 1259.5L991.0 1259.4L993.0 1259.3L995.0 1259.2L997.0 1259.1L999.0 1259.0L1001.0 1258.9L1003.0 1258.8L1005.0 1258.7L1007.0 1258.6L1009.0 1258.5L1011.0 1258.4L1013.0 1258.3L1015.0 1258.2L1017.0 1258.1L1019.0 1258.0L1021.0 1257.9L1023.0 1257.8L1025.0 1257.7L1027.0 1257.6L1029.0 1257.5L1031.1 1257.4L1033.1 1257.2L1035.1 1257.1L1037.1 1257.0L1039.1 1256.9L1041.1 1256.8L1043.1 1256.7L1045.1 1256.6L1047.1 1256.5L1049.1 1256.4L1051.1 1256.3L1053.1 1256.2L1055.1 1256.1L1057.1 1256.0L1059.1 1255.9L1061.1 1255.8L1063.1 1255.7L1065.1 1255.6L1067.1 1255.5L1069.1 1255.4L1071.1 1255.3L1073.1 1255.2L1075.1 1255.1L1077.1 1255.1L1079.1 1255.0L1081.1 1254.9L1083.1 1254.8L1085.1 1254.7L1087.1 1254.6L1089.1 1254.5L1091.1 1254.5L1093.1 1254.4L1095.2 1254.3L1097.2 1254.2L1099.2 1254.2L1101.2 1254.1L1103.2 1254.0L1105.2 1253.9L1107.2 1253.9L1109.2 1253.8L1111.2 1253.7L1113.2 1253.7L1115.2 1253.6L1117.2 1253.5L1119.2 1253.5L1121.2 1253.4L1123.2 1253.3L1125.2 1253.3L1127.2 1253.2L1129.2 1253.1L1131.2 1253.1L1133.2 1253.0L1135.2 1252.9L1137.2 1252.9L1139.2 1252.8L1141.2 1252.8L1143.3 1252.7L1145.3 1252.6L1147.3 1252.6L1149.3 1252.5L1151.3 1252.5L1153.3 1252.4L1155.3 1252.3L1157.3 1252.3L1159.3 1252.2L1161.3 1252.2L1163.3 1252.1L1165.3 1252.1L1167.3 1252.0L1169.3 1251.9L1171.3 1251.9L1173.3 1251.8L1175.3 1251.8L1177.3 1251.7L1179.3 1251.7L1181.3 1251.6L1183.3 1251.6L1185.4 1251.5L1187.4 1251.5L1189.4 1251.4L1191.4 1251.4L1193.4 1251.3L1195.4 1251.3L1197.4 1251.2L1199.4 1251.2L1201.4 1251.1L1203.4 1251.1L1205.4 1251.0L1207.4 1251.0L1209.4 1250.9L1211.4 1250.9L1213.4 1250.8L1215.4 1250.8L1217.4 1250.8L1219.4 1250.7L1221.4 1250.7L1223.4 1250.6L1225.4 1250.6L1227.5 1250.6L1229.5 1250.5L1231.5 1250.5L1233.5 1250.4L1235.5 1250.4L1237.5 1250.4L1239.5 1250.3L1241.5 1250.3L1243.5 1250.2L1245.5 1250.2L1247.5 1250.2L1249.5 1250.1L1251.5 1250.1L1253.5 1250.1L1255.5 1250.0L1257.5 1250.0L1259.5 1250.0L1261.5 1249.9L1263.5 1249.9L1265.5 1249.9L1267.6 1249.8L1269.6 1249.8L1271.6 1249.8L1273.6 1249.7L1275.6 1249.7L1277.6 1249.7L1279.6 1249.7L1281.6 1249.6L1283.6 1249.6L1285.6 1249.6L1287.6 1249.5L1289.6 1249.5L1291.6 1249.5L1293.6 1249.4L1295.6 1249.4L1297.6 1249.4L1299.6 1249.3L1301.6 1249.3L1303.6 1249.3L1305.7 1249.3L1307.7 1249.2L1309.7 1249.2L1311.7 1249.2L1313.7 1249.1L1315.7 1249.1L1317.7 1249.1L1319.7 1249.0L1321.7 1249.0L1323.7 1249.0L1325.7 1249.0L1327.7 1248.9L1329.7 1248.9L1331.7 1248.9L1333.7 1248.8L1335.7 1248.8L1337.7 1248.8L1339.7 1248.8L1341.7 1248.7L1343.8 1248.7L1345.8 1248.7L1347.8 1248.6L1349.8 1248.6L1351.8 1248.6L1353.8 1248.6L1355.8 1248.5L1357.8 1248.5L1359.8 1248.5L1361.8 1248.5L1363.8 1248.4L1365.8 1248.4L1367.8 1248.4L1369.8 1248.3L1371.8 1248.3L1373.8 1248.3L1375.8 1248.3L1377.8 1248.2L1379.8 1248.2L1381.8 1248.2L1383.9 1248.1L1385.9 1248.1L1387.9 1248.1L1389.9 1248.1L1391.9 1248.0L1393.9 1248.0L1395.9 1248.0L1397.9 1248.0L1399.9 1247.9L1401.9 1247.9L1403.9 1247.9L1405.9 1247.9L1407.9 1247.8L1409.9 1247.8L1411.9 1247.8L1413.9 1247.7L1415.9 1247.7L1417.9 1247.7L1419.9 1247.7L1422.0 1247.6L1424.0 1247.6L1426.0 1247.6L1428.0 1247.6L1430.0 1247.5L1432.0 1247.5L1434.0 1247.5L1436.0 1247.5L1438.0 1247.4L1440.0 1247.4" stroke="#1a1a1a" stroke-width="4.8"/>
<path d="M1440.0 1247.4L1443.7 1247.4L1447.3 1247.3L1450.7 1247.3L1454.2 1247.2L1457.6 1247.2L1461.0 1247.2L1464.4 1247.1L1467.8 1247.1L1471.3 1247.0L1474.9 1247.0L1478.7 1247.0L1482.5 1246.9L1486.6 1246.9L1490.8 1246.9L1495.3 1246.8L1500.0 1246.8L1509.2 1246.7L1519.1 1246.7L1529.6 1246.7L1540.7 1246.6L1552.3 1246.6L1564.5 1246.6L1577.0 1246.5L1589.9 1246.5L1603.1 1246.5L1616.6 1246.5L1630.2 1246.5L1644.1 1246.5L1658.0 1246.4L1672.0 1246.4L1686.0 1246.4L1700.0 1246.4L1717.7 1246.4L1736.0 1246.4L1754.7 1246.4L1773.7 1246.4L1793.2 1246.4L1812.9 1246.4L1832.9 1246.4L1853.0 1246.4L1873.4 1246.4L1893.7 1246.4L1914.2 1246.4L1934.6 1246.4L1954.9 1246.4L1975.1 1246.4L1995.2 1246.4L2015.0 1246.4" stroke="#7c7c7c" stroke-width="8.0"/>
<path d="M2015.0 1247.0L2020.3 1247.0L2025.6 1247.0L2030.9 1247.0L2036.1 1247.1L2041.4 1247.1L2046.7 1247.1L2051.9 1247.1L2057.2 1247.1L2062.5 1247.1L2067.8 1247.1L2073.1 1247.2L2078.4 1247.2L2083.8 1247.2L2089.1 1247.2L2094.6 1247.2L2100.0 1247.2L2105.8 1247.2L2111.6 1247.2L2117.5 1247.2L2123.4 1247.2L2129.3 1247.2L2135.2 1247.2L2141.2 1247.2L2147.2 1247.2L2153.2 1247.2L2159.1 1247.2L2165.1 1247.2L2171.1 1247.2L2177.1 1247.2L2183.1 1247.2L2189.1 1247.2L2195.0 1247.2" stroke="#555" stroke-width="6.0"/>
</g>
</g>
<g filter="url(#soft2)">
<g stroke="#808080" stroke-width="3.8" fill="none">
<path d="M409.0 30 V1335.0"/>
<path d="M382.5 1335.0 H409.0"/>
<path d="M382.5 1199.3 H409.0"/>
<path d="M382.5 1063.6 H409.0"/>
<path d="M382.5 927.9 H409.0"/>
<path d="M382.5 792.2 H409.0"/>
<path d="M382.5 656.5 H409.0"/>
<path d="M382.5 520.8 H409.0"/>
<path d="M382.5 385.1 H409.0"/>
<path d="M382.5 249.4 H409.0"/>
<path d="M382.5 113.7 H409.0"/>
</g>
<g stroke="#000" stroke-width="3.8" fill="none">
<path d="M407.1 1334.8 H2197.9"/>
<path d="M409.1 1308.4 V1360.8"/>
<path d="M589.6 1312.3 V1352.8"/>
<path d="M766.6 1308.4 V1360.8"/>
<path d="M947.0 1312.3 V1352.8"/>
<path d="M1124.0 1308.4 V1360.8"/>
<path d="M1304.0 1312.3 V1352.8"/>
<path d="M1481.0 1308.4 V1360.8"/>
<path d="M1657.8 1312.3 V1352.8"/>
<path d="M1838.6 1308.4 V1360.8"/>
<path d="M2015.3 1312.3 V1352.8"/>
<path d="M2195.9 1308.4 V1360.8"/>
</g>
</g>
<g filter="url(#soft3)">
<g stroke="#000" fill="#000">
<path d="M1436.0 117.6L461.5 138.5" fill="none" stroke-width="7.6" stroke-dasharray="33 25.45 6.5 25.45"/>
<path d="M437.5 139.0L461.7 150.0L461.2 127.0Z" stroke="none"/>
<path d="M1429.3 236.8L440.5 289.7" fill="none" stroke-width="7.4" stroke-dasharray="33 25.45 6.5 25.45"/>
<path d="M416.5 291.0L441.1 301.2L439.9 278.2Z" stroke="none"/>
<path d="M1445.5 343.0L471.4 440.6" fill="none" stroke-width="7.0" stroke-dasharray="33 25.45 6.5 25.45"/>
<path d="M447.5 443.0L472.5 452.0L470.2 429.2Z" stroke="none"/>
<path d="M1422.4 444.4L500.7 740.2" fill="none" stroke-width="6.6" stroke-dasharray="33 25.45 6.5 25.45"/>
<path d="M477.8 747.5L504.2 751.1L497.1 729.2Z" stroke="none"/>
<path d="M1445.7 570.0L596.2 970.5" fill="none" stroke-width="6.4" stroke-dasharray="33 25.45 6.5 25.45"/>
<path d="M574.5 980.7L601.1 980.9L591.3 960.1Z" stroke="none"/>
<path d="M1441.7 679.3L785.5 1120.0" fill="none" stroke-width="6.2" stroke-dasharray="33 25.45 6.5 25.45"/>
<path d="M765.6 1133.4L791.9 1129.6L779.1 1110.5Z" stroke="none"/>
<path d="M1433.3 794.2L963.5 1235.6" fill="none" stroke-width="6.2" stroke-dasharray="33 25.45 6.5 25.45"/>
<path d="M946.0 1252.0L971.4 1243.9L955.6 1227.2Z" stroke="none"/>
</g>
</g>
<g filter="url(#soft)">
<text x="0" y="0" font-size="68" transform="translate(337.8 1357.0) scale(1.06 1)" text-anchor="end" stroke="#fff" stroke-width="0.6">0.00</text>
<text x="0" y="0" font-size="68" transform="translate(337.8 1221.3) scale(1.06 1)" text-anchor="end" stroke="#fff" stroke-width="0.6">0.05</text>
<text x="0" y="0" font-size="68" transform="translate(337.8 1085.6) scale(1.06 1)" text-anchor="end" stroke="#fff" stroke-width="0.6">0.10</text>
<text x="0" y="0" font-size="68" transform="translate(337.8 949.9) scale(1.06 1)" text-anchor="end" stroke="#fff" stroke-width="0.6">0.15</text>
<text x="0" y="0" font-size="68" transform="translate(337.8 814.2) scale(1.06 1)" text-anchor="end" stroke="#fff" stroke-width="0.6">0.20</text>
<text x="0" y="0" font-size="68" transform="translate(337.8 678.5) scale(1.06 1)" text-anchor="end" stroke="#fff" stroke-width="0.6">0.25</text>
<text x="0" y="0" font-size="68" transform="translate(337.8 542.8) scale(1.06 1)" text-anchor="end" stroke="#fff" stroke-width="0.6">0.30</text>
<text x="0" y="0" font-size="68" transform="translate(337.8 407.1) scale(1.06 1)" text-anchor="end" stroke="#fff" stroke-width="0.6">0.35</text>
<text x="0" y="0" font-size="68" transform="translate(337.8 271.4) scale(1.06 1)" text-anchor="end" stroke="#fff" stroke-width="0.6">0.40</text>
<text x="0" y="0" font-size="68" transform="translate(337.8 135.7) scale(1.06 1)" text-anchor="end" stroke="#fff" stroke-width="0.6">0.45</text>
<text x="0" y="0" font-size="68" transform="translate(410.6 1455) scale(1.06 1)" text-anchor="middle" stroke="#fff" stroke-width="0.6">0</text>
<text x="0" y="0" font-size="68" transform="translate(768.6 1455) scale(1.06 1)" text-anchor="middle" stroke="#fff" stroke-width="0.6">1</text>
<text x="0" y="0" font-size="68" transform="translate(1125.6 1455) scale(1.06 1)" text-anchor="middle" stroke="#fff" stroke-width="0.6">2</text>
<text x="0" y="0" font-size="68" transform="translate(1482.6 1455) scale(1.06 1)" text-anchor="middle" stroke="#fff" stroke-width="0.6">3</text>
<text x="0" y="0" font-size="68" transform="translate(1840.5 1455) scale(1.06 1)" text-anchor="middle" stroke="#fff" stroke-width="0.6">4</text>
<text x="0" y="0" font-size="68" transform="translate(2194.5 1455) scale(1.06 1)" text-anchor="middle" stroke="#fff" stroke-width="0.6">5</text>
<text x="1487.0 1533.8 1579.1 1624.4 1670.0 1697.5 1769.0" y="139.7 135.2 135.2 135.2 135.2 135.2 135.2" font-size="80.5">−300 mV</text>
<text x="1487.0 1533.0 1578.3 1624.4 1670.0 1697.5 1769.0" y="254.3 249.8 249.8 249.8 249.8 249.8 249.8" font-size="80.5">−275 mV</text>
<text x="1487.0 1533.0 1579.1 1624.4 1670.0 1697.5 1769.0" y="369.7 365.2 365.2 365.2 365.2 365.2 365.2" font-size="80.5">−250 mV</text>
<text x="1487.0 1533.0 1579.1 1624.4 1670.0 1697.5 1769.0" y="480.6 476.1 476.1 476.1 476.1 476.1 476.1" font-size="80.5">−200 mV</text>
<text x="1487.0 1533.6 1579.1 1624.4 1670.0 1697.5 1769.0" y="596.6 592.1 592.1 592.1 592.1 592.1 592.1" font-size="80.5">−150 mV</text>
<text x="1487.0 1533.6 1579.1 1624.4 1670.0 1697.5 1769.0" y="707.5 703.0 703.0 703.0 703.0 703.0 703.0" font-size="80.5">−100 mV</text>
<text x="1487.0 1533.8 1579.1 1670.0 1689.0 1760.5" y="821.8 817.3 817.3 817.3 817.3 817.3" font-size="80.5">−50 mV</text>
<text xml:space="preserve"><tspan x="1190" y="1566.5" font-size="92.5" font-style="italic" style="font-family:'DejaVu Sans',sans-serif" textLength="38.07" lengthAdjust="spacingAndGlyphs">t</tspan><tspan x="1236" y="1566.5" font-size="100"> </tspan><tspan x="1262" y="1582.5" font-size="140" font-style="italic" textLength="31.12" lengthAdjust="spacingAndGlyphs" stroke="#fff" stroke-width="0.6">/</tspan><tspan x="1306" y="1566.5" font-size="100"> </tspan><tspan x="1335.0" y="1566.5" font-size="95" font-style="italic" textLength="39.42" lengthAdjust="spacingAndGlyphs" stroke="#0a0a0a" stroke-width="1.0">s</tspan></text>
<text transform="translate(119.5 946) rotate(-90)" xml:space="preserve"><tspan x="11.5" y="0" font-size="102" font-style="italic" textLength="24.47" lengthAdjust="spacingAndGlyphs">j</tspan><tspan x="40" y="0" font-size="100"> </tspan><tspan x="70" y="16" font-size="140" font-style="italic" textLength="31.12" lengthAdjust="spacingAndGlyphs" stroke="#fff" stroke-width="0.6">/</tspan><tspan x="110" y="0" font-size="100"> </tspan><tspan x="141" y="0" font-size="100" textLength="89.96" lengthAdjust="spacingAndGlyphs" stroke="#fff" stroke-width="0.6">m</tspan><tspan x="237" y="0" font-size="107" textLength="64.23" lengthAdjust="spacingAndGlyphs" stroke="#fff" stroke-width="0.6">A</tspan><tspan x="305" y="0" font-size="100"> </tspan><tspan x="333" y="0" font-size="100" textLength="47.50" lengthAdjust="spacingAndGlyphs" stroke="#fff" stroke-width="0.6">c</tspan><tspan x="384" y="0" font-size="100" textLength="89.96" lengthAdjust="spacingAndGlyphs" stroke="#fff" stroke-width="0.6">m</tspan><tspan x="478" y="-35.5" font-size="70" textLength="37.61" lengthAdjust="spacingAndGlyphs">−</tspan><tspan x="514" y="-36" font-size="72" textLength="40.04" lengthAdjust="spacingAndGlyphs" stroke="#fff" stroke-width="0.4">2</tspan></text>
</g>
</svg></body></html>
